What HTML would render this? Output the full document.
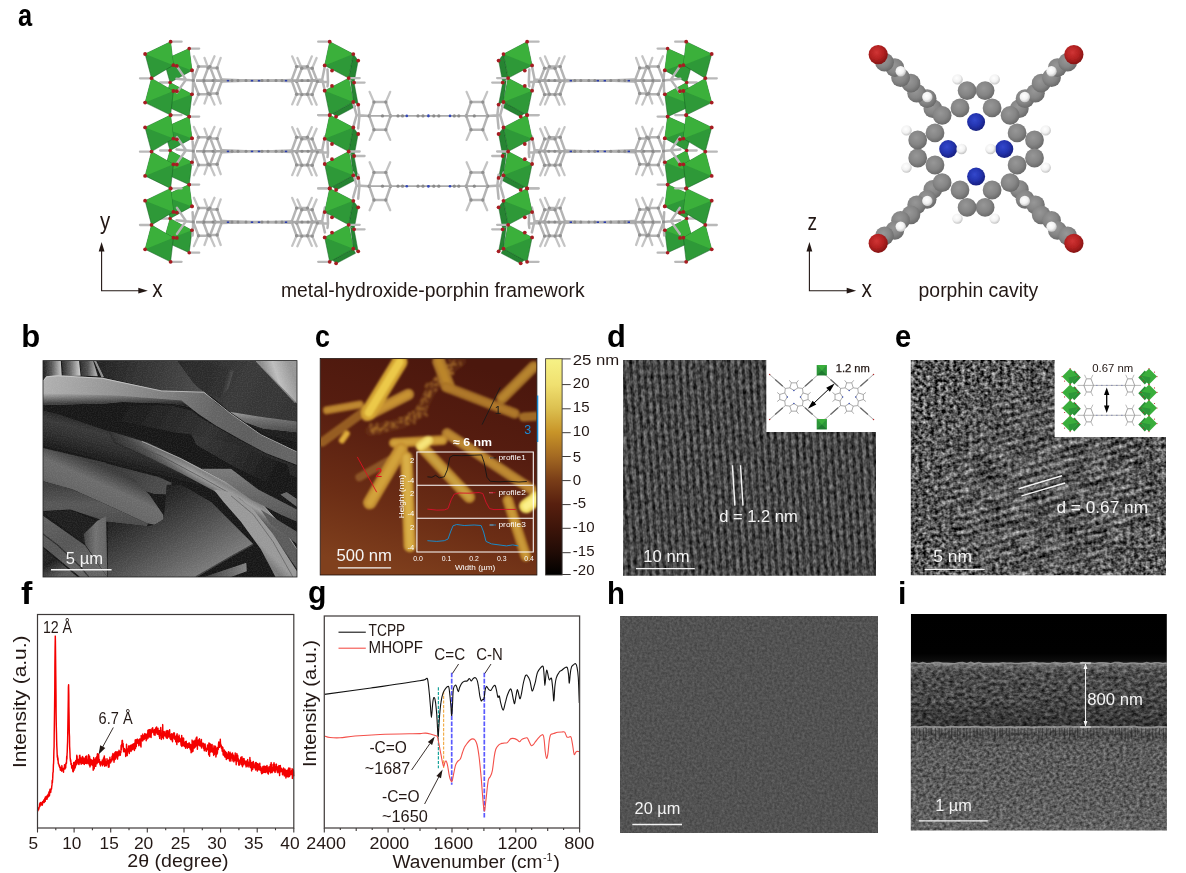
<!DOCTYPE html>
<html lang="en"><head><meta charset="utf-8"><title>Figure</title>
<style>
html,body{margin:0;padding:0;background:#fff;}
body{font-family:"Liberation Sans",sans-serif;overflow:hidden;}
#fig{position:relative;width:1186px;height:873px;background:#fff;overflow:hidden;opacity:0.9999;}
#fig svg{position:absolute;overflow:hidden;}
#fig text{font-family:"Liberation Sans",sans-serif;}
.pl{position:absolute;font-weight:bold;font-size:31px;line-height:1;color:#000;white-space:nowrap;transform-origin:0 0;}
</style></head><body><div id="fig">
<div class="pl" style="left:17.76px;top:0.46px;transform:scaleX(0.820)">a</div>
<div class="pl" style="left:21.30px;top:320.76px;transform:scaleX(1.000)">b</div>
<div class="pl" style="left:314.66px;top:320.76px;transform:scaleX(0.868)">c</div>
<div class="pl" style="left:607.01px;top:320.86px;transform:scaleX(0.994)">d</div>
<div class="pl" style="left:894.97px;top:320.86px;transform:scaleX(0.940)">e</div>
<div class="pl" style="left:21.25px;top:578.06px;transform:scaleX(1.100)">f</div>
<div class="pl" style="left:308.33px;top:577.36px;transform:scaleX(0.974)">g</div>
<div class="pl" style="left:607.22px;top:578.16px;transform:scaleX(0.946)">h</div>
<div class="pl" style="left:898.15px;top:578.06px;transform:scaleX(0.976)">i</div>
<svg style="position:absolute;left:0px;top:0px" width="1186" height="316" viewBox="0 0 1186 316" >
<defs>
<radialGradient id="gag" cx="0.42" cy="0.38" r="0.62"><stop offset="0" stop-color="#979797"/><stop offset="0.6" stop-color="#858585"/><stop offset="1" stop-color="#6a6a6a"/></radialGradient>
<radialGradient id="gab" cx="0.42" cy="0.38" r="0.62"><stop offset="0" stop-color="#3348cc"/><stop offset="0.55" stop-color="#2434b0"/><stop offset="1" stop-color="#182080"/></radialGradient>
<radialGradient id="gar" cx="0.42" cy="0.38" r="0.62"><stop offset="0" stop-color="#d03434"/><stop offset="0.55" stop-color="#b42222"/><stop offset="1" stop-color="#861414"/></radialGradient>
<radialGradient id="gah" cx="0.42" cy="0.38" r="0.62"><stop offset="0" stop-color="#ffffff"/><stop offset="0.6" stop-color="#f2f2f2"/><stop offset="1" stop-color="#c4c4c4"/></radialGradient>
<filter id="fa" x="-2%" y="-2%" width="104%" height="104%"><feGaussianBlur stdDeviation="0.45"/></filter>
</defs>
<g filter="url(#fa)">
<g><polygon points="189.2,48.6 163.7,60.0 170.1,82.5 192.0,70.4" fill="#2e9937" stroke="#145a22" stroke-width="0.50" stroke-linejoin="round"/><polygon points="189.2,48.6 163.7,60.0 192.0,70.4" fill="#3bb03b"/><path d="M189.2 48.6h10.0" stroke="#b9b9b9" stroke-width="2.3" stroke-linecap="round"/><path d="M170.1 82.5h-10.0" stroke="#b9b9b9" stroke-width="2.3" stroke-linecap="round"/><polygon points="170.1,82.6 192.0,94.3 189.2,116.7 163.7,105.1" fill="#2e9937" stroke="#145a22" stroke-width="0.50" stroke-linejoin="round"/><polygon points="170.1,82.6 192.0,94.3 163.7,105.1" fill="#3bb03b"/><polygon points="189.2,116.6 163.7,128.0 170.1,150.5 192.0,138.4" fill="#2e9937" stroke="#145a22" stroke-width="0.50" stroke-linejoin="round"/><polygon points="189.2,116.6 163.7,128.0 192.0,138.4" fill="#3bb03b"/><path d="M189.2 116.6h10.0" stroke="#b9b9b9" stroke-width="2.3" stroke-linecap="round"/><path d="M170.1 150.5h-10.0" stroke="#b9b9b9" stroke-width="2.3" stroke-linecap="round"/><polygon points="170.1,150.6 192.0,162.3 189.2,184.7 163.7,173.1" fill="#2e9937" stroke="#145a22" stroke-width="0.50" stroke-linejoin="round"/><polygon points="170.1,150.6 192.0,162.3 163.7,173.1" fill="#3bb03b"/><polygon points="189.2,184.6 163.7,196.0 170.1,218.5 192.0,206.4" fill="#2e9937" stroke="#145a22" stroke-width="0.50" stroke-linejoin="round"/><polygon points="189.2,184.6 163.7,196.0 192.0,206.4" fill="#3bb03b"/><path d="M189.2 184.6h10.0" stroke="#b9b9b9" stroke-width="2.3" stroke-linecap="round"/><path d="M170.1 218.5h-10.0" stroke="#b9b9b9" stroke-width="2.3" stroke-linecap="round"/><polygon points="170.1,218.6 192.0,230.3 189.2,252.7 163.7,241.1" fill="#2e9937" stroke="#145a22" stroke-width="0.50" stroke-linejoin="round"/><polygon points="170.1,218.6 192.0,230.3 163.7,241.1" fill="#3bb03b"/><path d="M189.2 252.7h10.0" stroke="#b9b9b9" stroke-width="2.3" stroke-linecap="round"/><circle cx="189.2" cy="48.6" r="1.8" fill="#a61d21"/><circle cx="192.0" cy="70.4" r="1.8" fill="#a61d21"/><circle cx="170.1" cy="82.5" r="1.8" fill="#a61d21"/><circle cx="192.0" cy="94.3" r="1.8" fill="#a61d21"/><circle cx="189.2" cy="116.7" r="1.8" fill="#a61d21"/><circle cx="189.2" cy="116.6" r="1.8" fill="#a61d21"/><circle cx="192.0" cy="138.4" r="1.8" fill="#a61d21"/><circle cx="170.1" cy="150.5" r="1.8" fill="#a61d21"/><circle cx="192.0" cy="162.3" r="1.8" fill="#a61d21"/><circle cx="189.2" cy="184.7" r="1.8" fill="#a61d21"/><circle cx="189.2" cy="184.6" r="1.8" fill="#a61d21"/><circle cx="192.0" cy="206.4" r="1.8" fill="#a61d21"/><circle cx="170.1" cy="218.5" r="1.8" fill="#a61d21"/><circle cx="192.0" cy="230.3" r="1.8" fill="#a61d21"/><circle cx="189.2" cy="252.7" r="1.8" fill="#a61d21"/><polygon points="353.3,54.1 358.2,60.6 354.1,82.6 348.7,78.1" fill="#258433" stroke="#145a22" stroke-width="0.40" stroke-linejoin="round"/><path d="M354.1 82.6h10.5" stroke="#b9b9b9" stroke-width="2.3" stroke-linecap="round"/><polygon points="350.5,80.4 354.1,82.6 358.2,104.6 353.3,102.0" fill="#258433" stroke="#145a22" stroke-width="0.40" stroke-linejoin="round"/><polygon points="353.3,102.0 355.6,106.6 336.4,116.8 332.5,113.4" fill="#258433" stroke="#145a22" stroke-width="0.40" stroke-linejoin="round"/><polygon points="353.3,127.5 358.2,134.0 354.1,156.0 348.7,151.5" fill="#258433" stroke="#145a22" stroke-width="0.40" stroke-linejoin="round"/><path d="M354.1 156.0h10.5" stroke="#b9b9b9" stroke-width="2.3" stroke-linecap="round"/><polygon points="350.5,153.7 354.1,155.9 358.2,177.9 353.3,175.3" fill="#258433" stroke="#145a22" stroke-width="0.40" stroke-linejoin="round"/><polygon points="353.3,175.3 355.6,179.9 336.4,190.1 332.5,186.7" fill="#258433" stroke="#145a22" stroke-width="0.40" stroke-linejoin="round"/><polygon points="353.3,200.8 358.2,207.3 354.1,229.3 348.7,224.8" fill="#258433" stroke="#145a22" stroke-width="0.40" stroke-linejoin="round"/><path d="M354.1 229.3h10.5" stroke="#b9b9b9" stroke-width="2.3" stroke-linecap="round"/><polygon points="350.5,227.1 354.1,229.3 358.2,251.3 353.3,248.7" fill="#258433" stroke="#145a22" stroke-width="0.40" stroke-linejoin="round"/><polygon points="353.3,248.7 355.6,253.3 336.4,263.5 332.5,260.1" fill="#258433" stroke="#145a22" stroke-width="0.40" stroke-linejoin="round"/><path d="M198.5 66.6L193.9 56.2M209.9 66.6L214.5 56.2M209.9 94.2L214.5 104.6M198.5 94.2L193.9 104.6M208.1 67.9L204.5 57.9M217.1 67.9L220.7 57.9M217.1 93.5L220.7 103.5M208.1 93.5L204.5 103.5M296.6 66.6L292.2 56.4M307.4 66.6L311.8 56.4M307.4 94.2L311.8 104.4M296.6 94.2L292.2 104.4M301.8 68.2L297.4 58.0M312.2 68.2L316.6 58.0M312.2 94.6L316.6 104.8M301.8 94.6L297.4 104.8" stroke="#c4c4c4" stroke-width="2.30" stroke-linecap="round" fill="none"/><path d="M193.2 80.4L198.5 66.6M198.5 66.6L209.9 66.6M209.9 66.6L215.2 80.4M215.2 80.4L209.9 94.2M209.9 94.2L198.5 94.2M198.5 94.2L193.2 80.4M203.3 80.7L208.1 67.9M208.1 67.9L217.1 67.9M217.1 67.9L221.9 80.7M221.9 80.7L217.1 93.5M217.1 93.5L208.1 93.5M208.1 93.5L203.3 80.7M291.6 80.4L296.6 66.6M296.6 66.6L307.4 66.6M307.4 66.6L312.4 80.4M312.4 80.4L307.4 94.2M307.4 94.2L296.6 94.2M296.6 94.2L291.6 80.4M296.6 81.4L301.8 68.2M301.8 68.2L312.2 68.2M312.2 68.2L317.4 81.4M317.4 81.4L312.2 94.6M312.2 94.6L301.8 94.6M301.8 94.6L296.6 81.4M193.2 80.4L176.5 78.8M193.2 80.4L192.6 70.8M193.2 80.4L192.6 93.9M186.0 79.6L177.0 66.4M186.0 79.6L177.0 92.4M312.4 80.4L322.2 79.4M322.2 79.4L324.9 65.9M322.2 79.4L324.9 90.9M317.4 81.4L328.0 81.9M328.0 81.9L327.5 69.4M328.0 81.9L327.5 86.4" stroke="#b4b4b4" stroke-width="2.50" stroke-linecap="round" fill="none"/><circle cx="193.2" cy="80.4" r="1.7" fill="#909090"/><circle cx="198.5" cy="66.6" r="1.7" fill="#909090"/><circle cx="209.9" cy="66.6" r="1.7" fill="#909090"/><circle cx="215.2" cy="80.4" r="1.7" fill="#909090"/><circle cx="209.9" cy="94.2" r="1.7" fill="#909090"/><circle cx="198.5" cy="94.2" r="1.7" fill="#909090"/><circle cx="203.3" cy="80.7" r="1.7" fill="#909090"/><circle cx="208.1" cy="67.9" r="1.7" fill="#909090"/><circle cx="217.1" cy="67.9" r="1.7" fill="#909090"/><circle cx="221.9" cy="80.7" r="1.7" fill="#909090"/><circle cx="217.1" cy="93.5" r="1.7" fill="#909090"/><circle cx="208.1" cy="93.5" r="1.7" fill="#909090"/><circle cx="291.6" cy="80.4" r="1.7" fill="#909090"/><circle cx="296.6" cy="66.6" r="1.7" fill="#909090"/><circle cx="307.4" cy="66.6" r="1.7" fill="#909090"/><circle cx="312.4" cy="80.4" r="1.7" fill="#909090"/><circle cx="307.4" cy="94.2" r="1.7" fill="#909090"/><circle cx="296.6" cy="94.2" r="1.7" fill="#909090"/><circle cx="296.6" cy="81.4" r="1.7" fill="#909090"/><circle cx="301.8" cy="68.2" r="1.7" fill="#909090"/><circle cx="312.2" cy="68.2" r="1.7" fill="#909090"/><circle cx="317.4" cy="81.4" r="1.7" fill="#909090"/><circle cx="312.2" cy="94.6" r="1.7" fill="#909090"/><circle cx="301.8" cy="94.6" r="1.7" fill="#909090"/><path d="M196.0 80.6L316.0 80.6" stroke="#a6a6a6" stroke-width="2.60" stroke-linecap="butt" fill="none"/><path d="M222.0 79.1L292.0 81.8M222.0 82.0L292.0 79.4" stroke="#b0b0b0" stroke-width="1.50" stroke-linecap="butt" fill="none"/><circle cx="204.0" cy="80.6" r="1.5" fill="#8a8a8a"/><circle cx="213.0" cy="80.6" r="1.5" fill="#8a8a8a"/><circle cx="232.0" cy="80.6" r="1.5" fill="#8a8a8a"/><circle cx="238.0" cy="80.6" r="1.5" fill="#8a8a8a"/><circle cx="246.0" cy="80.6" r="1.5" fill="#8a8a8a"/><circle cx="262.0" cy="80.6" r="1.5" fill="#8a8a8a"/><circle cx="268.0" cy="80.6" r="1.5" fill="#8a8a8a"/><circle cx="276.0" cy="80.6" r="1.5" fill="#8a8a8a"/><circle cx="282.0" cy="80.6" r="1.5" fill="#8a8a8a"/><circle cx="302.0" cy="80.6" r="1.5" fill="#8a8a8a"/><circle cx="308.0" cy="80.6" r="1.5" fill="#8a8a8a"/><rect x="226.8" y="79.9" width="2.4" height="1.6" fill="#2c3cac"/><rect x="250.8" y="79.9" width="2.4" height="1.6" fill="#2c3cac"/><rect x="257.8" y="79.9" width="2.4" height="1.6" fill="#2c3cac"/><rect x="284.8" y="79.9" width="2.4" height="1.6" fill="#2c3cac"/><path d="M198.5 137.3L193.9 126.9M209.9 137.3L214.5 126.9M209.9 164.9L214.5 175.3M198.5 164.9L193.9 175.3M208.1 138.6L204.5 128.6M217.1 138.6L220.7 128.6M217.1 164.2L220.7 174.2M208.1 164.2L204.5 174.2M296.6 137.3L292.2 127.1M307.4 137.3L311.8 127.1M307.4 164.9L311.8 175.1M296.6 164.9L292.2 175.1M301.8 138.9L297.4 128.7M312.2 138.9L316.6 128.7M312.2 165.3L316.6 175.5M301.8 165.3L297.4 175.5" stroke="#c4c4c4" stroke-width="2.30" stroke-linecap="round" fill="none"/><path d="M193.2 151.1L198.5 137.3M198.5 137.3L209.9 137.3M209.9 137.3L215.2 151.1M215.2 151.1L209.9 164.9M209.9 164.9L198.5 164.9M198.5 164.9L193.2 151.1M203.3 151.4L208.1 138.6M208.1 138.6L217.1 138.6M217.1 138.6L221.9 151.4M221.9 151.4L217.1 164.2M217.1 164.2L208.1 164.2M208.1 164.2L203.3 151.4M291.6 151.1L296.6 137.3M296.6 137.3L307.4 137.3M307.4 137.3L312.4 151.1M312.4 151.1L307.4 164.9M307.4 164.9L296.6 164.9M296.6 164.9L291.6 151.1M296.6 152.1L301.8 138.9M301.8 138.9L312.2 138.9M312.2 138.9L317.4 152.1M317.4 152.1L312.2 165.3M312.2 165.3L301.8 165.3M301.8 165.3L296.6 152.1M193.2 151.1L176.5 149.5M193.2 151.1L192.6 141.5M193.2 151.1L192.6 164.6M186.0 150.3L177.0 137.1M186.0 150.3L177.0 163.1M312.4 151.1L322.2 150.1M322.2 150.1L324.9 136.6M322.2 150.1L324.9 161.6M317.4 152.1L328.0 152.6M328.0 152.6L327.5 140.1M328.0 152.6L327.5 157.1" stroke="#b4b4b4" stroke-width="2.50" stroke-linecap="round" fill="none"/><circle cx="193.2" cy="151.1" r="1.7" fill="#909090"/><circle cx="198.5" cy="137.3" r="1.7" fill="#909090"/><circle cx="209.9" cy="137.3" r="1.7" fill="#909090"/><circle cx="215.2" cy="151.1" r="1.7" fill="#909090"/><circle cx="209.9" cy="164.9" r="1.7" fill="#909090"/><circle cx="198.5" cy="164.9" r="1.7" fill="#909090"/><circle cx="203.3" cy="151.4" r="1.7" fill="#909090"/><circle cx="208.1" cy="138.6" r="1.7" fill="#909090"/><circle cx="217.1" cy="138.6" r="1.7" fill="#909090"/><circle cx="221.9" cy="151.4" r="1.7" fill="#909090"/><circle cx="217.1" cy="164.2" r="1.7" fill="#909090"/><circle cx="208.1" cy="164.2" r="1.7" fill="#909090"/><circle cx="291.6" cy="151.1" r="1.7" fill="#909090"/><circle cx="296.6" cy="137.3" r="1.7" fill="#909090"/><circle cx="307.4" cy="137.3" r="1.7" fill="#909090"/><circle cx="312.4" cy="151.1" r="1.7" fill="#909090"/><circle cx="307.4" cy="164.9" r="1.7" fill="#909090"/><circle cx="296.6" cy="164.9" r="1.7" fill="#909090"/><circle cx="296.6" cy="152.1" r="1.7" fill="#909090"/><circle cx="301.8" cy="138.9" r="1.7" fill="#909090"/><circle cx="312.2" cy="138.9" r="1.7" fill="#909090"/><circle cx="317.4" cy="152.1" r="1.7" fill="#909090"/><circle cx="312.2" cy="165.3" r="1.7" fill="#909090"/><circle cx="301.8" cy="165.3" r="1.7" fill="#909090"/><path d="M196.0 151.3L316.0 151.3" stroke="#a6a6a6" stroke-width="2.60" stroke-linecap="butt" fill="none"/><path d="M222.0 149.8L292.0 152.5M222.0 152.7L292.0 150.1" stroke="#b0b0b0" stroke-width="1.50" stroke-linecap="butt" fill="none"/><circle cx="204.0" cy="151.3" r="1.5" fill="#8a8a8a"/><circle cx="213.0" cy="151.3" r="1.5" fill="#8a8a8a"/><circle cx="232.0" cy="151.3" r="1.5" fill="#8a8a8a"/><circle cx="238.0" cy="151.3" r="1.5" fill="#8a8a8a"/><circle cx="246.0" cy="151.3" r="1.5" fill="#8a8a8a"/><circle cx="262.0" cy="151.3" r="1.5" fill="#8a8a8a"/><circle cx="268.0" cy="151.3" r="1.5" fill="#8a8a8a"/><circle cx="276.0" cy="151.3" r="1.5" fill="#8a8a8a"/><circle cx="282.0" cy="151.3" r="1.5" fill="#8a8a8a"/><circle cx="302.0" cy="151.3" r="1.5" fill="#8a8a8a"/><circle cx="308.0" cy="151.3" r="1.5" fill="#8a8a8a"/><rect x="226.8" y="150.6" width="2.4" height="1.6" fill="#2c3cac"/><rect x="250.8" y="150.6" width="2.4" height="1.6" fill="#2c3cac"/><rect x="257.8" y="150.6" width="2.4" height="1.6" fill="#2c3cac"/><rect x="284.8" y="150.6" width="2.4" height="1.6" fill="#2c3cac"/><path d="M198.5 208.1L193.9 197.7M209.9 208.1L214.5 197.7M209.9 235.7L214.5 246.1M198.5 235.7L193.9 246.1M208.1 209.4L204.5 199.4M217.1 209.4L220.7 199.4M217.1 235.0L220.7 245.0M208.1 235.0L204.5 245.0M296.6 208.1L292.2 197.9M307.4 208.1L311.8 197.9M307.4 235.7L311.8 245.9M296.6 235.7L292.2 245.9M301.8 209.7L297.4 199.5M312.2 209.7L316.6 199.5M312.2 236.1L316.6 246.3M301.8 236.1L297.4 246.3" stroke="#c4c4c4" stroke-width="2.30" stroke-linecap="round" fill="none"/><path d="M193.2 221.9L198.5 208.1M198.5 208.1L209.9 208.1M209.9 208.1L215.2 221.9M215.2 221.9L209.9 235.7M209.9 235.7L198.5 235.7M198.5 235.7L193.2 221.9M203.3 222.2L208.1 209.4M208.1 209.4L217.1 209.4M217.1 209.4L221.9 222.2M221.9 222.2L217.1 235.0M217.1 235.0L208.1 235.0M208.1 235.0L203.3 222.2M291.6 221.9L296.6 208.1M296.6 208.1L307.4 208.1M307.4 208.1L312.4 221.9M312.4 221.9L307.4 235.7M307.4 235.7L296.6 235.7M296.6 235.7L291.6 221.9M296.6 222.9L301.8 209.7M301.8 209.7L312.2 209.7M312.2 209.7L317.4 222.9M317.4 222.9L312.2 236.1M312.2 236.1L301.8 236.1M301.8 236.1L296.6 222.9M193.2 221.9L176.5 220.3M193.2 221.9L192.6 212.3M193.2 221.9L192.6 235.4M186.0 221.1L177.0 207.9M186.0 221.1L177.0 233.9M312.4 221.9L322.2 220.9M322.2 220.9L324.9 207.4M322.2 220.9L324.9 232.4M317.4 222.9L328.0 223.4M328.0 223.4L327.5 210.9M328.0 223.4L327.5 227.9" stroke="#b4b4b4" stroke-width="2.50" stroke-linecap="round" fill="none"/><circle cx="193.2" cy="221.9" r="1.7" fill="#909090"/><circle cx="198.5" cy="208.1" r="1.7" fill="#909090"/><circle cx="209.9" cy="208.1" r="1.7" fill="#909090"/><circle cx="215.2" cy="221.9" r="1.7" fill="#909090"/><circle cx="209.9" cy="235.7" r="1.7" fill="#909090"/><circle cx="198.5" cy="235.7" r="1.7" fill="#909090"/><circle cx="203.3" cy="222.2" r="1.7" fill="#909090"/><circle cx="208.1" cy="209.4" r="1.7" fill="#909090"/><circle cx="217.1" cy="209.4" r="1.7" fill="#909090"/><circle cx="221.9" cy="222.2" r="1.7" fill="#909090"/><circle cx="217.1" cy="235.0" r="1.7" fill="#909090"/><circle cx="208.1" cy="235.0" r="1.7" fill="#909090"/><circle cx="291.6" cy="221.9" r="1.7" fill="#909090"/><circle cx="296.6" cy="208.1" r="1.7" fill="#909090"/><circle cx="307.4" cy="208.1" r="1.7" fill="#909090"/><circle cx="312.4" cy="221.9" r="1.7" fill="#909090"/><circle cx="307.4" cy="235.7" r="1.7" fill="#909090"/><circle cx="296.6" cy="235.7" r="1.7" fill="#909090"/><circle cx="296.6" cy="222.9" r="1.7" fill="#909090"/><circle cx="301.8" cy="209.7" r="1.7" fill="#909090"/><circle cx="312.2" cy="209.7" r="1.7" fill="#909090"/><circle cx="317.4" cy="222.9" r="1.7" fill="#909090"/><circle cx="312.2" cy="236.1" r="1.7" fill="#909090"/><circle cx="301.8" cy="236.1" r="1.7" fill="#909090"/><path d="M196.0 222.1L316.0 222.1" stroke="#a6a6a6" stroke-width="2.60" stroke-linecap="butt" fill="none"/><path d="M222.0 220.6L292.0 223.3M222.0 223.5L292.0 220.9" stroke="#b0b0b0" stroke-width="1.50" stroke-linecap="butt" fill="none"/><circle cx="204.0" cy="222.1" r="1.5" fill="#8a8a8a"/><circle cx="213.0" cy="222.1" r="1.5" fill="#8a8a8a"/><circle cx="232.0" cy="222.1" r="1.5" fill="#8a8a8a"/><circle cx="238.0" cy="222.1" r="1.5" fill="#8a8a8a"/><circle cx="246.0" cy="222.1" r="1.5" fill="#8a8a8a"/><circle cx="262.0" cy="222.1" r="1.5" fill="#8a8a8a"/><circle cx="268.0" cy="222.1" r="1.5" fill="#8a8a8a"/><circle cx="276.0" cy="222.1" r="1.5" fill="#8a8a8a"/><circle cx="282.0" cy="222.1" r="1.5" fill="#8a8a8a"/><circle cx="302.0" cy="222.1" r="1.5" fill="#8a8a8a"/><circle cx="308.0" cy="222.1" r="1.5" fill="#8a8a8a"/><rect x="226.8" y="221.4" width="2.4" height="1.6" fill="#2c3cac"/><rect x="250.8" y="221.4" width="2.4" height="1.6" fill="#2c3cac"/><rect x="257.8" y="221.4" width="2.4" height="1.6" fill="#2c3cac"/><rect x="284.8" y="221.4" width="2.4" height="1.6" fill="#2c3cac"/><circle cx="192.0" cy="70.4" r="1.8" fill="#a61d21"/><circle cx="192.0" cy="94.3" r="1.8" fill="#a61d21"/><circle cx="192.0" cy="138.4" r="1.8" fill="#a61d21"/><circle cx="192.0" cy="162.3" r="1.8" fill="#a61d21"/><circle cx="192.0" cy="206.4" r="1.8" fill="#a61d21"/><circle cx="192.0" cy="230.3" r="1.8" fill="#a61d21"/><path d="M374.0 102.1L369.6 91.9M385.8 102.1L390.2 91.9M385.8 129.7L390.2 139.9M374.0 129.7L369.6 139.9" stroke="#c4c4c4" stroke-width="2.30" stroke-linecap="round" fill="none"/><path d="M369.2 115.9L374.0 102.1M374.0 102.1L385.8 102.1M385.8 102.1L390.6 115.9M390.6 115.9L385.8 129.7M385.8 129.7L374.0 129.7M374.0 129.7L369.2 115.9M369.2 115.9L356.6 115.1M356.6 115.1L353.1 102.3M356.6 115.1L353.1 127.4M359.5 115.3L358.2 104.4M359.5 115.3L358.2 128.4" stroke="#b4b4b4" stroke-width="2.50" stroke-linecap="round" fill="none"/><circle cx="369.2" cy="115.9" r="1.7" fill="#909090"/><circle cx="374.0" cy="102.1" r="1.7" fill="#909090"/><circle cx="385.8" cy="102.1" r="1.7" fill="#909090"/><circle cx="390.6" cy="115.9" r="1.7" fill="#909090"/><circle cx="385.8" cy="129.7" r="1.7" fill="#909090"/><circle cx="374.0" cy="129.7" r="1.7" fill="#909090"/><path d="M369.2 115.9L430.0 115.9" stroke="#aaaaaa" stroke-width="1.80" stroke-linecap="butt" fill="none"/><circle cx="382.5" cy="115.9" r="1.6" fill="#8a8a8a"/><circle cx="398.0" cy="115.9" r="1.6" fill="#8a8a8a"/><circle cx="402.5" cy="115.9" r="1.6" fill="#8a8a8a"/><circle cx="418.0" cy="115.9" r="1.6" fill="#8a8a8a"/><circle cx="423.0" cy="115.9" r="1.6" fill="#8a8a8a"/><circle cx="406.8" cy="115.9" r="1.3" fill="#3346b8"/><circle cx="428.4" cy="115.9" r="1.3" fill="#3346b8"/><path d="M374.0 172.4L369.6 162.2M385.8 172.4L390.2 162.2M385.8 200.0L390.2 210.2M374.0 200.0L369.6 210.2" stroke="#c4c4c4" stroke-width="2.30" stroke-linecap="round" fill="none"/><path d="M369.2 186.2L374.0 172.4M374.0 172.4L385.8 172.4M385.8 172.4L390.6 186.2M390.6 186.2L385.8 200.0M385.8 200.0L374.0 200.0M374.0 200.0L369.2 186.2M369.2 186.2L356.6 185.4M356.6 185.4L353.1 172.6M356.6 185.4L353.1 197.7M359.5 185.6L358.2 174.7M359.5 185.6L358.2 198.7" stroke="#b4b4b4" stroke-width="2.50" stroke-linecap="round" fill="none"/><circle cx="369.2" cy="186.2" r="1.7" fill="#909090"/><circle cx="374.0" cy="172.4" r="1.7" fill="#909090"/><circle cx="385.8" cy="172.4" r="1.7" fill="#909090"/><circle cx="390.6" cy="186.2" r="1.7" fill="#909090"/><circle cx="385.8" cy="200.0" r="1.7" fill="#909090"/><circle cx="374.0" cy="200.0" r="1.7" fill="#909090"/><path d="M369.2 186.2L430.0 186.2" stroke="#aaaaaa" stroke-width="1.80" stroke-linecap="butt" fill="none"/><circle cx="382.5" cy="186.2" r="1.6" fill="#8a8a8a"/><circle cx="398.0" cy="186.2" r="1.6" fill="#8a8a8a"/><circle cx="402.5" cy="186.2" r="1.6" fill="#8a8a8a"/><circle cx="418.0" cy="186.2" r="1.6" fill="#8a8a8a"/><circle cx="423.0" cy="186.2" r="1.6" fill="#8a8a8a"/><circle cx="406.8" cy="186.2" r="1.3" fill="#3346b8"/><circle cx="428.4" cy="186.2" r="1.3" fill="#3346b8"/><polygon points="170.6,41.7 145.1,54.0 151.5,78.2 173.4,65.2" fill="#2e9937" stroke="#145a22" stroke-width="0.50" stroke-linejoin="round"/><polygon points="170.6,41.7 145.1,54.0 173.4,65.2" fill="#3bb03b"/><path d="M170.6 41.7h11.0" stroke="#b9b9b9" stroke-width="2.3" stroke-linecap="round"/><path d="M151.5 78.3h-11.5" stroke="#b9b9b9" stroke-width="2.3" stroke-linecap="round"/><polygon points="151.5,78.4 173.4,91.0 170.6,115.1 145.1,102.6" fill="#2e9937" stroke="#145a22" stroke-width="0.50" stroke-linejoin="round"/><polygon points="151.5,78.4 173.4,91.0 145.1,102.6" fill="#3bb03b"/><polygon points="170.6,115.1 145.1,127.4 151.5,151.6 173.4,138.6" fill="#2e9937" stroke="#145a22" stroke-width="0.50" stroke-linejoin="round"/><polygon points="170.6,115.1 145.1,127.4 173.4,138.6" fill="#3bb03b"/><path d="M170.6 115.1h11.0" stroke="#b9b9b9" stroke-width="2.3" stroke-linecap="round"/><path d="M151.5 151.7h-11.5" stroke="#b9b9b9" stroke-width="2.3" stroke-linecap="round"/><polygon points="151.5,151.7 173.4,164.3 170.6,188.4 145.1,175.9" fill="#2e9937" stroke="#145a22" stroke-width="0.50" stroke-linejoin="round"/><polygon points="151.5,151.7 173.4,164.3 145.1,175.9" fill="#3bb03b"/><polygon points="170.6,188.4 145.1,200.7 151.5,224.9 173.4,211.9" fill="#2e9937" stroke="#145a22" stroke-width="0.50" stroke-linejoin="round"/><polygon points="170.6,188.4 145.1,200.7 173.4,211.9" fill="#3bb03b"/><path d="M170.6 188.4h11.0" stroke="#b9b9b9" stroke-width="2.3" stroke-linecap="round"/><path d="M151.5 225.0h-11.5" stroke="#b9b9b9" stroke-width="2.3" stroke-linecap="round"/><polygon points="151.5,225.1 173.4,237.7 170.6,261.8 145.1,249.3" fill="#2e9937" stroke="#145a22" stroke-width="0.50" stroke-linejoin="round"/><polygon points="151.5,225.1 173.4,237.7 145.1,249.3" fill="#3bb03b"/><path d="M170.6 261.8h11.0" stroke="#b9b9b9" stroke-width="2.3" stroke-linecap="round"/><polygon points="329.7,41.7 353.3,54.1 348.7,78.1 324.7,65.4" fill="#2e9937" stroke="#145a22" stroke-width="0.50" stroke-linejoin="round"/><polygon points="329.7,41.7 353.3,54.1 324.7,65.4" fill="#3bb03b"/><path d="M329.7 41.7h-11.5" stroke="#b9b9b9" stroke-width="2.3" stroke-linecap="round"/><path d="M348.7 78.1h11.0" stroke="#b9b9b9" stroke-width="2.3" stroke-linecap="round"/><polygon points="348.7,78.2 324.7,90.7 329.7,115.1 353.3,102.0" fill="#2e9937" stroke="#145a22" stroke-width="0.50" stroke-linejoin="round"/><polygon points="348.7,78.2 324.7,90.7 353.3,102.0" fill="#3bb03b"/><path d="M329.7 115.1h-11.5" stroke="#b9b9b9" stroke-width="2.3" stroke-linecap="round"/><polygon points="329.7,115.1 353.3,127.5 348.7,151.5 324.7,138.8" fill="#2e9937" stroke="#145a22" stroke-width="0.50" stroke-linejoin="round"/><polygon points="329.7,115.1 353.3,127.5 324.7,138.8" fill="#3bb03b"/><path d="M329.7 115.1h-11.5" stroke="#b9b9b9" stroke-width="2.3" stroke-linecap="round"/><path d="M348.7 151.5h11.0" stroke="#b9b9b9" stroke-width="2.3" stroke-linecap="round"/><polygon points="348.7,151.5 324.7,164.0 329.7,188.4 353.3,175.3" fill="#2e9937" stroke="#145a22" stroke-width="0.50" stroke-linejoin="round"/><polygon points="348.7,151.5 324.7,164.0 353.3,175.3" fill="#3bb03b"/><path d="M329.7 188.4h-11.5" stroke="#b9b9b9" stroke-width="2.3" stroke-linecap="round"/><polygon points="329.7,188.4 353.3,200.8 348.7,224.8 324.7,212.1" fill="#2e9937" stroke="#145a22" stroke-width="0.50" stroke-linejoin="round"/><polygon points="329.7,188.4 353.3,200.8 324.7,212.1" fill="#3bb03b"/><path d="M329.7 188.4h-11.5" stroke="#b9b9b9" stroke-width="2.3" stroke-linecap="round"/><path d="M348.7 224.8h11.0" stroke="#b9b9b9" stroke-width="2.3" stroke-linecap="round"/><polygon points="348.7,224.9 324.7,237.4 329.7,261.8 353.3,248.7" fill="#2e9937" stroke="#145a22" stroke-width="0.50" stroke-linejoin="round"/><polygon points="348.7,224.9 324.7,237.4 353.3,248.7" fill="#3bb03b"/><path d="M329.7 261.8h-11.5" stroke="#b9b9b9" stroke-width="2.3" stroke-linecap="round"/><circle cx="170.6" cy="41.7" r="1.9" fill="#a61d21"/><circle cx="145.1" cy="54.0" r="1.9" fill="#a61d21"/><circle cx="151.5" cy="78.2" r="1.9" fill="#a61d21"/><circle cx="173.4" cy="65.2" r="1.9" fill="#a61d21"/><circle cx="176.8" cy="65.9" r="1.9" fill="#a61d21"/><circle cx="173.4" cy="91.0" r="1.9" fill="#a61d21"/><circle cx="170.6" cy="115.1" r="1.9" fill="#a61d21"/><circle cx="145.1" cy="102.6" r="1.9" fill="#a61d21"/><circle cx="176.8" cy="91.2" r="1.9" fill="#a61d21"/><circle cx="170.6" cy="115.1" r="1.9" fill="#a61d21"/><circle cx="145.1" cy="127.4" r="1.9" fill="#a61d21"/><circle cx="151.5" cy="151.6" r="1.9" fill="#a61d21"/><circle cx="173.4" cy="138.6" r="1.9" fill="#a61d21"/><circle cx="176.8" cy="139.3" r="1.9" fill="#a61d21"/><circle cx="173.4" cy="164.3" r="1.9" fill="#a61d21"/><circle cx="170.6" cy="188.4" r="1.9" fill="#a61d21"/><circle cx="145.1" cy="175.9" r="1.9" fill="#a61d21"/><circle cx="176.8" cy="164.5" r="1.9" fill="#a61d21"/><circle cx="170.6" cy="188.4" r="1.9" fill="#a61d21"/><circle cx="145.1" cy="200.7" r="1.9" fill="#a61d21"/><circle cx="151.5" cy="224.9" r="1.9" fill="#a61d21"/><circle cx="173.4" cy="211.9" r="1.9" fill="#a61d21"/><circle cx="176.8" cy="212.6" r="1.9" fill="#a61d21"/><circle cx="173.4" cy="237.7" r="1.9" fill="#a61d21"/><circle cx="170.6" cy="261.8" r="1.9" fill="#a61d21"/><circle cx="145.1" cy="249.3" r="1.9" fill="#a61d21"/><circle cx="176.8" cy="237.9" r="1.9" fill="#a61d21"/><circle cx="329.7" cy="41.7" r="1.9" fill="#a61d21"/><circle cx="353.3" cy="54.1" r="1.9" fill="#a61d21"/><circle cx="348.7" cy="78.1" r="1.9" fill="#a61d21"/><circle cx="324.7" cy="65.4" r="1.9" fill="#a61d21"/><circle cx="358.2" cy="60.6" r="1.9" fill="#a61d21"/><circle cx="332.0" cy="70.6" r="1.9" fill="#a61d21"/><circle cx="354.1" cy="82.6" r="1.9" fill="#a61d21"/><circle cx="324.7" cy="90.7" r="1.9" fill="#a61d21"/><circle cx="329.7" cy="115.1" r="1.9" fill="#a61d21"/><circle cx="353.3" cy="102.0" r="1.9" fill="#a61d21"/><circle cx="358.2" cy="104.6" r="1.9" fill="#a61d21"/><circle cx="336.1" cy="116.6" r="1.9" fill="#a61d21"/><circle cx="332.0" cy="85.9" r="1.9" fill="#a61d21"/><circle cx="329.7" cy="115.1" r="1.9" fill="#a61d21"/><circle cx="353.3" cy="127.5" r="1.9" fill="#a61d21"/><circle cx="348.7" cy="151.5" r="1.9" fill="#a61d21"/><circle cx="324.7" cy="138.8" r="1.9" fill="#a61d21"/><circle cx="358.2" cy="134.0" r="1.9" fill="#a61d21"/><circle cx="332.0" cy="144.0" r="1.9" fill="#a61d21"/><circle cx="354.1" cy="156.0" r="1.9" fill="#a61d21"/><circle cx="324.7" cy="164.0" r="1.9" fill="#a61d21"/><circle cx="329.7" cy="188.4" r="1.9" fill="#a61d21"/><circle cx="353.3" cy="175.3" r="1.9" fill="#a61d21"/><circle cx="358.2" cy="177.9" r="1.9" fill="#a61d21"/><circle cx="336.1" cy="189.9" r="1.9" fill="#a61d21"/><circle cx="332.0" cy="159.2" r="1.9" fill="#a61d21"/><circle cx="329.7" cy="188.4" r="1.9" fill="#a61d21"/><circle cx="353.3" cy="200.8" r="1.9" fill="#a61d21"/><circle cx="348.7" cy="224.8" r="1.9" fill="#a61d21"/><circle cx="324.7" cy="212.1" r="1.9" fill="#a61d21"/><circle cx="358.2" cy="207.3" r="1.9" fill="#a61d21"/><circle cx="332.0" cy="217.3" r="1.9" fill="#a61d21"/><circle cx="354.1" cy="229.3" r="1.9" fill="#a61d21"/><circle cx="324.7" cy="237.4" r="1.9" fill="#a61d21"/><circle cx="329.7" cy="261.8" r="1.9" fill="#a61d21"/><circle cx="353.3" cy="248.7" r="1.9" fill="#a61d21"/><circle cx="358.2" cy="251.3" r="1.9" fill="#a61d21"/><circle cx="336.1" cy="263.3" r="1.9" fill="#a61d21"/><circle cx="332.0" cy="232.6" r="1.9" fill="#a61d21"/></g>
<g transform="translate(856.8,0) scale(-1,1)"><polygon points="189.2,48.6 163.7,60.0 170.1,82.5 192.0,70.4" fill="#2e9937" stroke="#145a22" stroke-width="0.50" stroke-linejoin="round"/><polygon points="189.2,48.6 163.7,60.0 192.0,70.4" fill="#3bb03b"/><path d="M189.2 48.6h10.0" stroke="#b9b9b9" stroke-width="2.3" stroke-linecap="round"/><path d="M170.1 82.5h-10.0" stroke="#b9b9b9" stroke-width="2.3" stroke-linecap="round"/><polygon points="170.1,82.6 192.0,94.3 189.2,116.7 163.7,105.1" fill="#2e9937" stroke="#145a22" stroke-width="0.50" stroke-linejoin="round"/><polygon points="170.1,82.6 192.0,94.3 163.7,105.1" fill="#3bb03b"/><polygon points="189.2,116.6 163.7,128.0 170.1,150.5 192.0,138.4" fill="#2e9937" stroke="#145a22" stroke-width="0.50" stroke-linejoin="round"/><polygon points="189.2,116.6 163.7,128.0 192.0,138.4" fill="#3bb03b"/><path d="M189.2 116.6h10.0" stroke="#b9b9b9" stroke-width="2.3" stroke-linecap="round"/><path d="M170.1 150.5h-10.0" stroke="#b9b9b9" stroke-width="2.3" stroke-linecap="round"/><polygon points="170.1,150.6 192.0,162.3 189.2,184.7 163.7,173.1" fill="#2e9937" stroke="#145a22" stroke-width="0.50" stroke-linejoin="round"/><polygon points="170.1,150.6 192.0,162.3 163.7,173.1" fill="#3bb03b"/><polygon points="189.2,184.6 163.7,196.0 170.1,218.5 192.0,206.4" fill="#2e9937" stroke="#145a22" stroke-width="0.50" stroke-linejoin="round"/><polygon points="189.2,184.6 163.7,196.0 192.0,206.4" fill="#3bb03b"/><path d="M189.2 184.6h10.0" stroke="#b9b9b9" stroke-width="2.3" stroke-linecap="round"/><path d="M170.1 218.5h-10.0" stroke="#b9b9b9" stroke-width="2.3" stroke-linecap="round"/><polygon points="170.1,218.6 192.0,230.3 189.2,252.7 163.7,241.1" fill="#2e9937" stroke="#145a22" stroke-width="0.50" stroke-linejoin="round"/><polygon points="170.1,218.6 192.0,230.3 163.7,241.1" fill="#3bb03b"/><path d="M189.2 252.7h10.0" stroke="#b9b9b9" stroke-width="2.3" stroke-linecap="round"/><circle cx="189.2" cy="48.6" r="1.8" fill="#a61d21"/><circle cx="192.0" cy="70.4" r="1.8" fill="#a61d21"/><circle cx="170.1" cy="82.5" r="1.8" fill="#a61d21"/><circle cx="192.0" cy="94.3" r="1.8" fill="#a61d21"/><circle cx="189.2" cy="116.7" r="1.8" fill="#a61d21"/><circle cx="189.2" cy="116.6" r="1.8" fill="#a61d21"/><circle cx="192.0" cy="138.4" r="1.8" fill="#a61d21"/><circle cx="170.1" cy="150.5" r="1.8" fill="#a61d21"/><circle cx="192.0" cy="162.3" r="1.8" fill="#a61d21"/><circle cx="189.2" cy="184.7" r="1.8" fill="#a61d21"/><circle cx="189.2" cy="184.6" r="1.8" fill="#a61d21"/><circle cx="192.0" cy="206.4" r="1.8" fill="#a61d21"/><circle cx="170.1" cy="218.5" r="1.8" fill="#a61d21"/><circle cx="192.0" cy="230.3" r="1.8" fill="#a61d21"/><circle cx="189.2" cy="252.7" r="1.8" fill="#a61d21"/><polygon points="353.3,54.1 358.2,60.6 354.1,82.6 348.7,78.1" fill="#258433" stroke="#145a22" stroke-width="0.40" stroke-linejoin="round"/><path d="M354.1 82.6h10.5" stroke="#b9b9b9" stroke-width="2.3" stroke-linecap="round"/><polygon points="350.5,80.4 354.1,82.6 358.2,104.6 353.3,102.0" fill="#258433" stroke="#145a22" stroke-width="0.40" stroke-linejoin="round"/><polygon points="353.3,102.0 355.6,106.6 336.4,116.8 332.5,113.4" fill="#258433" stroke="#145a22" stroke-width="0.40" stroke-linejoin="round"/><polygon points="353.3,127.5 358.2,134.0 354.1,156.0 348.7,151.5" fill="#258433" stroke="#145a22" stroke-width="0.40" stroke-linejoin="round"/><path d="M354.1 156.0h10.5" stroke="#b9b9b9" stroke-width="2.3" stroke-linecap="round"/><polygon points="350.5,153.7 354.1,155.9 358.2,177.9 353.3,175.3" fill="#258433" stroke="#145a22" stroke-width="0.40" stroke-linejoin="round"/><polygon points="353.3,175.3 355.6,179.9 336.4,190.1 332.5,186.7" fill="#258433" stroke="#145a22" stroke-width="0.40" stroke-linejoin="round"/><polygon points="353.3,200.8 358.2,207.3 354.1,229.3 348.7,224.8" fill="#258433" stroke="#145a22" stroke-width="0.40" stroke-linejoin="round"/><path d="M354.1 229.3h10.5" stroke="#b9b9b9" stroke-width="2.3" stroke-linecap="round"/><polygon points="350.5,227.1 354.1,229.3 358.2,251.3 353.3,248.7" fill="#258433" stroke="#145a22" stroke-width="0.40" stroke-linejoin="round"/><polygon points="353.3,248.7 355.6,253.3 336.4,263.5 332.5,260.1" fill="#258433" stroke="#145a22" stroke-width="0.40" stroke-linejoin="round"/><path d="M198.5 66.6L193.9 56.2M209.9 66.6L214.5 56.2M209.9 94.2L214.5 104.6M198.5 94.2L193.9 104.6M208.1 67.9L204.5 57.9M217.1 67.9L220.7 57.9M217.1 93.5L220.7 103.5M208.1 93.5L204.5 103.5M296.6 66.6L292.2 56.4M307.4 66.6L311.8 56.4M307.4 94.2L311.8 104.4M296.6 94.2L292.2 104.4M301.8 68.2L297.4 58.0M312.2 68.2L316.6 58.0M312.2 94.6L316.6 104.8M301.8 94.6L297.4 104.8" stroke="#c4c4c4" stroke-width="2.30" stroke-linecap="round" fill="none"/><path d="M193.2 80.4L198.5 66.6M198.5 66.6L209.9 66.6M209.9 66.6L215.2 80.4M215.2 80.4L209.9 94.2M209.9 94.2L198.5 94.2M198.5 94.2L193.2 80.4M203.3 80.7L208.1 67.9M208.1 67.9L217.1 67.9M217.1 67.9L221.9 80.7M221.9 80.7L217.1 93.5M217.1 93.5L208.1 93.5M208.1 93.5L203.3 80.7M291.6 80.4L296.6 66.6M296.6 66.6L307.4 66.6M307.4 66.6L312.4 80.4M312.4 80.4L307.4 94.2M307.4 94.2L296.6 94.2M296.6 94.2L291.6 80.4M296.6 81.4L301.8 68.2M301.8 68.2L312.2 68.2M312.2 68.2L317.4 81.4M317.4 81.4L312.2 94.6M312.2 94.6L301.8 94.6M301.8 94.6L296.6 81.4M193.2 80.4L176.5 78.8M193.2 80.4L192.6 70.8M193.2 80.4L192.6 93.9M186.0 79.6L177.0 66.4M186.0 79.6L177.0 92.4M312.4 80.4L322.2 79.4M322.2 79.4L324.9 65.9M322.2 79.4L324.9 90.9M317.4 81.4L328.0 81.9M328.0 81.9L327.5 69.4M328.0 81.9L327.5 86.4" stroke="#b4b4b4" stroke-width="2.50" stroke-linecap="round" fill="none"/><circle cx="193.2" cy="80.4" r="1.7" fill="#909090"/><circle cx="198.5" cy="66.6" r="1.7" fill="#909090"/><circle cx="209.9" cy="66.6" r="1.7" fill="#909090"/><circle cx="215.2" cy="80.4" r="1.7" fill="#909090"/><circle cx="209.9" cy="94.2" r="1.7" fill="#909090"/><circle cx="198.5" cy="94.2" r="1.7" fill="#909090"/><circle cx="203.3" cy="80.7" r="1.7" fill="#909090"/><circle cx="208.1" cy="67.9" r="1.7" fill="#909090"/><circle cx="217.1" cy="67.9" r="1.7" fill="#909090"/><circle cx="221.9" cy="80.7" r="1.7" fill="#909090"/><circle cx="217.1" cy="93.5" r="1.7" fill="#909090"/><circle cx="208.1" cy="93.5" r="1.7" fill="#909090"/><circle cx="291.6" cy="80.4" r="1.7" fill="#909090"/><circle cx="296.6" cy="66.6" r="1.7" fill="#909090"/><circle cx="307.4" cy="66.6" r="1.7" fill="#909090"/><circle cx="312.4" cy="80.4" r="1.7" fill="#909090"/><circle cx="307.4" cy="94.2" r="1.7" fill="#909090"/><circle cx="296.6" cy="94.2" r="1.7" fill="#909090"/><circle cx="296.6" cy="81.4" r="1.7" fill="#909090"/><circle cx="301.8" cy="68.2" r="1.7" fill="#909090"/><circle cx="312.2" cy="68.2" r="1.7" fill="#909090"/><circle cx="317.4" cy="81.4" r="1.7" fill="#909090"/><circle cx="312.2" cy="94.6" r="1.7" fill="#909090"/><circle cx="301.8" cy="94.6" r="1.7" fill="#909090"/><path d="M196.0 80.6L316.0 80.6" stroke="#a6a6a6" stroke-width="2.60" stroke-linecap="butt" fill="none"/><path d="M222.0 79.1L292.0 81.8M222.0 82.0L292.0 79.4" stroke="#b0b0b0" stroke-width="1.50" stroke-linecap="butt" fill="none"/><circle cx="204.0" cy="80.6" r="1.5" fill="#8a8a8a"/><circle cx="213.0" cy="80.6" r="1.5" fill="#8a8a8a"/><circle cx="232.0" cy="80.6" r="1.5" fill="#8a8a8a"/><circle cx="238.0" cy="80.6" r="1.5" fill="#8a8a8a"/><circle cx="246.0" cy="80.6" r="1.5" fill="#8a8a8a"/><circle cx="262.0" cy="80.6" r="1.5" fill="#8a8a8a"/><circle cx="268.0" cy="80.6" r="1.5" fill="#8a8a8a"/><circle cx="276.0" cy="80.6" r="1.5" fill="#8a8a8a"/><circle cx="282.0" cy="80.6" r="1.5" fill="#8a8a8a"/><circle cx="302.0" cy="80.6" r="1.5" fill="#8a8a8a"/><circle cx="308.0" cy="80.6" r="1.5" fill="#8a8a8a"/><rect x="226.8" y="79.9" width="2.4" height="1.6" fill="#2c3cac"/><rect x="250.8" y="79.9" width="2.4" height="1.6" fill="#2c3cac"/><rect x="257.8" y="79.9" width="2.4" height="1.6" fill="#2c3cac"/><rect x="284.8" y="79.9" width="2.4" height="1.6" fill="#2c3cac"/><path d="M198.5 137.3L193.9 126.9M209.9 137.3L214.5 126.9M209.9 164.9L214.5 175.3M198.5 164.9L193.9 175.3M208.1 138.6L204.5 128.6M217.1 138.6L220.7 128.6M217.1 164.2L220.7 174.2M208.1 164.2L204.5 174.2M296.6 137.3L292.2 127.1M307.4 137.3L311.8 127.1M307.4 164.9L311.8 175.1M296.6 164.9L292.2 175.1M301.8 138.9L297.4 128.7M312.2 138.9L316.6 128.7M312.2 165.3L316.6 175.5M301.8 165.3L297.4 175.5" stroke="#c4c4c4" stroke-width="2.30" stroke-linecap="round" fill="none"/><path d="M193.2 151.1L198.5 137.3M198.5 137.3L209.9 137.3M209.9 137.3L215.2 151.1M215.2 151.1L209.9 164.9M209.9 164.9L198.5 164.9M198.5 164.9L193.2 151.1M203.3 151.4L208.1 138.6M208.1 138.6L217.1 138.6M217.1 138.6L221.9 151.4M221.9 151.4L217.1 164.2M217.1 164.2L208.1 164.2M208.1 164.2L203.3 151.4M291.6 151.1L296.6 137.3M296.6 137.3L307.4 137.3M307.4 137.3L312.4 151.1M312.4 151.1L307.4 164.9M307.4 164.9L296.6 164.9M296.6 164.9L291.6 151.1M296.6 152.1L301.8 138.9M301.8 138.9L312.2 138.9M312.2 138.9L317.4 152.1M317.4 152.1L312.2 165.3M312.2 165.3L301.8 165.3M301.8 165.3L296.6 152.1M193.2 151.1L176.5 149.5M193.2 151.1L192.6 141.5M193.2 151.1L192.6 164.6M186.0 150.3L177.0 137.1M186.0 150.3L177.0 163.1M312.4 151.1L322.2 150.1M322.2 150.1L324.9 136.6M322.2 150.1L324.9 161.6M317.4 152.1L328.0 152.6M328.0 152.6L327.5 140.1M328.0 152.6L327.5 157.1" stroke="#b4b4b4" stroke-width="2.50" stroke-linecap="round" fill="none"/><circle cx="193.2" cy="151.1" r="1.7" fill="#909090"/><circle cx="198.5" cy="137.3" r="1.7" fill="#909090"/><circle cx="209.9" cy="137.3" r="1.7" fill="#909090"/><circle cx="215.2" cy="151.1" r="1.7" fill="#909090"/><circle cx="209.9" cy="164.9" r="1.7" fill="#909090"/><circle cx="198.5" cy="164.9" r="1.7" fill="#909090"/><circle cx="203.3" cy="151.4" r="1.7" fill="#909090"/><circle cx="208.1" cy="138.6" r="1.7" fill="#909090"/><circle cx="217.1" cy="138.6" r="1.7" fill="#909090"/><circle cx="221.9" cy="151.4" r="1.7" fill="#909090"/><circle cx="217.1" cy="164.2" r="1.7" fill="#909090"/><circle cx="208.1" cy="164.2" r="1.7" fill="#909090"/><circle cx="291.6" cy="151.1" r="1.7" fill="#909090"/><circle cx="296.6" cy="137.3" r="1.7" fill="#909090"/><circle cx="307.4" cy="137.3" r="1.7" fill="#909090"/><circle cx="312.4" cy="151.1" r="1.7" fill="#909090"/><circle cx="307.4" cy="164.9" r="1.7" fill="#909090"/><circle cx="296.6" cy="164.9" r="1.7" fill="#909090"/><circle cx="296.6" cy="152.1" r="1.7" fill="#909090"/><circle cx="301.8" cy="138.9" r="1.7" fill="#909090"/><circle cx="312.2" cy="138.9" r="1.7" fill="#909090"/><circle cx="317.4" cy="152.1" r="1.7" fill="#909090"/><circle cx="312.2" cy="165.3" r="1.7" fill="#909090"/><circle cx="301.8" cy="165.3" r="1.7" fill="#909090"/><path d="M196.0 151.3L316.0 151.3" stroke="#a6a6a6" stroke-width="2.60" stroke-linecap="butt" fill="none"/><path d="M222.0 149.8L292.0 152.5M222.0 152.7L292.0 150.1" stroke="#b0b0b0" stroke-width="1.50" stroke-linecap="butt" fill="none"/><circle cx="204.0" cy="151.3" r="1.5" fill="#8a8a8a"/><circle cx="213.0" cy="151.3" r="1.5" fill="#8a8a8a"/><circle cx="232.0" cy="151.3" r="1.5" fill="#8a8a8a"/><circle cx="238.0" cy="151.3" r="1.5" fill="#8a8a8a"/><circle cx="246.0" cy="151.3" r="1.5" fill="#8a8a8a"/><circle cx="262.0" cy="151.3" r="1.5" fill="#8a8a8a"/><circle cx="268.0" cy="151.3" r="1.5" fill="#8a8a8a"/><circle cx="276.0" cy="151.3" r="1.5" fill="#8a8a8a"/><circle cx="282.0" cy="151.3" r="1.5" fill="#8a8a8a"/><circle cx="302.0" cy="151.3" r="1.5" fill="#8a8a8a"/><circle cx="308.0" cy="151.3" r="1.5" fill="#8a8a8a"/><rect x="226.8" y="150.6" width="2.4" height="1.6" fill="#2c3cac"/><rect x="250.8" y="150.6" width="2.4" height="1.6" fill="#2c3cac"/><rect x="257.8" y="150.6" width="2.4" height="1.6" fill="#2c3cac"/><rect x="284.8" y="150.6" width="2.4" height="1.6" fill="#2c3cac"/><path d="M198.5 208.1L193.9 197.7M209.9 208.1L214.5 197.7M209.9 235.7L214.5 246.1M198.5 235.7L193.9 246.1M208.1 209.4L204.5 199.4M217.1 209.4L220.7 199.4M217.1 235.0L220.7 245.0M208.1 235.0L204.5 245.0M296.6 208.1L292.2 197.9M307.4 208.1L311.8 197.9M307.4 235.7L311.8 245.9M296.6 235.7L292.2 245.9M301.8 209.7L297.4 199.5M312.2 209.7L316.6 199.5M312.2 236.1L316.6 246.3M301.8 236.1L297.4 246.3" stroke="#c4c4c4" stroke-width="2.30" stroke-linecap="round" fill="none"/><path d="M193.2 221.9L198.5 208.1M198.5 208.1L209.9 208.1M209.9 208.1L215.2 221.9M215.2 221.9L209.9 235.7M209.9 235.7L198.5 235.7M198.5 235.7L193.2 221.9M203.3 222.2L208.1 209.4M208.1 209.4L217.1 209.4M217.1 209.4L221.9 222.2M221.9 222.2L217.1 235.0M217.1 235.0L208.1 235.0M208.1 235.0L203.3 222.2M291.6 221.9L296.6 208.1M296.6 208.1L307.4 208.1M307.4 208.1L312.4 221.9M312.4 221.9L307.4 235.7M307.4 235.7L296.6 235.7M296.6 235.7L291.6 221.9M296.6 222.9L301.8 209.7M301.8 209.7L312.2 209.7M312.2 209.7L317.4 222.9M317.4 222.9L312.2 236.1M312.2 236.1L301.8 236.1M301.8 236.1L296.6 222.9M193.2 221.9L176.5 220.3M193.2 221.9L192.6 212.3M193.2 221.9L192.6 235.4M186.0 221.1L177.0 207.9M186.0 221.1L177.0 233.9M312.4 221.9L322.2 220.9M322.2 220.9L324.9 207.4M322.2 220.9L324.9 232.4M317.4 222.9L328.0 223.4M328.0 223.4L327.5 210.9M328.0 223.4L327.5 227.9" stroke="#b4b4b4" stroke-width="2.50" stroke-linecap="round" fill="none"/><circle cx="193.2" cy="221.9" r="1.7" fill="#909090"/><circle cx="198.5" cy="208.1" r="1.7" fill="#909090"/><circle cx="209.9" cy="208.1" r="1.7" fill="#909090"/><circle cx="215.2" cy="221.9" r="1.7" fill="#909090"/><circle cx="209.9" cy="235.7" r="1.7" fill="#909090"/><circle cx="198.5" cy="235.7" r="1.7" fill="#909090"/><circle cx="203.3" cy="222.2" r="1.7" fill="#909090"/><circle cx="208.1" cy="209.4" r="1.7" fill="#909090"/><circle cx="217.1" cy="209.4" r="1.7" fill="#909090"/><circle cx="221.9" cy="222.2" r="1.7" fill="#909090"/><circle cx="217.1" cy="235.0" r="1.7" fill="#909090"/><circle cx="208.1" cy="235.0" r="1.7" fill="#909090"/><circle cx="291.6" cy="221.9" r="1.7" fill="#909090"/><circle cx="296.6" cy="208.1" r="1.7" fill="#909090"/><circle cx="307.4" cy="208.1" r="1.7" fill="#909090"/><circle cx="312.4" cy="221.9" r="1.7" fill="#909090"/><circle cx="307.4" cy="235.7" r="1.7" fill="#909090"/><circle cx="296.6" cy="235.7" r="1.7" fill="#909090"/><circle cx="296.6" cy="222.9" r="1.7" fill="#909090"/><circle cx="301.8" cy="209.7" r="1.7" fill="#909090"/><circle cx="312.2" cy="209.7" r="1.7" fill="#909090"/><circle cx="317.4" cy="222.9" r="1.7" fill="#909090"/><circle cx="312.2" cy="236.1" r="1.7" fill="#909090"/><circle cx="301.8" cy="236.1" r="1.7" fill="#909090"/><path d="M196.0 222.1L316.0 222.1" stroke="#a6a6a6" stroke-width="2.60" stroke-linecap="butt" fill="none"/><path d="M222.0 220.6L292.0 223.3M222.0 223.5L292.0 220.9" stroke="#b0b0b0" stroke-width="1.50" stroke-linecap="butt" fill="none"/><circle cx="204.0" cy="222.1" r="1.5" fill="#8a8a8a"/><circle cx="213.0" cy="222.1" r="1.5" fill="#8a8a8a"/><circle cx="232.0" cy="222.1" r="1.5" fill="#8a8a8a"/><circle cx="238.0" cy="222.1" r="1.5" fill="#8a8a8a"/><circle cx="246.0" cy="222.1" r="1.5" fill="#8a8a8a"/><circle cx="262.0" cy="222.1" r="1.5" fill="#8a8a8a"/><circle cx="268.0" cy="222.1" r="1.5" fill="#8a8a8a"/><circle cx="276.0" cy="222.1" r="1.5" fill="#8a8a8a"/><circle cx="282.0" cy="222.1" r="1.5" fill="#8a8a8a"/><circle cx="302.0" cy="222.1" r="1.5" fill="#8a8a8a"/><circle cx="308.0" cy="222.1" r="1.5" fill="#8a8a8a"/><rect x="226.8" y="221.4" width="2.4" height="1.6" fill="#2c3cac"/><rect x="250.8" y="221.4" width="2.4" height="1.6" fill="#2c3cac"/><rect x="257.8" y="221.4" width="2.4" height="1.6" fill="#2c3cac"/><rect x="284.8" y="221.4" width="2.4" height="1.6" fill="#2c3cac"/><circle cx="192.0" cy="70.4" r="1.8" fill="#a61d21"/><circle cx="192.0" cy="94.3" r="1.8" fill="#a61d21"/><circle cx="192.0" cy="138.4" r="1.8" fill="#a61d21"/><circle cx="192.0" cy="162.3" r="1.8" fill="#a61d21"/><circle cx="192.0" cy="206.4" r="1.8" fill="#a61d21"/><circle cx="192.0" cy="230.3" r="1.8" fill="#a61d21"/><path d="M374.0 102.1L369.6 91.9M385.8 102.1L390.2 91.9M385.8 129.7L390.2 139.9M374.0 129.7L369.6 139.9" stroke="#c4c4c4" stroke-width="2.30" stroke-linecap="round" fill="none"/><path d="M369.2 115.9L374.0 102.1M374.0 102.1L385.8 102.1M385.8 102.1L390.6 115.9M390.6 115.9L385.8 129.7M385.8 129.7L374.0 129.7M374.0 129.7L369.2 115.9M369.2 115.9L356.6 115.1M356.6 115.1L353.1 102.3M356.6 115.1L353.1 127.4M359.5 115.3L358.2 104.4M359.5 115.3L358.2 128.4" stroke="#b4b4b4" stroke-width="2.50" stroke-linecap="round" fill="none"/><circle cx="369.2" cy="115.9" r="1.7" fill="#909090"/><circle cx="374.0" cy="102.1" r="1.7" fill="#909090"/><circle cx="385.8" cy="102.1" r="1.7" fill="#909090"/><circle cx="390.6" cy="115.9" r="1.7" fill="#909090"/><circle cx="385.8" cy="129.7" r="1.7" fill="#909090"/><circle cx="374.0" cy="129.7" r="1.7" fill="#909090"/><path d="M369.2 115.9L430.0 115.9" stroke="#aaaaaa" stroke-width="1.80" stroke-linecap="butt" fill="none"/><circle cx="382.5" cy="115.9" r="1.6" fill="#8a8a8a"/><circle cx="398.0" cy="115.9" r="1.6" fill="#8a8a8a"/><circle cx="402.5" cy="115.9" r="1.6" fill="#8a8a8a"/><circle cx="418.0" cy="115.9" r="1.6" fill="#8a8a8a"/><circle cx="423.0" cy="115.9" r="1.6" fill="#8a8a8a"/><circle cx="406.8" cy="115.9" r="1.3" fill="#3346b8"/><circle cx="428.4" cy="115.9" r="1.3" fill="#3346b8"/><path d="M374.0 172.4L369.6 162.2M385.8 172.4L390.2 162.2M385.8 200.0L390.2 210.2M374.0 200.0L369.6 210.2" stroke="#c4c4c4" stroke-width="2.30" stroke-linecap="round" fill="none"/><path d="M369.2 186.2L374.0 172.4M374.0 172.4L385.8 172.4M385.8 172.4L390.6 186.2M390.6 186.2L385.8 200.0M385.8 200.0L374.0 200.0M374.0 200.0L369.2 186.2M369.2 186.2L356.6 185.4M356.6 185.4L353.1 172.6M356.6 185.4L353.1 197.7M359.5 185.6L358.2 174.7M359.5 185.6L358.2 198.7" stroke="#b4b4b4" stroke-width="2.50" stroke-linecap="round" fill="none"/><circle cx="369.2" cy="186.2" r="1.7" fill="#909090"/><circle cx="374.0" cy="172.4" r="1.7" fill="#909090"/><circle cx="385.8" cy="172.4" r="1.7" fill="#909090"/><circle cx="390.6" cy="186.2" r="1.7" fill="#909090"/><circle cx="385.8" cy="200.0" r="1.7" fill="#909090"/><circle cx="374.0" cy="200.0" r="1.7" fill="#909090"/><path d="M369.2 186.2L430.0 186.2" stroke="#aaaaaa" stroke-width="1.80" stroke-linecap="butt" fill="none"/><circle cx="382.5" cy="186.2" r="1.6" fill="#8a8a8a"/><circle cx="398.0" cy="186.2" r="1.6" fill="#8a8a8a"/><circle cx="402.5" cy="186.2" r="1.6" fill="#8a8a8a"/><circle cx="418.0" cy="186.2" r="1.6" fill="#8a8a8a"/><circle cx="423.0" cy="186.2" r="1.6" fill="#8a8a8a"/><circle cx="406.8" cy="186.2" r="1.3" fill="#3346b8"/><circle cx="428.4" cy="186.2" r="1.3" fill="#3346b8"/><polygon points="170.6,41.7 145.1,54.0 151.5,78.2 173.4,65.2" fill="#2e9937" stroke="#145a22" stroke-width="0.50" stroke-linejoin="round"/><polygon points="170.6,41.7 145.1,54.0 173.4,65.2" fill="#3bb03b"/><path d="M170.6 41.7h11.0" stroke="#b9b9b9" stroke-width="2.3" stroke-linecap="round"/><path d="M151.5 78.3h-11.5" stroke="#b9b9b9" stroke-width="2.3" stroke-linecap="round"/><polygon points="151.5,78.4 173.4,91.0 170.6,115.1 145.1,102.6" fill="#2e9937" stroke="#145a22" stroke-width="0.50" stroke-linejoin="round"/><polygon points="151.5,78.4 173.4,91.0 145.1,102.6" fill="#3bb03b"/><polygon points="170.6,115.1 145.1,127.4 151.5,151.6 173.4,138.6" fill="#2e9937" stroke="#145a22" stroke-width="0.50" stroke-linejoin="round"/><polygon points="170.6,115.1 145.1,127.4 173.4,138.6" fill="#3bb03b"/><path d="M170.6 115.1h11.0" stroke="#b9b9b9" stroke-width="2.3" stroke-linecap="round"/><path d="M151.5 151.7h-11.5" stroke="#b9b9b9" stroke-width="2.3" stroke-linecap="round"/><polygon points="151.5,151.7 173.4,164.3 170.6,188.4 145.1,175.9" fill="#2e9937" stroke="#145a22" stroke-width="0.50" stroke-linejoin="round"/><polygon points="151.5,151.7 173.4,164.3 145.1,175.9" fill="#3bb03b"/><polygon points="170.6,188.4 145.1,200.7 151.5,224.9 173.4,211.9" fill="#2e9937" stroke="#145a22" stroke-width="0.50" stroke-linejoin="round"/><polygon points="170.6,188.4 145.1,200.7 173.4,211.9" fill="#3bb03b"/><path d="M170.6 188.4h11.0" stroke="#b9b9b9" stroke-width="2.3" stroke-linecap="round"/><path d="M151.5 225.0h-11.5" stroke="#b9b9b9" stroke-width="2.3" stroke-linecap="round"/><polygon points="151.5,225.1 173.4,237.7 170.6,261.8 145.1,249.3" fill="#2e9937" stroke="#145a22" stroke-width="0.50" stroke-linejoin="round"/><polygon points="151.5,225.1 173.4,237.7 145.1,249.3" fill="#3bb03b"/><path d="M170.6 261.8h11.0" stroke="#b9b9b9" stroke-width="2.3" stroke-linecap="round"/><polygon points="329.7,41.7 353.3,54.1 348.7,78.1 324.7,65.4" fill="#2e9937" stroke="#145a22" stroke-width="0.50" stroke-linejoin="round"/><polygon points="329.7,41.7 353.3,54.1 324.7,65.4" fill="#3bb03b"/><path d="M329.7 41.7h-11.5" stroke="#b9b9b9" stroke-width="2.3" stroke-linecap="round"/><path d="M348.7 78.1h11.0" stroke="#b9b9b9" stroke-width="2.3" stroke-linecap="round"/><polygon points="348.7,78.2 324.7,90.7 329.7,115.1 353.3,102.0" fill="#2e9937" stroke="#145a22" stroke-width="0.50" stroke-linejoin="round"/><polygon points="348.7,78.2 324.7,90.7 353.3,102.0" fill="#3bb03b"/><path d="M329.7 115.1h-11.5" stroke="#b9b9b9" stroke-width="2.3" stroke-linecap="round"/><polygon points="329.7,115.1 353.3,127.5 348.7,151.5 324.7,138.8" fill="#2e9937" stroke="#145a22" stroke-width="0.50" stroke-linejoin="round"/><polygon points="329.7,115.1 353.3,127.5 324.7,138.8" fill="#3bb03b"/><path d="M329.7 115.1h-11.5" stroke="#b9b9b9" stroke-width="2.3" stroke-linecap="round"/><path d="M348.7 151.5h11.0" stroke="#b9b9b9" stroke-width="2.3" stroke-linecap="round"/><polygon points="348.7,151.5 324.7,164.0 329.7,188.4 353.3,175.3" fill="#2e9937" stroke="#145a22" stroke-width="0.50" stroke-linejoin="round"/><polygon points="348.7,151.5 324.7,164.0 353.3,175.3" fill="#3bb03b"/><path d="M329.7 188.4h-11.5" stroke="#b9b9b9" stroke-width="2.3" stroke-linecap="round"/><polygon points="329.7,188.4 353.3,200.8 348.7,224.8 324.7,212.1" fill="#2e9937" stroke="#145a22" stroke-width="0.50" stroke-linejoin="round"/><polygon points="329.7,188.4 353.3,200.8 324.7,212.1" fill="#3bb03b"/><path d="M329.7 188.4h-11.5" stroke="#b9b9b9" stroke-width="2.3" stroke-linecap="round"/><path d="M348.7 224.8h11.0" stroke="#b9b9b9" stroke-width="2.3" stroke-linecap="round"/><polygon points="348.7,224.9 324.7,237.4 329.7,261.8 353.3,248.7" fill="#2e9937" stroke="#145a22" stroke-width="0.50" stroke-linejoin="round"/><polygon points="348.7,224.9 324.7,237.4 353.3,248.7" fill="#3bb03b"/><path d="M329.7 261.8h-11.5" stroke="#b9b9b9" stroke-width="2.3" stroke-linecap="round"/><circle cx="170.6" cy="41.7" r="1.9" fill="#a61d21"/><circle cx="145.1" cy="54.0" r="1.9" fill="#a61d21"/><circle cx="151.5" cy="78.2" r="1.9" fill="#a61d21"/><circle cx="173.4" cy="65.2" r="1.9" fill="#a61d21"/><circle cx="176.8" cy="65.9" r="1.9" fill="#a61d21"/><circle cx="173.4" cy="91.0" r="1.9" fill="#a61d21"/><circle cx="170.6" cy="115.1" r="1.9" fill="#a61d21"/><circle cx="145.1" cy="102.6" r="1.9" fill="#a61d21"/><circle cx="176.8" cy="91.2" r="1.9" fill="#a61d21"/><circle cx="170.6" cy="115.1" r="1.9" fill="#a61d21"/><circle cx="145.1" cy="127.4" r="1.9" fill="#a61d21"/><circle cx="151.5" cy="151.6" r="1.9" fill="#a61d21"/><circle cx="173.4" cy="138.6" r="1.9" fill="#a61d21"/><circle cx="176.8" cy="139.3" r="1.9" fill="#a61d21"/><circle cx="173.4" cy="164.3" r="1.9" fill="#a61d21"/><circle cx="170.6" cy="188.4" r="1.9" fill="#a61d21"/><circle cx="145.1" cy="175.9" r="1.9" fill="#a61d21"/><circle cx="176.8" cy="164.5" r="1.9" fill="#a61d21"/><circle cx="170.6" cy="188.4" r="1.9" fill="#a61d21"/><circle cx="145.1" cy="200.7" r="1.9" fill="#a61d21"/><circle cx="151.5" cy="224.9" r="1.9" fill="#a61d21"/><circle cx="173.4" cy="211.9" r="1.9" fill="#a61d21"/><circle cx="176.8" cy="212.6" r="1.9" fill="#a61d21"/><circle cx="173.4" cy="237.7" r="1.9" fill="#a61d21"/><circle cx="170.6" cy="261.8" r="1.9" fill="#a61d21"/><circle cx="145.1" cy="249.3" r="1.9" fill="#a61d21"/><circle cx="176.8" cy="237.9" r="1.9" fill="#a61d21"/><circle cx="329.7" cy="41.7" r="1.9" fill="#a61d21"/><circle cx="353.3" cy="54.1" r="1.9" fill="#a61d21"/><circle cx="348.7" cy="78.1" r="1.9" fill="#a61d21"/><circle cx="324.7" cy="65.4" r="1.9" fill="#a61d21"/><circle cx="358.2" cy="60.6" r="1.9" fill="#a61d21"/><circle cx="332.0" cy="70.6" r="1.9" fill="#a61d21"/><circle cx="354.1" cy="82.6" r="1.9" fill="#a61d21"/><circle cx="324.7" cy="90.7" r="1.9" fill="#a61d21"/><circle cx="329.7" cy="115.1" r="1.9" fill="#a61d21"/><circle cx="353.3" cy="102.0" r="1.9" fill="#a61d21"/><circle cx="358.2" cy="104.6" r="1.9" fill="#a61d21"/><circle cx="336.1" cy="116.6" r="1.9" fill="#a61d21"/><circle cx="332.0" cy="85.9" r="1.9" fill="#a61d21"/><circle cx="329.7" cy="115.1" r="1.9" fill="#a61d21"/><circle cx="353.3" cy="127.5" r="1.9" fill="#a61d21"/><circle cx="348.7" cy="151.5" r="1.9" fill="#a61d21"/><circle cx="324.7" cy="138.8" r="1.9" fill="#a61d21"/><circle cx="358.2" cy="134.0" r="1.9" fill="#a61d21"/><circle cx="332.0" cy="144.0" r="1.9" fill="#a61d21"/><circle cx="354.1" cy="156.0" r="1.9" fill="#a61d21"/><circle cx="324.7" cy="164.0" r="1.9" fill="#a61d21"/><circle cx="329.7" cy="188.4" r="1.9" fill="#a61d21"/><circle cx="353.3" cy="175.3" r="1.9" fill="#a61d21"/><circle cx="358.2" cy="177.9" r="1.9" fill="#a61d21"/><circle cx="336.1" cy="189.9" r="1.9" fill="#a61d21"/><circle cx="332.0" cy="159.2" r="1.9" fill="#a61d21"/><circle cx="329.7" cy="188.4" r="1.9" fill="#a61d21"/><circle cx="353.3" cy="200.8" r="1.9" fill="#a61d21"/><circle cx="348.7" cy="224.8" r="1.9" fill="#a61d21"/><circle cx="324.7" cy="212.1" r="1.9" fill="#a61d21"/><circle cx="358.2" cy="207.3" r="1.9" fill="#a61d21"/><circle cx="332.0" cy="217.3" r="1.9" fill="#a61d21"/><circle cx="354.1" cy="229.3" r="1.9" fill="#a61d21"/><circle cx="324.7" cy="237.4" r="1.9" fill="#a61d21"/><circle cx="329.7" cy="261.8" r="1.9" fill="#a61d21"/><circle cx="353.3" cy="248.7" r="1.9" fill="#a61d21"/><circle cx="358.2" cy="251.3" r="1.9" fill="#a61d21"/><circle cx="336.1" cy="263.3" r="1.9" fill="#a61d21"/><circle cx="332.0" cy="232.6" r="1.9" fill="#a61d21"/></g>
</g>
<g filter="url(#fa)"><circle cx="932.9" cy="108.7" r="9.4" fill="url(#gag)"/><circle cx="927.1" cy="98.7" r="9.4" fill="url(#gag)"/><circle cx="916.7" cy="93.2" r="9.4" fill="url(#gag)"/><circle cx="910.9" cy="83.2" r="9.4" fill="url(#gag)"/><circle cx="900.6" cy="77.7" r="9.4" fill="url(#gag)"/><circle cx="894.8" cy="67.7" r="9.4" fill="url(#gag)"/><circle cx="884.5" cy="62.2" r="9.4" fill="url(#gag)"/><circle cx="878.2" cy="54.6" r="9.6" fill="url(#gar)"/><circle cx="927.3" cy="97.0" r="5.2" fill="url(#gah)"/><circle cx="900.7" cy="71.3" r="5.2" fill="url(#gah)"/><circle cx="1019.3" cy="108.7" r="9.4" fill="url(#gag)"/><circle cx="1025.1" cy="98.7" r="9.4" fill="url(#gag)"/><circle cx="1035.4" cy="93.2" r="9.4" fill="url(#gag)"/><circle cx="1041.2" cy="83.2" r="9.4" fill="url(#gag)"/><circle cx="1051.5" cy="77.7" r="9.4" fill="url(#gag)"/><circle cx="1057.4" cy="67.7" r="9.4" fill="url(#gag)"/><circle cx="1067.7" cy="62.2" r="9.4" fill="url(#gag)"/><circle cx="1073.9" cy="54.6" r="9.6" fill="url(#gar)"/><circle cx="1024.8" cy="97.0" r="5.2" fill="url(#gah)"/><circle cx="1051.5" cy="71.3" r="5.2" fill="url(#gah)"/><circle cx="932.9" cy="189.3" r="9.4" fill="url(#gag)"/><circle cx="927.1" cy="199.3" r="9.4" fill="url(#gag)"/><circle cx="916.7" cy="204.8" r="9.4" fill="url(#gag)"/><circle cx="910.9" cy="214.8" r="9.4" fill="url(#gag)"/><circle cx="900.6" cy="220.3" r="9.4" fill="url(#gag)"/><circle cx="894.8" cy="230.3" r="9.4" fill="url(#gag)"/><circle cx="884.5" cy="235.8" r="9.4" fill="url(#gag)"/><circle cx="878.2" cy="243.3" r="9.6" fill="url(#gar)"/><circle cx="927.3" cy="200.9" r="5.2" fill="url(#gah)"/><circle cx="900.7" cy="226.6" r="5.2" fill="url(#gah)"/><circle cx="1019.3" cy="189.3" r="9.4" fill="url(#gag)"/><circle cx="1025.1" cy="199.3" r="9.4" fill="url(#gag)"/><circle cx="1035.4" cy="204.8" r="9.4" fill="url(#gag)"/><circle cx="1041.2" cy="214.8" r="9.4" fill="url(#gag)"/><circle cx="1051.5" cy="220.3" r="9.4" fill="url(#gag)"/><circle cx="1057.4" cy="230.3" r="9.4" fill="url(#gag)"/><circle cx="1067.7" cy="235.8" r="9.4" fill="url(#gag)"/><circle cx="1073.9" cy="243.3" r="9.6" fill="url(#gar)"/><circle cx="1024.8" cy="200.9" r="5.2" fill="url(#gah)"/><circle cx="1051.5" cy="226.6" r="5.2" fill="url(#gah)"/><circle cx="967.1" cy="90.6" r="9.4" fill="url(#gag)"/><circle cx="985.1" cy="90.6" r="9.4" fill="url(#gag)"/><circle cx="957.5" cy="79.4" r="5.2" fill="url(#gah)"/><circle cx="994.7" cy="79.4" r="5.2" fill="url(#gah)"/><circle cx="1034.5" cy="140.0" r="9.4" fill="url(#gag)"/><circle cx="1034.5" cy="158.0" r="9.4" fill="url(#gag)"/><circle cx="1045.7" cy="130.4" r="5.2" fill="url(#gah)"/><circle cx="1045.7" cy="167.6" r="5.2" fill="url(#gah)"/><circle cx="985.1" cy="207.4" r="9.4" fill="url(#gag)"/><circle cx="967.1" cy="207.4" r="9.4" fill="url(#gag)"/><circle cx="994.7" cy="218.6" r="5.2" fill="url(#gah)"/><circle cx="957.5" cy="218.6" r="5.2" fill="url(#gah)"/><circle cx="917.7" cy="158.0" r="9.4" fill="url(#gag)"/><circle cx="917.7" cy="140.0" r="9.4" fill="url(#gag)"/><circle cx="906.5" cy="167.6" r="5.2" fill="url(#gah)"/><circle cx="906.5" cy="130.4" r="5.2" fill="url(#gah)"/><circle cx="960.0" cy="107.9" r="9.4" fill="url(#gag)"/><circle cx="992.1" cy="107.9" r="9.4" fill="url(#gag)"/><circle cx="1017.1" cy="132.9" r="9.4" fill="url(#gag)"/><circle cx="1017.1" cy="165.0" r="9.4" fill="url(#gag)"/><circle cx="992.1" cy="190.0" r="9.4" fill="url(#gag)"/><circle cx="960.0" cy="190.0" r="9.4" fill="url(#gag)"/><circle cx="935.0" cy="165.0" r="9.4" fill="url(#gag)"/><circle cx="935.0" cy="132.9" r="9.4" fill="url(#gag)"/><circle cx="942.1" cy="115.3" r="9.4" fill="url(#gag)"/><circle cx="1010.1" cy="115.3" r="9.4" fill="url(#gag)"/><circle cx="942.1" cy="182.7" r="9.4" fill="url(#gag)"/><circle cx="1010.1" cy="182.7" r="9.4" fill="url(#gag)"/><circle cx="976.1" cy="122.0" r="9.0" fill="url(#gab)"/><circle cx="976.1" cy="176.6" r="9.0" fill="url(#gab)"/><circle cx="948.2" cy="149.0" r="9.0" fill="url(#gab)"/><circle cx="1004.3" cy="149.0" r="9.0" fill="url(#gab)"/><circle cx="961.6" cy="149.0" r="5.2" fill="url(#gah)"/><circle cx="990.5" cy="149.0" r="5.2" fill="url(#gah)"/></g>
<path d="M101.6 247.9V290.7H141.8" stroke="#231815" stroke-width="1.1" fill="none"/><path d="M101.6 241.9l-2.9 9.5h5.8z" fill="#231815"/><path d="M147.8 290.7l-9.5 -2.9v5.8z" fill="#231815"/>
<text x="100.00" y="229.30" font-size="24.50" fill="#231815" textLength="10.20" lengthAdjust="spacingAndGlyphs" >y</text>
<text x="152.30" y="296.50" font-size="24.50" fill="#231815" textLength="10.40" lengthAdjust="spacingAndGlyphs" >x</text>
<path d="M809.4 247.9V290.7H850.2" stroke="#231815" stroke-width="1.1" fill="none"/><path d="M809.4 241.9l-2.9 9.5h5.8z" fill="#231815"/><path d="M856.2 290.7l-9.5 -2.9v5.8z" fill="#231815"/>
<text x="807.60" y="229.50" font-size="24.50" fill="#231815" textLength="9.60" lengthAdjust="spacingAndGlyphs" >z</text>
<text x="861.50" y="296.50" font-size="24.50" fill="#231815" textLength="10.40" lengthAdjust="spacingAndGlyphs" >x</text>
<text x="281.00" y="296.60" font-size="20.50" fill="#231815" textLength="303.60" lengthAdjust="spacingAndGlyphs" >metal-hydroxide-porphin framework</text>
<text x="918.60" y="296.60" font-size="20.50" fill="#231815" textLength="119.50" lengthAdjust="spacingAndGlyphs" >porphin cavity</text>
</svg>
<svg style="position:absolute;left:36px;top:354px" width="268" height="230" viewBox="36 354 268 230" >
<defs><linearGradient id="gb1" gradientUnits="userSpaceOnUse" x1="43.0" y1="361.0" x2="60.8" y2="361.0"><stop offset="0" stop-color="#1e1e1e"/><stop offset="0.5" stop-color="#5a5a5a"/><stop offset="1" stop-color="#bebebe"/></linearGradient><linearGradient id="gb2" gradientUnits="userSpaceOnUse" x1="61.8" y1="361.0" x2="79.6" y2="361.0"><stop offset="0" stop-color="#282828"/><stop offset="0.45" stop-color="#646464"/><stop offset="1" stop-color="#c8c8c8"/></linearGradient><linearGradient id="gb3" gradientUnits="userSpaceOnUse" x1="80.1" y1="361.0" x2="95.4" y2="361.0"><stop offset="0" stop-color="#2d2d2d"/><stop offset="0.5" stop-color="#505050"/><stop offset="1" stop-color="#a5a5a5"/></linearGradient><linearGradient id="gb4" gradientUnits="userSpaceOnUse" x1="99.9" y1="361.0" x2="196.4" y2="388.2"><stop offset="0" stop-color="#222222"/><stop offset="0.6" stop-color="#383838"/><stop offset="1" stop-color="#484848"/></linearGradient><linearGradient id="gb5" gradientUnits="userSpaceOnUse" x1="181.5" y1="361.0" x2="290.3" y2="420.4"><stop offset="0" stop-color="#242424"/><stop offset="0.5" stop-color="#383838"/><stop offset="1" stop-color="#323232"/></linearGradient><linearGradient id="gb6" gradientUnits="userSpaceOnUse" x1="181.5" y1="365.9" x2="233.5" y2="380.8"><stop offset="0" stop-color="#282828"/><stop offset="0.85" stop-color="#2e2e2e"/><stop offset="1" stop-color="#5c5c5c"/></linearGradient><linearGradient id="gb7" gradientUnits="userSpaceOnUse" x1="260.7" y1="375.8" x2="290.3" y2="365.9"><stop offset="0" stop-color="#787878"/><stop offset="0.5" stop-color="#bebebe"/><stop offset="1" stop-color="#969696"/></linearGradient><linearGradient id="gb8" gradientUnits="userSpaceOnUse" x1="43.0" y1="385.7" x2="297.0" y2="442.6"><stop offset="0" stop-color="#b0b0b0"/><stop offset="0.25" stop-color="#969696"/><stop offset="0.5" stop-color="#7a7a7a"/><stop offset="0.66" stop-color="#646464"/><stop offset="0.8" stop-color="#5c5c5c"/><stop offset="1" stop-color="#646464"/></linearGradient><linearGradient id="gb9" gradientUnits="userSpaceOnUse" x1="43.0" y1="393.2" x2="43.0" y2="405.5"><stop offset="0" stop-color="#000" stop-opacity="0"/><stop offset="1" stop-color="#000" stop-opacity="0.75"/></linearGradient><linearGradient id="gb10" gradientUnits="userSpaceOnUse" x1="43.0" y1="412.9" x2="43.0" y2="432.7"><stop offset="0" stop-color="#969696"/><stop offset="0.35" stop-color="#6e6e6e"/><stop offset="1" stop-color="#464646"/></linearGradient><linearGradient id="gb11" gradientUnits="userSpaceOnUse" x1="117.2" y1="405.5" x2="216.1" y2="464.9"><stop offset="0" stop-color="#161616"/><stop offset="0.4" stop-color="#242424"/><stop offset="0.8" stop-color="#303030"/><stop offset="1" stop-color="#262626"/></linearGradient><linearGradient id="gb12" gradientUnits="userSpaceOnUse" x1="191.4" y1="435.2" x2="280.4" y2="484.7"><stop offset="0" stop-color="#343434"/><stop offset="0.5" stop-color="#282828"/><stop offset="1" stop-color="#141414"/></linearGradient><linearGradient id="gb13" gradientUnits="userSpaceOnUse" x1="67.7" y1="410.5" x2="57.8" y2="450.0"><stop offset="0" stop-color="#1c1c1c"/><stop offset="0.35" stop-color="#383838"/><stop offset="0.7" stop-color="#2a2a2a"/><stop offset="1" stop-color="#181818"/></linearGradient><linearGradient id="gb14" gradientUnits="userSpaceOnUse" x1="191.4" y1="459.9" x2="181.5" y2="477.3"><stop offset="0" stop-color="#aaaaaa"/><stop offset="0.25" stop-color="#808080"/><stop offset="0.5" stop-color="#9e9e9e"/><stop offset="0.75" stop-color="#707070"/><stop offset="1" stop-color="#5a5a5a"/></linearGradient><linearGradient id="gb15" gradientUnits="userSpaceOnUse" x1="109.8" y1="435.2" x2="191.4" y2="469.8"><stop offset="0" stop-color="#2a2a2a" stop-opacity="0.85"/><stop offset="0.5" stop-color="#2a2a2a" stop-opacity="0.45"/><stop offset="1" stop-color="#2a2a2a" stop-opacity="0"/></linearGradient><linearGradient id="gb16" gradientUnits="userSpaceOnUse" x1="231.0" y1="514.4" x2="216.1" y2="529.2"><stop offset="0" stop-color="#989898"/><stop offset="0.4" stop-color="#787878"/><stop offset="0.75" stop-color="#8a8a8a"/><stop offset="1" stop-color="#5a5a5a"/></linearGradient><linearGradient id="gb17" gradientUnits="userSpaceOnUse" x1="43.0" y1="469.8" x2="43.0" y2="519.3"><stop offset="0" stop-color="#787878"/><stop offset="1" stop-color="#545454"/></linearGradient><linearGradient id="gb18" gradientUnits="userSpaceOnUse" x1="104.8" y1="462.4" x2="161.7" y2="494.6"><stop offset="0" stop-color="#343434"/><stop offset="1" stop-color="#4c4c4c"/></linearGradient><linearGradient id="gb19" gradientUnits="userSpaceOnUse" x1="77.6" y1="455.0" x2="57.8" y2="499.5"><stop offset="0" stop-color="#3a3a3a"/><stop offset="0.35" stop-color="#6c6c6c"/><stop offset="0.7" stop-color="#646464"/><stop offset="1" stop-color="#404040"/></linearGradient><linearGradient id="gb20" gradientUnits="userSpaceOnUse" x1="43.0" y1="484.7" x2="43.0" y2="524.2"><stop offset="0" stop-color="#3c3c3c"/><stop offset="0.5" stop-color="#565656"/><stop offset="1" stop-color="#4a4a4a"/></linearGradient><linearGradient id="gb21" gradientUnits="userSpaceOnUse" x1="83.8" y1="361.0" x2="107.3" y2="361.0"><stop offset="0" stop-color="#464646"/><stop offset="0.5" stop-color="#707070"/><stop offset="1" stop-color="#626262"/></linearGradient><linearGradient id="gb22" gradientUnits="userSpaceOnUse" x1="43.0" y1="519.3" x2="72.7" y2="576.9"><stop offset="0" stop-color="#606060"/><stop offset="0.5" stop-color="#545454"/><stop offset="1" stop-color="#646464"/></linearGradient><linearGradient id="gb23" gradientUnits="userSpaceOnUse" x1="43.0" y1="549.0" x2="57.8" y2="576.9"><stop offset="0" stop-color="#282828"/><stop offset="0.5" stop-color="#1e1e1e"/><stop offset="1" stop-color="#5a5a5a"/></linearGradient><linearGradient id="gb24" gradientUnits="userSpaceOnUse" x1="146.9" y1="489.6" x2="196.4" y2="576.9"><stop offset="0" stop-color="#161616"/><stop offset="0.3" stop-color="#323232"/><stop offset="0.65" stop-color="#565656"/><stop offset="1" stop-color="#7a7a7a"/></linearGradient><linearGradient id="gb25" gradientUnits="userSpaceOnUse" x1="203.8" y1="361.0" x2="246.8" y2="361.0"><stop offset="0" stop-color="#3c3c3c"/><stop offset="1" stop-color="#828282"/></linearGradient>
<filter id="fbb" x="-2%" y="-2%" width="104%" height="104%"><feGaussianBlur stdDeviation="0.7"/></filter>
<filter id="fbn" x="0" y="0" width="100%" height="100%" color-interpolation-filters="sRGB"><feTurbulence type="fractalNoise" baseFrequency="0.8" numOctaves="1" seed="2"/><feColorMatrix type="matrix" values="0 0 0 0 1 0 0 0 0 1 0 0 0 0 1 0.55 0 0 0 -0.2"/></filter>
<clipPath id="cb"><rect x="43.0" y="360.6" width="254.0" height="216.4"/></clipPath>
</defs>
<g clip-path="url(#cb)"><g filter="url(#fbb)"><rect x="43.0" y="360.6" width="254.0" height="216.4" fill="#121212"/><polygon points="43.0,361.0 60.8,361.0 61.8,376.3 43.0,380.8" fill="url(#gb1)"/><polygon points="61.8,361.0 79.1,361.0 80.6,375.8 62.8,376.3" fill="url(#gb2)"/><polygon points="80.1,361.0 93.2,361.0 97.9,376.3 81.3,375.8" fill="url(#gb3)"/><polygon points="94.0,361.0 96.4,361.0 104.3,377.3 101.4,377.3" fill="#8c8c8c"/><polygon points="96.4,361.0 177.8,361.0 193.9,383.3 203.8,391.7 161.7,390.7 104.3,377.3" fill="url(#gb4)"/><polygon points="177.8,361.0 257.0,361.0 297.0,403.0 297.0,421.6 260.7,416.7 229.7,411.7 213.7,398.1 203.8,391.7 193.9,383.3" fill="url(#gb5)"/><polygon points="177.8,361.0 205.0,361.0 233.5,370.9 228.5,388.2 219.8,398.1 203.8,391.7 193.9,383.3" fill="url(#gb6)"/><polygon points="256.2,361.0 297.0,361.0 297.0,403.5" fill="url(#gb7)"/><polyline points="256.2,361.0 295.3,402.6" fill="none" stroke="#969696" stroke-width="1.20" stroke-opacity="0.80" stroke-linejoin="round"/><polygon points="43.0,380.8 46.5,376.3 57.8,375.3 102.4,377.8 161.7,390.7 203.8,391.7 216.1,403.0 231.0,414.2 260.7,435.2 297.0,452.5 297.0,464.9 265.6,453.0 240.9,439.7 216.1,425.8 198.8,414.2 188.9,406.8 171.6,403.5 122.1,402.1 104.8,403.5 43.0,405.0" fill="url(#gb8)"/><polygon points="43.0,393.2 117.2,395.6 181.5,400.6 201.3,416.7 188.9,406.8 171.6,403.5 122.1,402.1 104.8,403.5 43.0,405.0" fill="url(#gb9)"/><polyline points="43.0,381.3 46.5,376.8 57.8,375.8 102.4,378.3 161.7,390.9 203.8,392.2 231.0,413.9 260.7,434.7 297.0,452.0" fill="none" stroke="#d2d2d2" stroke-width="1.00" stroke-opacity="0.75" stroke-linejoin="round"/><polygon points="229.7,411.7 260.7,416.7 297.0,421.6 297.0,432.7 263.1,429.0 245.8,422.8" fill="url(#gb10)"/><polygon points="245.8,422.8 263.1,429.0 297.0,432.7 297.0,442.6 265.6,435.2" fill="#1c1c1c"/><polygon points="109.8,405.0 171.6,405.5 191.4,410.5 201.3,417.9 231.0,435.2 265.6,453.8 297.0,466.1 297.0,477.3 265.6,467.4 238.4,456.2 196.4,435.2 176.6,432.7 117.2,420.4 92.5,410.5" fill="url(#gb11)"/><polygon points="191.4,434.2 231.0,442.6 287.9,464.9 290.3,477.3 280.4,489.6 231.0,464.9 196.4,445.1" fill="url(#gb12)"/><polygon points="43.0,410.5 57.8,413.9 109.8,431.5 146.9,442.6 181.5,458.7 216.1,477.3 240.9,489.6 255.7,499.5 275.5,519.3 297.0,549.0 297.0,576.9 286.6,576.9 265.6,544.0 253.2,524.2 238.4,509.4 216.1,499.5 181.5,484.7 159.3,477.3 104.8,462.4 43.0,448.1" fill="url(#gb13)"/><polygon points="109.8,431.5 146.9,442.6 181.5,458.7 216.1,476.8 240.9,489.1 258.2,499.5 280.4,524.2 297.0,549.0 297.0,568.8 275.5,539.1 258.2,519.3 240.9,505.7 216.1,492.1 181.5,473.5 146.9,456.2 117.2,442.6" fill="url(#gb14)"/><polygon points="107.3,430.3 146.9,441.4 191.4,462.4 191.4,479.7 146.9,458.0 114.7,443.9" fill="url(#gb15)"/><polyline points="141.9,441.4 181.5,458.9 216.1,477.0 240.9,489.4 258.2,499.8 280.4,524.5 297.0,549.2" fill="none" stroke="#c8c8c8" stroke-width="0.90" stroke-opacity="0.70" stroke-linejoin="round"/><polyline points="124.6,441.4 161.7,456.2 201.3,477.3 240.9,499.5 265.6,524.2 290.3,558.9" fill="none" stroke="#464646" stroke-width="0.80" stroke-opacity="0.80" stroke-linejoin="round"/><polygon points="213.7,489.6 231.0,492.1 253.2,509.4 273.0,534.1 297.0,571.2 297.0,576.9 275.5,576.9 260.7,549.0 240.9,521.8 223.6,502.0" fill="url(#gb16)"/><polyline points="231.0,495.8 253.2,514.4 273.0,541.6 292.8,576.9" fill="none" stroke="#5a5a5a" stroke-width="0.90" stroke-opacity="0.80" stroke-linejoin="round"/><polygon points="201.3,468.8 231.0,468.8 258.2,489.6 297.0,509.4 297.0,521.8 280.4,514.4 250.8,499.5 226.0,482.2" fill="url(#gb17)"/><polygon points="260.7,509.4 297.0,531.7 297.0,544.0 270.6,524.2" fill="#585858"/><polygon points="280.4,494.6 286.6,492.1 297.0,499.0 297.0,506.9" fill="#686868"/><polygon points="104.8,462.9 159.3,477.3 171.6,482.7 170.6,494.6 154.3,494.1 117.2,482.2 93.7,469.8" fill="url(#gb18)"/><polygon points="43.0,468.8 43.0,448.1 72.7,455.0 104.8,462.4 132.0,477.3 149.4,494.6 163.2,514.8 163.7,519.3 154.8,524.7 146.9,523.3 117.2,509.4 72.7,489.6 43.0,481.2" fill="url(#gb19)"/><polygon points="43.0,481.2 72.7,489.6 117.2,509.4 148.1,523.8 146.9,526.2 107.3,521.8 70.2,509.4 43.0,510.9" fill="url(#gb20)"/><polygon points="43.0,511.4 70.2,509.9 96.2,520.8 83.8,534.1 85.0,544.0 43.0,512.4" fill="#1e1e1e"/><polygon points="97.4,520.8 106.1,516.3 107.3,576.9 85.0,544.0 83.8,534.1" fill="url(#gb21)"/><polygon points="43.0,515.8 85.0,545.3 107.3,576.9 80.1,576.9 43.0,546.5" fill="url(#gb22)"/><polyline points="43.0,534.1 57.8,545.3 80.1,566.3 88.8,576.9" fill="none" stroke="#282828" stroke-width="1.20" stroke-opacity="0.90" stroke-linejoin="round"/><polygon points="43.0,548.0 77.6,576.9 43.0,576.9" fill="url(#gb23)"/><polygon points="107.8,521.8 146.9,526.2 154.8,524.7 163.7,519.3 166.7,484.7 181.5,484.7 211.2,502.0 253.2,544.0 231.0,556.4 196.4,576.9 107.8,576.9" fill="url(#gb24)"/><polygon points="107.8,521.8 163.7,519.3 166.7,484.7 159.3,477.3 149.4,494.6 163.2,514.8 154.8,524.7 107.8,523.0" fill="#141414" fill-opacity="0.00"/><polygon points="203.8,576.9 246.3,562.8 246.8,571.2 231.0,576.9" fill="url(#gb25)"/><polyline points="253.2,544.3 231.0,556.6 195.9,576.9" fill="none" stroke="#3c3c3c" stroke-width="1.40" stroke-opacity="0.90" stroke-linejoin="round"/></g>
<rect x="43.0" y="360.6" width="254.0" height="216.4" filter="url(#fbn)" opacity="0.35"/>
</g>
<rect x="43.0" y="360.6" width="254.0" height="216.4" fill="none" stroke="#222" stroke-width="0.8"/>
<path d="M51 569.8H111.6" stroke="#f4f4f4" stroke-width="1.5"/>
<text x="65.80" y="563.60" font-size="16.20" fill="#f4f4f4" textLength="37.20" lengthAdjust="spacingAndGlyphs" >5 µm</text>
</svg>
<svg style="position:absolute;left:300px;top:350px" width="330" height="232" viewBox="300 350 330 232" >
<defs>
<linearGradient id="gc0" x1="0.6" y1="0" x2="0.3" y2="1"><stop offset="0" stop-color="#4b170d"/><stop offset="0.35" stop-color="#561d10"/><stop offset="0.7" stop-color="#6b2d15"/><stop offset="1" stop-color="#80401d"/></linearGradient>
<linearGradient id="gcb" x1="0" y1="0" x2="0" y2="1"><stop offset="0" stop-color="#f6f286"/><stop offset="0.12" stop-color="#f0e070"/><stop offset="0.23" stop-color="#dcc050"/><stop offset="0.34" stop-color="#c89428"/><stop offset="0.45" stop-color="#a46a22"/><stop offset="0.56" stop-color="#7a3e18"/><stop offset="0.67" stop-color="#58200f"/><stop offset="0.78" stop-color="#3e150a"/><stop offset="0.89" stop-color="#220c06"/><stop offset="1" stop-color="#000"/></linearGradient>
<filter id="fcb" x="-5%" y="-5%" width="110%" height="110%"><feGaussianBlur stdDeviation="1.0"/></filter>
<filter id="fcm" x="0" y="0" width="100%" height="100%" color-interpolation-filters="sRGB"><feTurbulence type="fractalNoise" baseFrequency="0.45" numOctaves="2" seed="4"/><feColorMatrix type="matrix" values="0 0 0 0 0.62 0 0 0 0 0.36 0 0 0 0 0.14 3.2 0 0 0 -1.35"/></filter>
<clipPath id="cc"><rect x="320.2" y="358.5" width="216.7" height="216.5"/></clipPath>
<clipPath id="ccm"><path d="M373.4 430.1L402.0 423.1L419.4 412.7L429.4 392.8L444.3 372.9L459.2 361.7" stroke-width="12" fill="none"/></clipPath>
</defs>
<g clip-path="url(#cc)">
<rect x="320.2" y="358.5" width="216.7" height="216.5" fill="url(#gc0)"/>
<g filter="url(#fcb)">
<path d="M371.0 430.6L402.0 423.1L419.4 413.2L429.4 392.8L444.3 372.9L460.4 361.0" stroke="#7a4420" stroke-width="11" stroke-opacity="0.35" fill="none" stroke-linejoin="round" stroke-linecap="round"/>
<g fill="#a8702c" fill-opacity="0.55"><circle cx="385.2" cy="424.9" r="1.0"/><circle cx="370.5" cy="427.2" r="1.3"/><circle cx="379.8" cy="430.0" r="1.5"/><circle cx="387.4" cy="422.6" r="1.6"/><circle cx="375.1" cy="428.0" r="1.8"/><circle cx="372.9" cy="430.7" r="1.7"/><circle cx="373.1" cy="429.1" r="1.3"/><circle cx="396.6" cy="422.1" r="0.9"/><circle cx="373.5" cy="432.9" r="1.0"/><circle cx="401.2" cy="421.6" r="1.8"/><circle cx="374.1" cy="428.5" r="1.2"/><circle cx="390.4" cy="426.6" r="1.1"/><circle cx="393.0" cy="426.9" r="1.7"/><circle cx="383.5" cy="428.1" r="1.3"/><circle cx="388.9" cy="423.5" r="0.9"/><circle cx="393.6" cy="425.5" r="1.9"/><circle cx="401.0" cy="422.0" r="1.3"/><circle cx="391.9" cy="423.3" r="1.6"/><circle cx="374.6" cy="430.0" r="1.4"/><circle cx="396.7" cy="427.1" r="1.4"/><circle cx="372.1" cy="431.6" r="1.4"/><circle cx="377.3" cy="426.4" r="1.3"/><circle cx="383.1" cy="427.9" r="1.4"/><circle cx="376.2" cy="428.0" r="1.6"/><circle cx="372.0" cy="429.9" r="1.5"/><circle cx="373.2" cy="432.6" r="1.4"/><circle cx="377.3" cy="428.4" r="1.9"/><circle cx="386.6" cy="430.0" r="1.9"/><circle cx="376.7" cy="431.6" r="1.1"/><circle cx="393.9" cy="423.8" r="1.8"/><circle cx="371.0" cy="430.0" r="1.2"/><circle cx="379.6" cy="433.3" r="0.9"/><circle cx="370.9" cy="424.7" r="1.9"/><circle cx="385.4" cy="421.6" r="0.9"/><circle cx="381.3" cy="429.3" r="1.5"/><circle cx="376.9" cy="424.0" r="1.4"/><circle cx="385.4" cy="425.6" r="1.8"/><circle cx="398.4" cy="422.4" r="1.1"/><circle cx="380.4" cy="429.9" r="1.8"/><circle cx="386.6" cy="425.2" r="1.6"/><circle cx="414.5" cy="416.6" r="1.2"/><circle cx="415.0" cy="418.2" r="1.6"/><circle cx="405.4" cy="423.7" r="1.1"/><circle cx="408.7" cy="417.2" r="1.9"/><circle cx="409.6" cy="413.8" r="1.9"/><circle cx="413.1" cy="411.8" r="1.3"/><circle cx="414.2" cy="420.7" r="1.5"/><circle cx="406.7" cy="417.2" r="1.3"/><circle cx="414.6" cy="415.4" r="1.6"/><circle cx="417.7" cy="414.0" r="1.7"/><circle cx="419.1" cy="416.7" r="1.7"/><circle cx="407.7" cy="417.8" r="1.0"/><circle cx="407.0" cy="417.5" r="1.6"/><circle cx="414.4" cy="422.9" r="1.5"/><circle cx="402.1" cy="418.3" r="1.3"/><circle cx="405.9" cy="419.9" r="1.3"/><circle cx="407.4" cy="419.4" r="1.0"/><circle cx="406.8" cy="418.8" r="1.6"/><circle cx="413.5" cy="412.6" r="1.3"/><circle cx="399.9" cy="418.2" r="1.4"/><circle cx="410.6" cy="420.2" r="1.2"/><circle cx="408.0" cy="423.9" r="1.2"/><circle cx="419.7" cy="416.0" r="1.2"/><circle cx="405.6" cy="421.2" r="1.3"/><circle cx="407.3" cy="423.4" r="1.6"/><circle cx="419.6" cy="409.2" r="1.4"/><circle cx="426.5" cy="401.3" r="1.4"/><circle cx="426.4" cy="395.0" r="1.7"/><circle cx="417.6" cy="406.6" r="1.3"/><circle cx="425.1" cy="399.0" r="1.6"/><circle cx="425.6" cy="391.7" r="1.3"/><circle cx="425.5" cy="397.7" r="1.2"/><circle cx="423.0" cy="402.3" r="1.0"/><circle cx="423.3" cy="409.4" r="1.4"/><circle cx="426.2" cy="410.1" r="1.2"/><circle cx="430.0" cy="394.7" r="1.5"/><circle cx="427.0" cy="407.0" r="1.2"/><circle cx="416.9" cy="408.8" r="1.5"/><circle cx="424.5" cy="394.4" r="1.3"/><circle cx="422.9" cy="399.3" r="1.2"/><circle cx="421.7" cy="404.0" r="1.3"/><circle cx="429.1" cy="397.5" r="1.1"/><circle cx="421.3" cy="408.9" r="1.4"/><circle cx="426.5" cy="415.3" r="1.7"/><circle cx="429.1" cy="395.9" r="1.6"/><circle cx="420.4" cy="405.9" r="1.0"/><circle cx="428.9" cy="396.0" r="1.8"/><circle cx="418.2" cy="412.0" r="1.2"/><circle cx="420.3" cy="413.3" r="1.6"/><circle cx="423.7" cy="407.8" r="1.1"/><circle cx="419.4" cy="408.5" r="1.5"/><circle cx="425.0" cy="413.3" r="1.6"/><circle cx="421.9" cy="400.9" r="1.6"/><circle cx="442.2" cy="377.5" r="1.4"/><circle cx="435.8" cy="377.9" r="1.3"/><circle cx="436.2" cy="385.0" r="1.4"/><circle cx="439.1" cy="377.9" r="1.4"/><circle cx="447.0" cy="379.5" r="1.6"/><circle cx="442.7" cy="373.1" r="1.3"/><circle cx="436.3" cy="379.1" r="1.7"/><circle cx="442.4" cy="376.5" r="1.0"/><circle cx="431.2" cy="391.6" r="1.0"/><circle cx="429.5" cy="392.6" r="1.6"/><circle cx="439.6" cy="381.4" r="1.9"/><circle cx="443.6" cy="373.6" r="0.9"/><circle cx="427.4" cy="384.3" r="1.8"/><circle cx="437.5" cy="384.1" r="1.3"/><circle cx="441.0" cy="384.7" r="1.2"/><circle cx="435.5" cy="389.9" r="1.9"/><circle cx="445.6" cy="374.3" r="1.7"/><circle cx="442.1" cy="373.3" r="1.8"/><circle cx="439.7" cy="381.9" r="1.6"/><circle cx="429.9" cy="392.8" r="1.6"/><circle cx="444.2" cy="378.2" r="1.7"/><circle cx="431.2" cy="383.6" r="1.9"/><circle cx="439.6" cy="385.4" r="1.1"/><circle cx="436.7" cy="378.9" r="1.1"/><circle cx="434.7" cy="384.8" r="1.5"/><circle cx="426.0" cy="386.4" r="1.6"/><circle cx="431.8" cy="386.8" r="1.3"/><circle cx="430.6" cy="390.6" r="1.1"/><circle cx="434.5" cy="379.6" r="1.5"/><circle cx="436.6" cy="380.3" r="1.3"/><circle cx="445.6" cy="373.9" r="1.2"/><circle cx="451.4" cy="365.6" r="1.3"/><circle cx="447.8" cy="370.8" r="1.2"/><circle cx="448.0" cy="365.5" r="1.2"/><circle cx="452.8" cy="373.1" r="1.6"/><circle cx="448.4" cy="365.0" r="1.0"/><circle cx="454.9" cy="364.6" r="1.0"/><circle cx="450.1" cy="372.4" r="1.6"/><circle cx="442.5" cy="364.7" r="1.3"/><circle cx="449.5" cy="370.4" r="1.1"/><circle cx="453.6" cy="364.0" r="1.5"/><circle cx="449.7" cy="360.4" r="1.4"/><circle cx="460.0" cy="362.5" r="1.3"/><circle cx="450.2" cy="365.2" r="1.7"/><circle cx="450.1" cy="372.8" r="1.4"/><circle cx="453.6" cy="361.0" r="1.5"/><circle cx="455.8" cy="364.4" r="1.3"/><circle cx="452.6" cy="373.8" r="1.7"/><circle cx="451.1" cy="369.0" r="1.9"/><circle cx="460.7" cy="364.6" r="1.3"/><circle cx="451.9" cy="372.6" r="1.2"/><circle cx="451.5" cy="368.6" r="1.0"/><circle cx="449.4" cy="369.5" r="1.1"/><circle cx="447.0" cy="372.5" r="1.4"/><circle cx="452.6" cy="363.9" r="1.8"/><circle cx="447.1" cy="371.8" r="1.8"/></g>
<path d="M322.3 442.1L368.7 408.1" stroke="#9c6426" stroke-width="9.1" stroke-opacity="0.90" stroke-linecap="round" fill="none"/><path d="M326.9 410.3L359.8 404.6" stroke="#b47c2a" stroke-width="8.1" stroke-opacity="0.95" stroke-linecap="round" fill="none"/><path d="M326.9 410.3L359.8 404.6" stroke="#c08a30" stroke-width="4.1" stroke-opacity="0.95" stroke-linecap="round" fill="none"/><path d="M359.4 477.3L392.4 458.6" stroke="#97602a" stroke-width="8.1" stroke-opacity="0.80" stroke-linecap="round" fill="none"/><path d="M366.6 415.6L408.4 394.4" stroke="#b98430" stroke-width="11.3" stroke-opacity="0.95" stroke-linecap="round" fill="none"/><path d="M366.6 415.6L408.4 394.4" stroke="#c89434" stroke-width="5.7" stroke-opacity="0.95" stroke-linecap="round" fill="none"/><path d="M438.8 361.7L448.3 386.1" stroke="#b07a2a" stroke-width="12.9" stroke-opacity="0.95" stroke-linecap="round" fill="none"/><path d="M438.8 361.7L448.3 386.1" stroke="#bc862c" stroke-width="6.6" stroke-opacity="0.95" stroke-linecap="round" fill="none"/><path d="M445.9 387.0L514.7 413.5" stroke="#a87228" stroke-width="10.2" stroke-opacity="0.90" stroke-linecap="round" fill="none"/><path d="M445.9 387.0L514.7 413.5" stroke="#b07a2a" stroke-width="5.2" stroke-opacity="0.90" stroke-linecap="round" fill="none"/><path d="M533.8 366.6L501.9 398.3" stroke="#ae7a2a" stroke-width="11.3" stroke-opacity="0.90" stroke-linecap="round" fill="none"/><path d="M533.8 366.6L501.9 398.3" stroke="#b98630" stroke-width="5.7" stroke-opacity="0.90" stroke-linecap="round" fill="none"/><path d="M523.6 417.0L536.0 416.3" stroke="#a87428" stroke-width="9.1" stroke-opacity="0.90" stroke-linecap="round" fill="none"/><path d="M447.0 433.4L536.0 492.4" stroke="#b48030" stroke-width="10.7" stroke-opacity="0.90" stroke-linecap="round" fill="none"/><path d="M447.0 433.4L536.0 492.4" stroke="#c08c34" stroke-width="5.5" stroke-opacity="0.90" stroke-linecap="round" fill="none"/><path d="M423.1 448.1L469.2 497.1" stroke="#bd892e" stroke-width="11.8" stroke-opacity="0.95" stroke-linecap="round" fill="none"/><path d="M423.1 448.1L469.2 497.1" stroke="#caa040" stroke-width="6.0" stroke-opacity="0.95" stroke-linecap="round" fill="none"/><path d="M507.9 500.3L525.8 556.2" stroke="#c08a2e" stroke-width="10.7" stroke-opacity="0.90" stroke-linecap="round" fill="none"/><path d="M507.9 500.3L525.8 556.2" stroke="#cc9c3a" stroke-width="5.5" stroke-opacity="0.90" stroke-linecap="round" fill="none"/><path d="M393.8 442.9L442.6 440.2" stroke="#c48e30" stroke-width="9.7" stroke-opacity="0.95" stroke-linecap="round" fill="none"/><path d="M393.8 442.9L442.6 440.2" stroke="#d2a23c" stroke-width="4.9" stroke-opacity="0.95" stroke-linecap="round" fill="none"/><path d="M401.2 449.0L369.8 502.6" stroke="#c69232" stroke-width="13.4" stroke-opacity="0.97" stroke-linecap="round" fill="none"/><path d="M401.2 449.0L369.8 502.6" stroke="#d3a33c" stroke-width="6.8" stroke-opacity="0.97" stroke-linecap="round" fill="none"/><path d="M406.4 457.5L409.8 546.1" stroke="#cb9a36" stroke-width="12.3" stroke-opacity="0.97" stroke-linecap="round" fill="none"/><path d="M406.4 457.5L409.8 546.1" stroke="#dab048" stroke-width="6.3" stroke-opacity="0.97" stroke-linecap="round" fill="none"/><path d="M399.6 362.1L368.7 412.6" stroke="#d2a232" stroke-width="15.6" stroke-opacity="1.00" stroke-linecap="round" fill="none"/><path d="M399.6 362.1L368.7 412.6" stroke="#ecc94a" stroke-width="7.9" stroke-opacity="1.00" stroke-linecap="round" fill="none"/><path d="M342.0 440.4L346.7 433.7" stroke="#d09a30" stroke-width="6.4" stroke-opacity="1.00" stroke-linecap="round" fill="none"/><path d="M342.0 440.4L346.7 433.7" stroke="#e0b040" stroke-width="3.3" stroke-opacity="1.00" stroke-linecap="round" fill="none"/><path d="M420.6 446.2L428.2 440.5" stroke="#ecd060" stroke-width="9.7" stroke-opacity="1.00" stroke-linecap="round" fill="none"/><path d="M420.6 446.2L428.2 440.5" stroke="#f6e47a" stroke-width="4.9" stroke-opacity="1.00" stroke-linecap="round" fill="none"/><path d="M526.1 506.2L536.5 498.7" stroke="#f0dc62" stroke-width="14.0" stroke-opacity="1.00" stroke-linecap="round" fill="none"/><path d="M526.1 506.2L536.5 498.7" stroke="#fbf08a" stroke-width="7.1" stroke-opacity="1.00" stroke-linecap="round" fill="none"/>
</g>
</g>
<rect x="320.2" y="358.5" width="216.7" height="216.5" fill="none" stroke="#1a0a05" stroke-width="0.8"/>
<path d="M500.2 387.3L482.1 424.6" stroke="#1a1a1a" stroke-width="0.9"/>
<text x="494.75" y="413.68" font-size="11.50" fill="#1a1a1a" >1</text>
<path d="M357.3 456.9L376.7 492.2" stroke="#e01020" stroke-width="0.9"/>
<text x="375.18" y="477.31" font-size="12.50" fill="#e01020" >2</text>
<text x="524.33" y="433.81" font-size="12.50" fill="#1a8ad4" >3</text>
<path d="M537.6 395.5V442" stroke="#1a8ad4" stroke-width="1.4"/>
<text x="452.99" y="446.49" font-size="11.50" fill="#ffffff" textLength="39.03" lengthAdjust="spacingAndGlyphs" font-weight="bold" >≈ 6 nm</text>
<path d="M416.9 452.0H533.3V551.9H416.9ZM416.9 485.3H533.3M416.9 518.3H533.3" fill="none" stroke="#fff" stroke-width="1.05"/>
<polyline points="427.4,476.8 431.9,477.3 435.6,475.3 439.3,477.8 444.3,476.8 447.3,469.9 449.8,457.4 453.0,455.4 461.7,455.7 474.1,455.2 481.6,454.9 484.1,462.4 487.0,477.3 490.3,481.3 499.0,481.8 508.9,481.3 518.9,482.0 526.8,481.5" fill="none" stroke="#151515" stroke-width="0.9" stroke-linejoin="round"/>
<polyline points="427.4,509.1 436.8,510.1 444.3,509.9 448.0,508.6 451.2,499.7 454.2,494.2 459.2,493.0 469.1,493.2 479.1,492.5 482.8,493.5 486.0,502.2 489.5,508.6 494.0,509.6 506.4,509.4 515.9,509.4" fill="none" stroke="#d8102a" stroke-width="0.9" stroke-linejoin="round"/>
<polyline points="427.4,540.7 436.8,541.4 444.3,540.7 448.0,539.0 450.5,532.0 453.0,525.8 456.7,524.5 464.2,525.5 474.1,525.0 481.1,525.5 483.6,532.0 486.0,541.4 491.5,543.9 499.0,544.9 506.4,545.9 512.6,544.9 518.4,545.9" fill="none" stroke="#1a8ac8" stroke-width="1.0" stroke-linejoin="round"/>
<path d="M489.5 457.9h4M489.0 492.7h4M489.5 525.0h4" stroke-width="0.8" fill="none" stroke="#ccc"/>
<path d="M490.0 457.9h6" stroke="#151515" stroke-width="0.8"/><path d="M489.5 492.7h6" stroke="#d8102a" stroke-width="0.8"/><path d="M490.0 525.0h6" stroke="#1a8ac8" stroke-width="0.8"/>
<text x="498.47" y="459.91" font-size="7.20" fill="#ffffff" textLength="27.34" lengthAdjust="spacingAndGlyphs" >profile1</text>
<text x="498.47" y="495.21" font-size="7.20" fill="#ffffff" textLength="27.34" lengthAdjust="spacingAndGlyphs" >profile2</text>
<text x="498.47" y="527.03" font-size="7.20" fill="#ffffff" textLength="27.34" lengthAdjust="spacingAndGlyphs" >profile3</text>
<text x="409.98" y="462.90" font-size="7.60" fill="#ffffff" >2</text>
<text x="409.98" y="496.45" font-size="7.60" fill="#ffffff" >2</text>
<text x="409.98" y="529.51" font-size="7.60" fill="#ffffff" >2</text>
<text x="407.50" y="482.78" font-size="7.60" fill="#ffffff" >-4</text>
<text x="407.50" y="516.34" font-size="7.60" fill="#ffffff" >-4</text>
<text x="407.50" y="549.90" font-size="7.60" fill="#ffffff" >-4</text>
<text x="413.21" y="560.59" font-size="7.40" fill="#ffffff" textLength="9.60" lengthAdjust="spacingAndGlyphs" >0.0</text>
<text x="441.80" y="560.59" font-size="7.40" fill="#ffffff" textLength="9.60" lengthAdjust="spacingAndGlyphs" >0.1</text>
<text x="469.14" y="560.59" font-size="7.40" fill="#ffffff" textLength="9.60" lengthAdjust="spacingAndGlyphs" >0.2</text>
<text x="496.98" y="560.59" font-size="7.40" fill="#ffffff" textLength="9.60" lengthAdjust="spacingAndGlyphs" >0.3</text>
<text x="524.33" y="560.59" font-size="7.40" fill="#ffffff" textLength="9.60" lengthAdjust="spacingAndGlyphs" >0.4</text>
<text x="454.97" y="570.03" font-size="7.20" fill="#ffffff" textLength="40.27" lengthAdjust="spacingAndGlyphs" >Width (µm)</text>
<g transform="translate(403.5,518.3) rotate(-90)"><text x="0.00" y="0.00" font-size="7.00" fill="#ffffff" textLength="43.50" lengthAdjust="spacingAndGlyphs" >Height (nm)</text></g>
<path d="M337.9 567.8H391.1" stroke="#f4f4f4" stroke-width="1.2"/>
<text x="336.41" y="561.33" font-size="16.60" fill="#f6f6f6" textLength="55.43" lengthAdjust="spacingAndGlyphs" >500 nm</text>
<rect x="545.6" y="358.7" width="16.5" height="216.3" fill="url(#gcb)" stroke="#3e3a39" stroke-width="0.9"/>
<path d="M562.1 358.9h8.6M562.1 384.6h8.6M562.1 408.8h8.6M562.1 432.7h8.6M562.1 456.5h8.6M562.1 480.6h8.6M562.1 504.6h8.6M562.1 528.3h8.6M562.1 552.7h8.6M562.1 574.5h8.6" stroke="#3e3a39" stroke-width="1.0" fill="none"/>
<text x="572.80" y="364.90" font-size="15.00" fill="#231815" textLength="46.50" lengthAdjust="spacingAndGlyphs" >25 nm</text>
<text x="572.80" y="388.10" font-size="15.00" fill="#231815" >20</text>
<text x="572.80" y="412.00" font-size="15.00" fill="#231815" >15</text>
<text x="572.80" y="436.10" font-size="15.00" fill="#231815" >10</text>
<text x="572.80" y="461.80" font-size="15.00" fill="#231815" >5</text>
<text x="572.80" y="485.40" font-size="15.00" fill="#231815" >0</text>
<text x="572.80" y="508.20" font-size="15.00" fill="#231815" >-5</text>
<text x="572.80" y="532.40" font-size="15.00" fill="#231815" >-10</text>
<text x="572.80" y="556.20" font-size="15.00" fill="#231815" >-15</text>
<text x="572.80" y="575.20" font-size="15.00" fill="#231815" >-20</text>
</svg>
<svg style="position:absolute;left:612px;top:352px" width="276" height="232" viewBox="612 352 276 232" >
<defs>
<filter id="nd1" x="0" y="0" width="100%" height="100%" color-interpolation-filters="sRGB"><feTurbulence type="fractalNoise" baseFrequency="0.30 0.20" numOctaves="2" seed="21"/><feColorMatrix type="matrix" values="0.66 0 0 0 -0.075 0.66 0 0 0 -0.075 0.66 0 0 0 -0.075 0 0 0 0 1"/></filter>
<filter id="nd2" x="0" y="0" width="100%" height="100%" color-interpolation-filters="sRGB"><feTurbulence type="fractalNoise" baseFrequency="0.05 0.012" numOctaves="2" seed="8"/><feColorMatrix type="matrix" values="0 0 0 0 1 0 0 0 0 1 0 0 0 0 1 1.6 0 0 0 -0.62"/></filter>
<linearGradient id="pd" gradientUnits="userSpaceOnUse" x1="0" y1="0" x2="7" y2="0" spreadMethod="repeat" gradientTransform="rotate(-3.6)"><stop offset="0" stop-color="#fff" stop-opacity="0.16"/><stop offset="0.22" stop-color="#fff" stop-opacity="0.12"/><stop offset="0.5" stop-color="#000" stop-opacity="0.30"/><stop offset="0.78" stop-color="#000" stop-opacity="0.26"/><stop offset="1" stop-color="#fff" stop-opacity="0.16"/></linearGradient>
<clipPath id="cd"><rect x="623.1" y="360.1" width="252.9" height="215.6"/></clipPath>
</defs>
<g clip-path="url(#cd)">
<rect x="623.1" y="360.1" width="252.9" height="215.6" filter="url(#nd1)"/>
<rect x="623.1" y="360.1" width="252.9" height="215.6" fill="url(#pd)"/>
</g>
<rect x="766.3" y="359.0" width="110.7" height="73.0" fill="#fff"/>
<path d="M785.30 388.40L789.85 387.89M789.85 387.89L793.90 390.42M793.90 390.42L797.95 387.89M797.95 387.89L802.50 388.40M789.85 387.89L791.37 382.83M791.37 382.83L796.43 382.83M796.43 382.83L797.95 387.89M791.37 382.83L789.35 380.30M796.43 382.83L798.45 380.30M802.50 388.40L803.01 392.95M803.01 392.95L800.48 397.00M800.48 397.00L803.01 401.05M803.01 401.05L802.50 405.60M803.01 392.95L808.07 394.47M808.07 394.47L808.07 399.53M808.07 399.53L803.01 401.05M808.07 394.47L810.60 392.45M808.07 399.53L810.60 401.55M802.50 405.60L797.95 406.11M797.95 406.11L793.90 403.58M793.90 403.58L789.85 406.11M789.85 406.11L785.30 405.60M797.95 406.11L796.43 411.17M796.43 411.17L791.37 411.17M791.37 411.17L789.85 406.11M796.43 411.17L798.45 413.70M791.37 411.17L789.35 413.70M785.30 405.60L784.79 401.05M784.79 401.05L787.32 397.00M787.32 397.00L784.79 392.95M784.79 392.95L785.30 388.40M784.79 401.05L779.73 399.53M779.73 399.53L779.73 394.47M779.73 394.47L784.79 392.95M779.73 399.53L777.20 401.55M779.73 394.47L777.20 392.45M785.30 388.40L769.62 374.54M802.50 388.40L818.18 374.54M802.50 405.60L818.18 419.46M785.30 405.60L769.62 419.46" stroke="#858585" stroke-width="0.7" fill="none"/><path d="M782.77 386.27L775.18 379.60M805.03 386.27L812.62 379.60M805.03 407.73L812.62 414.40M782.77 407.73L775.18 414.40" stroke="#6a6a6a" stroke-width="1.3" fill="none"/><circle cx="793.90" cy="390.42" r="0.75" fill="#3a4fb0"/><circle cx="800.48" cy="397.00" r="0.75" fill="#3a4fb0"/><circle cx="793.90" cy="403.58" r="0.75" fill="#3a4fb0"/><circle cx="787.32" cy="397.00" r="0.75" fill="#3a4fb0"/><circle cx="769.62" cy="374.54" r="0.75" fill="#b03030"/><circle cx="818.18" cy="374.54" r="0.75" fill="#b03030"/><circle cx="818.18" cy="419.46" r="0.75" fill="#b03030"/><circle cx="769.62" cy="419.46" r="0.75" fill="#b03030"/>
<path d="M840.60 388.40L845.15 387.89M845.15 387.89L849.20 390.42M849.20 390.42L853.25 387.89M853.25 387.89L857.80 388.40M845.15 387.89L846.67 382.83M846.67 382.83L851.73 382.83M851.73 382.83L853.25 387.89M846.67 382.83L844.65 380.30M851.73 382.83L853.75 380.30M857.80 388.40L858.31 392.95M858.31 392.95L855.78 397.00M855.78 397.00L858.31 401.05M858.31 401.05L857.80 405.60M858.31 392.95L863.37 394.47M863.37 394.47L863.37 399.53M863.37 399.53L858.31 401.05M863.37 394.47L865.90 392.45M863.37 399.53L865.90 401.55M857.80 405.60L853.25 406.11M853.25 406.11L849.20 403.58M849.20 403.58L845.15 406.11M845.15 406.11L840.60 405.60M853.25 406.11L851.73 411.17M851.73 411.17L846.67 411.17M846.67 411.17L845.15 406.11M851.73 411.17L853.75 413.70M846.67 411.17L844.65 413.70M840.60 405.60L840.09 401.05M840.09 401.05L842.62 397.00M842.62 397.00L840.09 392.95M840.09 392.95L840.60 388.40M840.09 401.05L835.03 399.53M835.03 399.53L835.03 394.47M835.03 394.47L840.09 392.95M835.03 399.53L832.50 401.55M835.03 394.47L832.50 392.45M840.60 388.40L824.92 374.54M857.80 388.40L873.48 374.54M857.80 405.60L873.48 419.46M840.60 405.60L824.92 419.46" stroke="#858585" stroke-width="0.7" fill="none"/><path d="M838.07 386.27L830.48 379.60M860.33 386.27L867.92 379.60M860.33 407.73L867.92 414.40M838.07 407.73L830.48 414.40" stroke="#6a6a6a" stroke-width="1.3" fill="none"/><circle cx="849.20" cy="390.42" r="0.75" fill="#3a4fb0"/><circle cx="855.78" cy="397.00" r="0.75" fill="#3a4fb0"/><circle cx="849.20" cy="403.58" r="0.75" fill="#3a4fb0"/><circle cx="842.62" cy="397.00" r="0.75" fill="#3a4fb0"/><circle cx="824.92" cy="374.54" r="0.75" fill="#b03030"/><circle cx="873.48" cy="374.54" r="0.75" fill="#b03030"/><circle cx="873.48" cy="419.46" r="0.75" fill="#b03030"/><circle cx="824.92" cy="419.46" r="0.75" fill="#b03030"/>
<rect x="816.7" y="365.1" width="10.2" height="10.2" fill="#2c9639"/>
<path d="M816.7 365.1h10.2l-5.1 5.4z" fill="#3aae3c"/>
<path d="M816.7 375.3l5.1 -4.8l5.1 4.8z" fill="#1f7a30"/>
<rect x="816.7" y="419.1" width="10.2" height="10.2" fill="#2c9639"/>
<path d="M816.7 419.1h10.2l-5.1 5.4z" fill="#3aae3c"/>
<path d="M816.7 429.3l5.1 -4.8l5.1 4.8z" fill="#1f7a30"/>
<path d="M811.5 405.4L831 387" stroke="#000" stroke-width="1.0"/>
<path d="M834.60 383.60L829.90 391.74L826.20 387.81Z" fill="#000"/>
<path d="M807.90 408.80L812.60 400.66L816.30 404.59Z" fill="#000"/>
<text x="835.70" y="371.70" font-size="10.40" fill="#231815" textLength="34.20" lengthAdjust="spacingAndGlyphs" stroke="#231815" stroke-width="0.25">1.2 nm</text>
<path d="M732.4 465.2L734.9 505.6M740.5 465.2L743 505.6" stroke="#f4f4f4" stroke-width="1.4" fill="none"/>
<text x="719.20" y="521.80" font-size="16.20" fill="#f4f4f4" textLength="78.50" lengthAdjust="spacingAndGlyphs" >d = 1.2 nm</text>
<path d="M636 568.6H694.8" stroke="#f4f4f4" stroke-width="1.3"/>
<text x="643.30" y="561.50" font-size="16.20" fill="#f4f4f4" textLength="46.20" lengthAdjust="spacingAndGlyphs" >10 nm</text>
</svg>
<svg style="position:absolute;left:900px;top:352px" width="280" height="232" viewBox="900 352 280 232" >
<defs>
<filter id="ne1" x="0" y="0" width="100%" height="100%" color-interpolation-filters="sRGB"><feTurbulence type="fractalNoise" baseFrequency="0.26 0.29" numOctaves="2" seed="33"/><feColorMatrix type="matrix" values="1.4 0 0 0 -0.36 1.4 0 0 0 -0.36 1.4 0 0 0 -0.36 0 0 0 0 1"/></filter>
<filter id="ne2" x="0" y="0" width="100%" height="100%" color-interpolation-filters="sRGB"><feTurbulence type="fractalNoise" baseFrequency="0.045 0.125" numOctaves="2" seed="71"/><feColorMatrix type="matrix" values="1.9 0 0 0 -0.62 1.9 0 0 0 -0.62 1.9 0 0 0 -0.62 0 0 0 0 1"/></filter>
<pattern id="pe" width="20" height="8" patternUnits="userSpaceOnUse" patternTransform="rotate(-15.5)"><rect y="0" width="20" height="3.4" fill="#fff" fill-opacity="0.17"/><rect y="4" width="20" height="3.4" fill="#000" fill-opacity="0.24"/></pattern>
<radialGradient id="ge" cx="0.55" cy="0.6" r="0.6"><stop offset="0" stop-color="#fff"/><stop offset="0.6" stop-color="#fff" stop-opacity="0.7"/><stop offset="1" stop-color="#fff" stop-opacity="0"/></radialGradient><mask id="me"><rect x="910.8" y="360.1" width="255.2" height="215.1" fill="url(#ge)"/></mask>
<clipPath id="ce"><rect x="910.8" y="360.1" width="255.2" height="215.1"/></clipPath>
</defs>
<g clip-path="url(#ce)">
<rect x="910.8" y="360.1" width="255.2" height="215.1" filter="url(#ne1)"/>
<g mask="url(#me)"><rect x="870.8" y="310.1" width="335.2" height="315.1" transform="rotate(-15.5 1038.4 467.7)" filter="url(#ne2)" opacity="0.36"/></g>
<rect x="910.8" y="360.1" width="255.2" height="215.1" fill="url(#pe)" mask="url(#me)"/>
</g>
<rect x="1054.6" y="359.0" width="112.4" height="78.0" fill="#fff"/>
<path d="M1077.5 385.4H1141" stroke="#9a9a9a" stroke-width="0.7"/>
<path d="M1096 385.4H1123" stroke="#7078b0" stroke-width="0.7" stroke-dasharray="1.6 3.4"/>
<polygon points="1083.9,385.4 1086.4,378.8 1091.0,378.8 1093.5,385.4 1091.0,392.0 1086.4,392.0" fill="none" stroke="#8e8e8e" stroke-width="0.8"/>
<path d="M1086.4 378.8L1084.5 374.8M1086.4 392.0L1084.5 396.0M1091.0 378.8L1092.9 374.8M1091.0 392.0L1092.9 396.0" stroke="#a8a8a8" stroke-width="0.8"/>
<polygon points="1125.1,385.4 1127.6,378.8 1132.2,378.8 1134.7,385.4 1132.2,392.0 1127.6,392.0" fill="none" stroke="#8e8e8e" stroke-width="0.8"/>
<path d="M1127.6 378.8L1125.7 374.8M1127.6 392.0L1125.7 396.0M1132.2 378.8L1134.1 374.8M1132.2 392.0L1134.1 396.0" stroke="#a8a8a8" stroke-width="0.8"/>
<path d="M1077.5 415.3H1141" stroke="#9a9a9a" stroke-width="0.7"/>
<path d="M1096 415.3H1123" stroke="#7078b0" stroke-width="0.7" stroke-dasharray="1.6 3.4"/>
<polygon points="1083.9,415.3 1086.4,408.7 1091.0,408.7 1093.5,415.3 1091.0,421.9 1086.4,421.9" fill="none" stroke="#8e8e8e" stroke-width="0.8"/>
<path d="M1086.4 408.7L1084.5 404.7M1086.4 421.9L1084.5 425.9M1091.0 408.7L1092.9 404.7M1091.0 421.9L1092.9 425.9" stroke="#a8a8a8" stroke-width="0.8"/>
<polygon points="1125.1,415.3 1127.6,408.7 1132.2,408.7 1134.7,415.3 1132.2,421.9 1127.6,421.9" fill="none" stroke="#8e8e8e" stroke-width="0.8"/>
<path d="M1127.6 408.7L1125.7 404.7M1127.6 421.9L1125.7 425.9M1132.2 408.7L1134.1 404.7M1132.2 421.9L1134.1 425.9" stroke="#a8a8a8" stroke-width="0.8"/>

<path d="M1074.30 370.40l6.5 7l-6.5 7l-6.5 -7z" fill="#2a8f37"/>
<path d="M1070.10 368.60L1078.10 376.60L1070.10 384.60L1062.10 376.60Z" fill="#3aae3c"/><path d="M1078.10 375.60L1070.10 384.60L1068.50 377.40Z" fill="#2c9639"/>
<circle cx="1070.1" cy="368.6" r="0.6" fill="#c03030"/>
<circle cx="1078.1" cy="376.6" r="0.6" fill="#c03030"/>
<circle cx="1062.1" cy="376.6" r="0.6" fill="#c03030"/>
<circle cx="1070.1" cy="384.6" r="0.6" fill="#c03030"/>
<circle cx="1075.6" cy="372.1" r="0.6" fill="#c03030"/>
<circle cx="1064.6" cy="381.1" r="0.6" fill="#c03030"/>

<path d="M1074.30 386.20l6.5 7l-6.5 7l-6.5 -7z" fill="#2a8f37"/>
<path d="M1070.10 384.40L1078.10 392.40L1070.10 400.40L1062.10 392.40Z" fill="#3aae3c"/><path d="M1078.10 391.40L1070.10 400.40L1068.50 393.20Z" fill="#2c9639"/>
<circle cx="1070.1" cy="384.4" r="0.6" fill="#c03030"/>
<circle cx="1078.1" cy="392.4" r="0.6" fill="#c03030"/>
<circle cx="1062.1" cy="392.4" r="0.6" fill="#c03030"/>
<circle cx="1070.1" cy="400.4" r="0.6" fill="#c03030"/>
<circle cx="1075.6" cy="387.9" r="0.6" fill="#c03030"/>
<circle cx="1064.6" cy="396.9" r="0.6" fill="#c03030"/>

<path d="M1074.30 401.80l6.5 7l-6.5 7l-6.5 -7z" fill="#2a8f37"/>
<path d="M1070.10 400.00L1078.10 408.00L1070.10 416.00L1062.10 408.00Z" fill="#3aae3c"/><path d="M1078.10 407.00L1070.10 416.00L1068.50 408.80Z" fill="#2c9639"/>
<circle cx="1070.1" cy="400.0" r="0.6" fill="#c03030"/>
<circle cx="1078.1" cy="408.0" r="0.6" fill="#c03030"/>
<circle cx="1062.1" cy="408.0" r="0.6" fill="#c03030"/>
<circle cx="1070.1" cy="416.0" r="0.6" fill="#c03030"/>
<circle cx="1075.6" cy="403.5" r="0.6" fill="#c03030"/>
<circle cx="1064.6" cy="412.5" r="0.6" fill="#c03030"/>

<path d="M1074.30 417.40l6.5 7l-6.5 7l-6.5 -7z" fill="#2a8f37"/>
<path d="M1070.10 415.60L1078.10 423.60L1070.10 431.60L1062.10 423.60Z" fill="#3aae3c"/><path d="M1078.10 422.60L1070.10 431.60L1068.50 424.40Z" fill="#2c9639"/>
<circle cx="1070.1" cy="415.6" r="0.6" fill="#c03030"/>
<circle cx="1078.1" cy="423.6" r="0.6" fill="#c03030"/>
<circle cx="1062.1" cy="423.6" r="0.6" fill="#c03030"/>
<circle cx="1070.1" cy="431.6" r="0.6" fill="#c03030"/>
<circle cx="1075.6" cy="419.1" r="0.6" fill="#c03030"/>
<circle cx="1064.6" cy="428.1" r="0.6" fill="#c03030"/>

<path d="M1144.80 370.40l6.5 7l-6.5 7l-6.5 -7z" fill="#2a8f37"/>
<path d="M1149.00 368.60L1157.00 376.60L1149.00 384.60L1141.00 376.60Z" fill="#3aae3c"/><path d="M1141.00 375.60L1149.00 384.60L1150.60 377.40Z" fill="#2c9639"/>
<circle cx="1149.0" cy="368.6" r="0.6" fill="#c03030"/>
<circle cx="1157.0" cy="376.6" r="0.6" fill="#c03030"/>
<circle cx="1141.0" cy="376.6" r="0.6" fill="#c03030"/>
<circle cx="1149.0" cy="384.6" r="0.6" fill="#c03030"/>
<circle cx="1154.5" cy="372.1" r="0.6" fill="#c03030"/>
<circle cx="1143.5" cy="381.1" r="0.6" fill="#c03030"/>

<path d="M1144.80 386.20l6.5 7l-6.5 7l-6.5 -7z" fill="#2a8f37"/>
<path d="M1149.00 384.40L1157.00 392.40L1149.00 400.40L1141.00 392.40Z" fill="#3aae3c"/><path d="M1141.00 391.40L1149.00 400.40L1150.60 393.20Z" fill="#2c9639"/>
<circle cx="1149.0" cy="384.4" r="0.6" fill="#c03030"/>
<circle cx="1157.0" cy="392.4" r="0.6" fill="#c03030"/>
<circle cx="1141.0" cy="392.4" r="0.6" fill="#c03030"/>
<circle cx="1149.0" cy="400.4" r="0.6" fill="#c03030"/>
<circle cx="1154.5" cy="387.9" r="0.6" fill="#c03030"/>
<circle cx="1143.5" cy="396.9" r="0.6" fill="#c03030"/>

<path d="M1144.80 401.80l6.5 7l-6.5 7l-6.5 -7z" fill="#2a8f37"/>
<path d="M1149.00 400.00L1157.00 408.00L1149.00 416.00L1141.00 408.00Z" fill="#3aae3c"/><path d="M1141.00 407.00L1149.00 416.00L1150.60 408.80Z" fill="#2c9639"/>
<circle cx="1149.0" cy="400.0" r="0.6" fill="#c03030"/>
<circle cx="1157.0" cy="408.0" r="0.6" fill="#c03030"/>
<circle cx="1141.0" cy="408.0" r="0.6" fill="#c03030"/>
<circle cx="1149.0" cy="416.0" r="0.6" fill="#c03030"/>
<circle cx="1154.5" cy="403.5" r="0.6" fill="#c03030"/>
<circle cx="1143.5" cy="412.5" r="0.6" fill="#c03030"/>

<path d="M1144.80 417.40l6.5 7l-6.5 7l-6.5 -7z" fill="#2a8f37"/>
<path d="M1149.00 415.60L1157.00 423.60L1149.00 431.60L1141.00 423.60Z" fill="#3aae3c"/><path d="M1141.00 422.60L1149.00 431.60L1150.60 424.40Z" fill="#2c9639"/>
<circle cx="1149.0" cy="415.6" r="0.6" fill="#c03030"/>
<circle cx="1157.0" cy="423.6" r="0.6" fill="#c03030"/>
<circle cx="1141.0" cy="423.6" r="0.6" fill="#c03030"/>
<circle cx="1149.0" cy="431.6" r="0.6" fill="#c03030"/>
<circle cx="1154.5" cy="419.1" r="0.6" fill="#c03030"/>
<circle cx="1143.5" cy="428.1" r="0.6" fill="#c03030"/>
<path d="M1106.7 392V409" stroke="#000" stroke-width="1.3"/>
<path d="M1106.70 387.60L1109.40 395.10L1104.00 395.10Z" fill="#000"/>
<path d="M1106.70 413.00L1104.00 405.50L1109.40 405.50Z" fill="#000"/>
<text x="1092.20" y="372.00" font-size="10.40" fill="#231815" textLength="41.00" lengthAdjust="spacingAndGlyphs" >0.67 nm</text>
<path d="M1018.6 488.7L1062 475.7M1021.5 495.9L1065.2 483" stroke="#f4f4f4" stroke-width="1.5" fill="none"/>
<text x="1056.50" y="512.50" font-size="16.20" fill="#f4f4f4" textLength="91.50" lengthAdjust="spacingAndGlyphs" >d = 0.67 nm</text>
<path d="M924.6 569.3H984.6" stroke="#f4f4f4" stroke-width="1.3"/>
<text x="933.30" y="561.80" font-size="16.20" fill="#f4f4f4" textLength="38.80" lengthAdjust="spacingAndGlyphs" >5 nm</text>
</svg>
<svg style="position:absolute;left:0px;top:578px" width="312" height="295" viewBox="0 578 312 295" font-family="Liberation Sans, sans-serif">
<polyline points="37.5,810.4 37.7,811.0 37.8,809.6 38.0,809.1 38.2,807.9 38.4,808.4 38.5,809.8 38.7,808.5 38.9,808.9 39.0,807.4 39.2,807.2 39.4,806.6 39.6,803.8 39.7,806.7 39.9,806.1 40.1,805.9 40.2,802.8 40.4,802.6 40.6,803.5 40.7,803.9 40.9,804.7 41.1,804.1 41.3,804.7 41.4,803.0 41.6,804.0 41.8,804.0 41.9,802.4 42.1,805.3 42.3,803.6 42.5,804.3 42.6,801.7 42.8,801.4 43.0,801.7 43.1,801.9 43.3,802.6 43.5,802.0 43.7,800.9 43.8,800.0 44.0,800.4 44.2,802.5 44.3,799.6 44.5,800.8 44.7,800.9 44.8,798.2 45.0,800.0 45.2,801.4 45.4,796.9 45.5,798.9 45.7,799.0 45.9,797.8 46.0,799.3 46.2,798.4 46.4,796.3 46.6,799.1 46.7,798.7 46.9,798.8 47.1,799.2 47.2,797.6 47.4,797.0 47.6,795.0 47.8,797.2 47.9,795.4 48.1,795.3 48.3,794.0 48.4,794.1 48.6,794.4 48.8,796.5 48.9,791.9 49.1,792.4 49.3,794.3 49.5,795.5 49.6,794.1 49.8,790.5 50.0,789.3 50.1,792.7 50.3,790.9 50.5,790.0 50.7,792.3 50.8,791.7 51.0,789.7 51.2,789.0 51.3,788.4 51.5,789.0 51.7,786.7 51.9,785.5 52.0,784.4 52.2,780.4 52.4,782.7 52.5,780.7 52.7,778.4 52.9,773.1 53.0,772.5 53.2,771.7 53.4,764.9 53.6,763.1 53.7,759.7 53.9,750.6 54.1,746.6 54.2,735.3 54.4,721.6 54.6,706.0 54.8,686.9 54.9,664.9 55.1,647.6 55.3,636.1 55.4,640.7 55.6,657.9 55.8,676.6 56.0,694.5 56.1,712.9 56.3,726.0 56.5,733.0 56.6,738.9 56.8,745.9 57.0,749.9 57.1,752.7 57.3,757.1 57.5,755.7 57.7,759.9 57.8,757.5 58.0,758.7 58.2,761.8 58.3,763.4 58.5,763.9 58.7,764.0 58.9,764.4 59.0,765.0 59.2,766.1 59.4,765.5 59.5,766.5 59.7,767.3 59.9,766.8 60.1,768.1 60.2,768.1 60.4,770.2 60.6,768.2 60.7,767.4 60.9,767.7 61.1,768.3 61.3,769.7 61.4,768.2 61.6,769.2 61.8,771.2 61.9,765.6 62.1,767.5 62.3,769.4 62.4,769.6 62.6,769.5 62.8,768.6 63.0,770.1 63.1,769.6 63.3,768.5 63.5,772.2 63.6,769.4 63.8,768.1 64.0,768.6 64.2,768.3 64.3,768.4 64.5,764.7 64.7,767.4 64.8,769.1 65.0,766.0 65.2,767.1 65.4,768.1 65.5,767.5 65.7,767.8 65.9,763.1 66.0,764.1 66.2,763.3 66.4,763.5 66.5,762.8 66.7,756.3 66.9,759.2 67.1,753.3 67.2,752.7 67.4,745.5 67.6,741.8 67.7,735.4 67.9,723.4 68.1,711.2 68.3,698.5 68.4,687.2 68.6,684.8 68.8,694.2 68.9,706.4 69.1,717.9 69.3,733.1 69.5,736.8 69.6,746.1 69.8,749.5 70.0,753.7 70.1,757.3 70.3,758.9 70.5,761.1 70.6,759.7 70.8,760.8 71.0,764.5 71.2,763.1 71.3,763.7 71.5,763.6 71.7,767.6 71.8,767.3 72.0,768.5 72.2,765.7 72.4,767.1 72.5,765.8 72.7,769.4 72.9,771.6 73.0,765.6 73.2,771.8 73.4,770.5 73.6,767.2 73.7,762.4 73.9,770.4 74.1,766.3 74.2,764.7 74.4,766.8 74.6,766.4 74.7,768.7 74.9,762.0 75.1,767.0 75.3,767.5 75.4,766.9 75.6,762.4 75.8,760.6 75.9,764.6 76.1,761.9 76.3,761.5 76.5,764.7 76.6,760.4 76.8,755.3 77.0,760.0 77.1,756.3 77.3,762.9 77.5,761.6 77.7,759.3 77.8,760.7 78.0,762.8 78.2,760.9 78.3,763.9 78.5,760.4 78.7,763.1 78.8,764.2 79.0,764.4 79.2,758.7 79.4,762.5 79.5,755.6 79.7,757.5 79.9,755.2 80.0,762.8 80.2,757.0 80.4,759.9 80.6,759.4 80.7,759.8 80.9,758.3 81.1,760.3 81.2,764.2 81.4,759.7 81.6,761.1 81.8,762.4 81.9,759.6 82.1,757.0 82.3,759.0 82.4,763.2 82.6,756.5 82.8,759.3 83.0,763.4 83.1,763.1 83.3,761.2 83.5,763.4 83.6,761.9 83.8,758.7 84.0,757.9 84.1,760.3 84.3,764.4 84.5,760.8 84.7,760.1 84.8,760.6 85.0,758.8 85.2,762.4 85.3,759.6 85.5,763.3 85.7,756.4 85.9,763.0 86.0,760.4 86.2,757.0 86.4,763.6 86.5,760.9 86.7,755.9 86.9,759.1 87.1,761.9 87.2,759.9 87.4,762.9 87.6,762.7 87.7,762.3 87.9,761.3 88.1,763.7 88.2,761.9 88.4,761.2 88.6,754.7 88.8,762.1 88.9,763.2 89.1,759.4 89.3,759.1 89.4,765.3 89.6,756.2 89.8,761.9 90.0,766.9 90.1,758.7 90.3,762.9 90.5,766.0 90.6,761.1 90.8,763.0 91.0,764.0 91.2,759.6 91.3,761.8 91.5,762.9 91.7,764.4 91.8,762.4 92.0,762.1 92.2,760.2 92.3,762.0 92.5,765.3 92.7,763.5 92.9,761.2 93.0,761.4 93.2,770.3 93.4,766.7 93.5,765.6 93.7,757.6 93.9,765.8 94.1,765.6 94.2,768.8 94.4,765.8 94.6,764.7 94.7,765.9 94.9,759.2 95.1,766.2 95.3,764.0 95.4,760.9 95.6,765.5 95.8,766.3 95.9,757.8 96.1,759.2 96.3,761.1 96.4,760.4 96.6,758.4 96.8,756.5 97.0,763.8 97.1,760.6 97.3,754.6 97.5,753.7 97.6,761.4 97.8,760.0 98.0,762.5 98.2,760.4 98.3,756.6 98.5,759.8 98.7,754.2 98.8,758.1 99.0,760.3 99.2,762.1 99.4,759.4 99.5,761.3 99.7,763.2 99.9,763.4 100.0,764.5 100.2,763.8 100.4,762.9 100.5,765.9 100.7,763.9 100.9,761.7 101.1,762.1 101.2,763.6 101.4,763.3 101.6,763.9 101.7,763.4 101.9,763.8 102.1,763.0 102.3,760.1 102.4,764.2 102.6,765.7 102.8,764.1 102.9,762.5 103.1,764.0 103.3,760.4 103.5,758.0 103.6,762.8 103.8,760.3 104.0,764.4 104.1,759.8 104.3,755.9 104.5,759.8 104.7,766.2 104.8,761.3 105.0,758.7 105.2,760.2 105.3,763.3 105.5,763.2 105.7,762.3 105.8,765.6 106.0,763.5 106.2,761.7 106.4,763.1 106.5,765.7 106.7,763.9 106.9,764.0 107.0,758.7 107.2,760.9 107.4,763.1 107.6,760.4 107.7,763.8 107.9,762.5 108.1,763.3 108.2,760.4 108.4,767.2 108.6,763.9 108.8,760.2 108.9,760.9 109.1,767.1 109.3,759.7 109.4,762.6 109.6,762.8 109.8,760.3 109.9,757.3 110.1,760.7 110.3,761.0 110.5,762.9 110.6,761.9 110.8,760.0 111.0,761.9 111.1,761.0 111.3,760.1 111.5,759.6 111.7,758.7 111.8,760.9 112.0,756.4 112.2,757.4 112.3,758.9 112.5,755.1 112.7,757.5 112.9,753.5 113.0,756.7 113.2,759.7 113.4,759.6 113.5,757.9 113.7,757.3 113.9,754.3 114.0,762.3 114.2,758.9 114.4,760.2 114.6,755.1 114.7,756.8 114.9,752.6 115.1,758.9 115.2,759.2 115.4,752.0 115.6,756.5 115.8,758.1 115.9,752.0 116.1,751.7 116.3,753.5 116.4,754.5 116.6,752.4 116.8,755.9 117.0,756.3 117.1,757.2 117.3,757.2 117.5,759.1 117.6,758.2 117.8,751.8 118.0,753.7 118.1,752.2 118.3,752.1 118.5,754.5 118.7,754.6 118.8,755.7 119.0,750.3 119.2,751.1 119.3,754.0 119.5,753.5 119.7,753.1 119.9,753.6 120.0,751.7 120.2,755.3 120.4,754.3 120.5,753.0 120.7,751.5 120.9,752.6 121.1,745.6 121.2,748.5 121.4,749.7 121.6,744.4 121.7,747.3 121.9,745.7 122.1,740.5 122.2,741.9 122.4,740.4 122.6,743.2 122.8,744.9 122.9,744.5 123.1,743.8 123.3,746.8 123.4,748.3 123.6,751.6 123.8,751.8 124.0,750.1 124.1,748.4 124.3,750.8 124.5,749.7 124.6,748.7 124.8,751.1 125.0,750.0 125.2,751.4 125.3,752.3 125.5,749.9 125.7,756.6 125.8,749.8 126.0,753.3 126.2,750.7 126.4,753.1 126.5,744.2 126.7,748.2 126.9,750.6 127.0,751.3 127.2,755.6 127.4,750.4 127.5,752.7 127.7,751.3 127.9,751.6 128.1,750.4 128.2,748.6 128.4,750.2 128.6,746.1 128.7,751.6 128.9,746.0 129.1,749.1 129.3,753.6 129.4,747.6 129.6,748.1 129.8,750.9 129.9,747.9 130.1,745.7 130.3,748.3 130.5,749.0 130.6,749.2 130.8,745.3 131.0,751.5 131.1,751.2 131.3,747.0 131.5,747.5 131.6,745.6 131.8,750.1 132.0,744.7 132.2,748.0 132.3,745.0 132.5,744.4 132.7,747.8 132.8,749.2 133.0,745.7 133.2,743.9 133.4,747.6 133.5,745.3 133.7,746.1 133.9,749.0 134.0,747.9 134.2,743.6 134.4,750.5 134.6,744.7 134.7,746.6 134.9,742.9 135.1,744.2 135.2,739.9 135.4,748.6 135.6,747.4 135.7,740.9 135.9,740.0 136.1,739.6 136.3,746.5 136.4,742.3 136.6,743.2 136.8,742.4 136.9,742.8 137.1,740.2 137.3,742.9 137.5,739.1 137.6,742.4 137.8,743.3 138.0,743.5 138.1,741.7 138.3,739.9 138.5,742.4 138.7,740.7 138.8,745.7 139.0,743.6 139.2,741.3 139.3,740.3 139.5,739.6 139.7,738.9 139.8,740.2 140.0,741.7 140.2,742.1 140.4,742.1 140.5,745.8 140.7,738.7 140.9,740.3 141.0,747.1 141.2,735.4 141.4,738.6 141.6,740.2 141.7,740.0 141.9,740.5 142.1,738.7 142.2,740.1 142.4,739.2 142.6,740.9 142.8,734.1 142.9,736.4 143.1,738.5 143.3,735.8 143.4,735.6 143.6,739.7 143.8,736.3 143.9,739.4 144.1,739.6 144.3,738.3 144.5,738.7 144.6,737.0 144.8,733.6 145.0,736.9 145.1,738.0 145.3,735.4 145.5,736.3 145.7,738.3 145.8,734.1 146.0,737.8 146.2,740.7 146.3,734.5 146.5,736.1 146.7,735.3 146.9,739.3 147.0,736.1 147.2,737.5 147.4,733.4 147.5,734.9 147.7,734.8 147.9,730.2 148.1,738.1 148.2,736.6 148.4,729.9 148.6,736.0 148.7,733.7 148.9,735.0 149.1,734.6 149.2,729.8 149.4,732.9 149.6,737.0 149.8,731.7 149.9,730.5 150.1,729.5 150.3,729.7 150.4,733.5 150.6,736.7 150.8,733.4 151.0,732.8 151.1,737.6 151.3,730.6 151.5,730.1 151.6,733.0 151.8,732.9 152.0,728.8 152.2,728.3 152.3,731.8 152.5,731.6 152.7,727.8 152.8,730.6 153.0,729.7 153.2,732.3 153.3,730.9 153.5,731.0 153.7,730.4 153.9,733.9 154.0,734.8 154.2,730.4 154.4,733.5 154.5,729.5 154.7,731.6 154.9,733.4 155.1,735.3 155.2,730.6 155.4,731.4 155.6,732.1 155.7,727.9 155.9,731.7 156.1,730.1 156.3,732.7 156.4,729.0 156.6,726.9 156.8,732.0 156.9,732.6 157.1,730.6 157.3,734.2 157.4,731.3 157.6,730.6 157.8,733.3 158.0,728.2 158.1,730.5 158.3,732.2 158.5,734.4 158.6,731.9 158.8,733.1 159.0,730.7 159.2,733.1 159.3,736.6 159.5,730.7 159.7,738.4 159.8,730.9 160.0,732.6 160.2,733.0 160.4,735.2 160.5,729.6 160.7,727.5 160.9,734.3 161.0,734.8 161.2,734.4 161.4,739.4 161.5,733.4 161.7,733.6 161.9,735.3 162.1,733.9 162.2,737.2 162.4,730.0 162.6,732.2 162.7,724.6 162.9,735.3 163.1,732.4 163.3,735.6 163.4,738.8 163.6,733.4 163.8,732.8 163.9,732.3 164.1,731.5 164.3,732.0 164.5,735.3 164.6,733.8 164.8,733.9 165.0,733.4 165.1,736.1 165.3,735.1 165.5,733.6 165.7,735.7 165.8,733.7 166.0,731.2 166.2,737.8 166.3,735.3 166.5,731.8 166.7,737.0 166.8,735.2 167.0,730.5 167.2,738.4 167.4,735.3 167.5,736.7 167.7,735.0 167.9,734.2 168.0,730.8 168.2,737.1 168.4,734.8 168.6,734.1 168.7,735.7 168.9,735.1 169.1,736.6 169.2,734.0 169.4,734.9 169.6,729.7 169.8,734.1 169.9,736.8 170.1,738.5 170.3,734.3 170.4,735.0 170.6,739.3 170.8,734.6 170.9,737.3 171.1,739.7 171.3,735.6 171.5,738.6 171.6,733.8 171.8,736.2 172.0,735.5 172.1,736.1 172.3,738.6 172.5,741.8 172.7,734.2 172.8,734.5 173.0,737.2 173.2,733.5 173.3,737.5 173.5,737.8 173.7,735.7 173.9,737.9 174.0,732.8 174.2,738.7 174.4,733.0 174.5,735.2 174.7,735.7 174.9,736.2 175.0,739.5 175.2,737.6 175.4,736.5 175.6,739.0 175.7,741.7 175.9,737.9 176.1,738.9 176.2,741.2 176.4,738.9 176.6,735.1 176.8,744.6 176.9,744.0 177.1,733.7 177.3,738.6 177.4,739.9 177.6,741.4 177.8,740.7 178.0,738.5 178.1,736.6 178.3,739.6 178.5,742.1 178.6,736.9 178.8,737.1 179.0,739.8 179.1,735.1 179.3,739.4 179.5,739.1 179.7,741.4 179.8,738.6 180.0,738.3 180.2,739.6 180.3,740.6 180.5,739.1 180.7,740.9 180.9,742.9 181.0,744.1 181.2,745.5 181.4,739.4 181.5,740.4 181.7,735.4 181.9,746.4 182.1,740.0 182.2,741.8 182.4,743.3 182.6,738.7 182.7,743.4 182.9,742.3 183.1,737.9 183.2,743.3 183.4,745.6 183.6,738.1 183.8,744.9 183.9,743.5 184.1,744.3 184.3,744.3 184.4,746.5 184.6,742.8 184.8,745.6 185.0,742.5 185.1,745.5 185.3,741.7 185.5,743.5 185.6,748.2 185.8,745.1 186.0,743.7 186.2,741.3 186.3,742.3 186.5,744.9 186.7,746.8 186.8,745.6 187.0,746.0 187.2,744.6 187.4,748.2 187.5,744.0 187.7,743.7 187.9,747.3 188.0,745.4 188.2,744.6 188.4,744.0 188.5,744.9 188.7,747.2 188.9,746.6 189.1,742.8 189.2,746.9 189.4,746.4 189.6,743.6 189.7,748.1 189.9,745.5 190.1,745.5 190.3,748.4 190.4,749.8 190.6,744.9 190.8,747.8 190.9,744.6 191.1,752.7 191.3,745.8 191.5,749.9 191.6,745.1 191.8,748.7 192.0,752.1 192.1,740.1 192.3,745.2 192.5,747.4 192.6,745.8 192.8,744.3 193.0,751.2 193.2,745.9 193.3,741.5 193.5,747.6 193.7,741.1 193.8,748.1 194.0,743.7 194.2,745.4 194.4,748.0 194.5,745.1 194.7,741.2 194.9,740.3 195.0,747.4 195.2,746.2 195.4,742.2 195.6,746.2 195.7,745.2 195.9,745.5 196.1,738.1 196.2,742.9 196.4,745.7 196.6,745.2 196.7,745.5 196.9,737.0 197.1,743.4 197.3,744.1 197.4,749.2 197.6,740.3 197.8,741.7 197.9,742.5 198.1,744.5 198.3,741.1 198.5,745.0 198.6,740.0 198.8,742.8 199.0,741.0 199.1,742.9 199.3,740.9 199.5,738.8 199.7,745.7 199.8,743.9 200.0,741.9 200.2,744.0 200.3,746.1 200.5,741.4 200.7,743.7 200.8,745.5 201.0,745.6 201.2,743.6 201.4,739.4 201.5,747.9 201.7,745.8 201.9,745.2 202.0,744.6 202.2,746.1 202.4,744.5 202.6,743.2 202.7,744.1 202.9,744.6 203.1,744.7 203.2,743.5 203.4,748.2 203.6,743.5 203.8,748.6 203.9,744.5 204.1,748.1 204.3,750.8 204.4,748.1 204.6,745.9 204.8,748.0 204.9,748.4 205.1,743.9 205.3,746.9 205.5,749.0 205.6,747.5 205.8,749.1 206.0,750.8 206.1,751.0 206.3,751.3 206.5,750.6 206.7,748.4 206.8,749.1 207.0,748.5 207.2,748.4 207.3,748.8 207.5,745.0 207.7,748.5 207.9,749.3 208.0,746.9 208.2,749.3 208.4,750.7 208.5,749.1 208.7,754.7 208.9,743.0 209.1,749.0 209.2,745.0 209.4,752.1 209.6,756.3 209.7,743.4 209.9,750.0 210.1,751.0 210.2,749.0 210.4,751.2 210.6,744.2 210.8,752.0 210.9,750.8 211.1,750.0 211.3,748.5 211.4,751.6 211.6,748.8 211.8,750.6 212.0,748.8 212.1,744.5 212.3,750.1 212.5,750.7 212.6,752.1 212.8,748.1 213.0,750.2 213.2,751.9 213.3,750.7 213.5,753.5 213.7,755.4 213.8,748.2 214.0,745.7 214.2,752.6 214.3,754.4 214.5,752.9 214.7,752.6 214.9,749.1 215.0,748.9 215.2,752.9 215.4,748.4 215.5,746.2 215.7,748.3 215.9,757.0 216.1,755.6 216.2,749.2 216.4,749.1 216.6,751.5 216.7,749.1 216.9,754.3 217.1,750.5 217.3,747.6 217.4,753.3 217.6,748.2 217.8,749.9 217.9,749.0 218.1,747.9 218.3,749.2 218.4,746.3 218.6,743.1 218.8,741.9 219.0,743.9 219.1,744.9 219.3,746.4 219.5,746.2 219.6,747.2 219.8,745.7 220.0,743.1 220.2,743.0 220.3,739.2 220.5,743.7 220.7,745.4 220.8,746.0 221.0,744.8 221.2,745.1 221.4,748.3 221.5,746.4 221.7,748.6 221.9,748.6 222.0,748.1 222.2,751.3 222.4,747.0 222.5,748.0 222.7,747.3 222.9,747.7 223.1,754.0 223.2,754.9 223.4,751.0 223.6,752.8 223.7,754.7 223.9,754.2 224.1,755.6 224.3,749.9 224.4,751.5 224.6,754.3 224.8,756.9 224.9,753.6 225.1,751.3 225.3,752.7 225.5,752.0 225.6,751.6 225.8,757.6 226.0,752.4 226.1,754.1 226.3,759.5 226.5,757.2 226.6,755.2 226.8,752.9 227.0,755.5 227.2,758.6 227.3,756.2 227.5,757.9 227.7,755.1 227.8,756.3 228.0,754.6 228.2,756.2 228.4,758.5 228.5,751.8 228.7,755.3 228.9,756.1 229.0,754.2 229.2,754.9 229.4,757.8 229.6,760.9 229.7,757.6 229.9,756.9 230.1,752.3 230.2,761.1 230.4,756.6 230.6,756.4 230.8,753.8 230.9,756.5 231.1,754.0 231.3,757.0 231.4,758.1 231.6,757.1 231.8,757.8 231.9,755.1 232.1,760.9 232.3,755.8 232.5,752.9 232.6,757.1 232.8,755.8 233.0,755.2 233.1,757.0 233.3,758.7 233.5,755.1 233.7,757.8 233.8,761.8 234.0,760.0 234.2,758.0 234.3,758.8 234.5,758.3 234.7,758.6 234.9,760.6 235.0,758.7 235.2,753.0 235.4,759.0 235.5,756.9 235.7,760.8 235.9,757.7 236.0,759.7 236.2,764.8 236.4,756.8 236.6,756.7 236.7,756.0 236.9,753.6 237.1,755.0 237.2,760.6 237.4,758.2 237.6,755.2 237.8,756.2 237.9,761.5 238.1,758.1 238.3,759.2 238.4,761.0 238.6,763.6 238.8,765.1 239.0,762.9 239.1,760.8 239.3,760.9 239.5,765.0 239.6,764.2 239.8,759.9 240.0,761.9 240.1,761.5 240.3,761.0 240.5,759.7 240.7,757.7 240.8,759.7 241.0,757.2 241.2,764.2 241.3,762.6 241.5,758.3 241.7,764.8 241.9,763.6 242.0,756.7 242.2,766.1 242.4,763.6 242.5,766.8 242.7,758.6 242.9,763.1 243.1,762.9 243.2,762.4 243.4,762.4 243.6,764.7 243.7,758.4 243.9,759.1 244.1,758.7 244.2,760.9 244.4,760.8 244.6,763.3 244.8,763.1 244.9,762.6 245.1,760.9 245.3,761.6 245.4,765.1 245.6,764.7 245.8,763.1 246.0,762.1 246.1,766.9 246.3,761.5 246.5,764.7 246.6,766.0 246.8,762.6 247.0,765.3 247.2,760.6 247.3,765.9 247.5,764.0 247.7,759.6 247.8,765.3 248.0,761.4 248.2,766.9 248.3,762.1 248.5,763.4 248.7,764.6 248.9,763.1 249.0,764.7 249.2,762.7 249.4,765.8 249.5,764.2 249.7,764.8 249.9,757.5 250.1,767.3 250.2,764.5 250.4,760.1 250.6,764.8 250.7,765.8 250.9,767.4 251.1,762.1 251.3,768.7 251.4,764.5 251.6,770.9 251.8,764.7 251.9,766.8 252.1,764.2 252.3,762.4 252.5,768.0 252.6,767.6 252.8,769.2 253.0,767.6 253.1,764.1 253.3,761.4 253.5,764.0 253.6,764.0 253.8,763.7 254.0,767.3 254.2,766.7 254.3,765.3 254.5,766.5 254.7,765.7 254.8,766.7 255.0,768.1 255.2,768.7 255.4,764.6 255.5,762.6 255.7,770.0 255.9,766.8 256.0,769.3 256.2,762.5 256.4,765.9 256.6,766.8 256.7,763.2 256.9,765.6 257.1,768.8 257.2,769.7 257.4,771.1 257.6,765.0 257.7,763.7 257.9,768.6 258.1,769.7 258.3,767.9 258.4,764.2 258.6,769.5 258.8,769.6 258.9,769.0 259.1,766.5 259.3,768.5 259.5,769.8 259.6,766.5 259.8,763.3 260.0,768.8 260.1,769.3 260.3,768.2 260.5,770.4 260.7,766.8 260.8,768.1 261.0,767.6 261.2,769.9 261.3,772.5 261.5,767.9 261.7,773.8 261.8,772.5 262.0,770.7 262.2,770.3 262.4,773.3 262.5,768.5 262.7,768.7 262.9,766.4 263.0,770.3 263.2,772.6 263.4,770.6 263.6,770.4 263.7,768.9 263.9,769.9 264.1,765.9 264.2,772.2 264.4,768.6 264.6,766.9 264.8,767.9 264.9,767.8 265.1,772.0 265.3,772.6 265.4,766.6 265.6,772.4 265.8,772.3 265.9,768.7 266.1,766.5 266.3,768.4 266.5,768.8 266.6,771.3 266.8,769.6 267.0,765.5 267.1,771.2 267.3,766.9 267.5,773.0 267.7,767.8 267.8,769.1 268.0,768.8 268.2,769.6 268.3,774.1 268.5,772.9 268.7,772.2 268.9,771.4 269.0,766.7 269.2,769.1 269.4,769.0 269.5,767.8 269.7,771.4 269.9,768.2 270.0,768.2 270.2,767.3 270.4,764.6 270.6,771.2 270.7,772.9 270.9,769.9 271.1,767.0 271.2,762.6 271.4,769.7 271.6,772.2 271.8,769.8 271.9,771.3 272.1,772.5 272.3,771.6 272.4,767.6 272.6,771.2 272.8,770.4 273.0,764.5 273.1,767.3 273.3,764.6 273.5,767.8 273.6,769.5 273.8,765.2 274.0,762.7 274.2,771.0 274.3,768.6 274.5,771.2 274.7,764.1 274.8,770.0 275.0,772.4 275.2,772.2 275.3,766.6 275.5,767.7 275.7,766.7 275.9,769.7 276.0,769.9 276.2,767.6 276.4,764.1 276.5,769.4 276.7,766.5 276.9,769.3 277.1,768.5 277.2,772.0 277.4,770.9 277.6,767.0 277.7,769.1 277.9,772.7 278.1,767.1 278.3,769.6 278.4,771.6 278.6,771.8 278.8,770.1 278.9,765.6 279.1,765.8 279.3,769.7 279.4,770.1 279.6,775.6 279.8,767.2 280.0,772.3 280.1,771.5 280.3,765.4 280.5,767.7 280.6,770.2 280.8,768.7 281.0,769.6 281.2,771.3 281.3,768.2 281.5,771.4 281.7,768.8 281.8,769.1 282.0,771.9 282.2,769.2 282.4,771.5 282.5,774.8 282.7,771.0 282.9,770.6 283.0,772.9 283.2,770.2 283.4,773.9 283.5,768.0 283.7,772.8 283.9,770.0 284.1,769.3 284.2,775.8 284.4,769.3 284.6,775.9 284.7,773.2 284.9,775.2 285.1,769.2 285.3,774.7 285.4,775.4 285.6,771.5 285.8,771.5 285.9,778.0 286.1,772.3 286.3,770.9 286.5,770.4 286.6,773.2 286.8,772.9 287.0,772.6 287.1,776.5 287.3,771.4 287.5,773.5 287.6,776.0 287.8,769.9 288.0,775.0 288.2,777.0 288.3,769.1 288.5,769.8 288.7,770.0 288.8,768.0 289.0,773.8 289.2,768.1 289.4,774.0 289.5,776.5 289.7,768.8 289.9,772.1 290.0,768.2 290.2,775.0 290.4,771.2 290.6,772.4 290.7,773.3 290.9,774.6 291.1,772.4 291.2,773.3 291.4,772.0 291.6,773.7 291.7,770.5 291.9,773.6 292.1,768.7 292.3,772.4 292.4,778.4 292.6,773.9 292.8,770.6 292.9,774.4 293.1,771.4 293.3,769.7 293.5,772.1 293.6,775.8 293.8,775.0" fill="none" stroke="#f40000" stroke-width="1.45" stroke-linejoin="round"/>
<rect x="37.5" y="614.5" width="256.3" height="213.5" fill="none" stroke="#3e3a39" stroke-width="1.2"/>
<path d="M37.5 828.0v4.6M55.8 828.0v2.2M74.1 828.0v4.6M92.4 828.0v2.2M110.7 828.0v4.6M129.0 828.0v2.2M147.3 828.0v4.6M165.7 828.0v2.2M184.0 828.0v4.6M202.3 828.0v2.2M220.6 828.0v4.6M238.9 828.0v2.2M257.2 828.0v4.6M275.5 828.0v2.2M293.8 828.0v4.6" stroke="#3e3a39" stroke-width="1.1" fill="none"/>
<text x="28.60" y="848.70" font-size="17.30" fill="#231815" textLength="9.60" lengthAdjust="spacingAndGlyphs" >5</text>
<text x="62.20" y="848.70" font-size="17.30" fill="#231815" textLength="19.20" lengthAdjust="spacingAndGlyphs" >10</text>
<text x="99.60" y="848.70" font-size="17.30" fill="#231815" textLength="19.20" lengthAdjust="spacingAndGlyphs" >15</text>
<text x="133.90" y="848.70" font-size="17.30" fill="#231815" textLength="19.40" lengthAdjust="spacingAndGlyphs" >20</text>
<text x="170.80" y="848.70" font-size="17.30" fill="#231815" textLength="19.40" lengthAdjust="spacingAndGlyphs" >25</text>
<text x="207.30" y="848.70" font-size="17.30" fill="#231815" textLength="19.40" lengthAdjust="spacingAndGlyphs" >30</text>
<text x="244.00" y="848.70" font-size="17.30" fill="#231815" textLength="19.40" lengthAdjust="spacingAndGlyphs" >35</text>
<text x="280.20" y="848.70" font-size="17.30" fill="#231815" textLength="19.40" lengthAdjust="spacingAndGlyphs" >40</text>
<text x="127.30" y="867.20" font-size="19.20" fill="#231815" textLength="101.30" lengthAdjust="spacingAndGlyphs" >2θ (degree)</text>
<g transform="translate(25.6,768) rotate(-90)"><text x="0.00" y="0.00" font-size="19.20" fill="#231815" textLength="132.50" lengthAdjust="spacingAndGlyphs" >Intensity (a.u.)</text></g>
<text x="42.90" y="632.70" font-size="16.00" fill="#231815" textLength="29.20" lengthAdjust="spacingAndGlyphs" >12 Å</text>
<text x="98.60" y="724.00" font-size="16.00" fill="#231815" textLength="34.00" lengthAdjust="spacingAndGlyphs" >6.7 Å</text>
<path d="M113.3 727.5L100.2 751.5" stroke="#231815" stroke-width="0.9" fill="none"/>
<path d="M98.6 754.5L100.2 745.2L105.3 748Z" fill="#231815"/>
</svg>
<svg style="position:absolute;left:300px;top:578px" width="300" height="295" viewBox="300 578 300 295" font-family="Liberation Sans, sans-serif">
<path d="M438.4 687.3V768.2" stroke="#1aa39a" stroke-width="1.2" stroke-dasharray="3.2 1.4" fill="none"/>
<path d="M443.6 691.2V769.2" stroke="#f2ae4c" stroke-width="1.2" stroke-dasharray="3.2 1.4" fill="none"/>
<path d="M451.7 672.7V784.8" stroke="#5a5aff" stroke-width="1.7" stroke-dasharray="4.6 1.5" fill="none"/>
<path d="M484.3 672.7V817.5" stroke="#5a5aff" stroke-width="1.7" stroke-dasharray="4.6 1.5" fill="none"/>
<path d="M324.4 694.4C332.2 693.3 355.1 690.3 371.0 688.0C386.9 685.7 410.5 682.4 419.7 680.8C428.9 679.2 424.9 678.7 426.3 678.5C427.6 678.4 427.2 677.9 427.7 679.9C428.1 681.9 428.6 686.1 429.0 690.3C429.5 694.6 430.0 701.1 430.4 705.6C430.8 710.2 431.1 717.5 431.4 717.5C431.8 717.5 432.2 708.8 432.5 705.6C432.8 702.5 433.0 700.0 433.4 698.7C433.7 697.4 434.2 697.3 434.6 698.0C435.0 698.7 435.2 700.2 435.6 702.9C435.9 705.5 436.4 709.8 436.7 714.0C437.0 718.2 437.3 724.0 437.5 727.9C437.8 731.8 437.9 737.5 438.1 737.5C438.3 737.5 438.5 731.6 438.8 727.9C439.0 724.2 439.3 719.6 439.6 715.4C440.0 711.2 440.3 706.6 440.9 702.9C441.4 699.2 442.1 695.6 443.0 693.1C443.8 690.7 444.8 689.4 445.7 688.3C446.7 687.1 447.9 685.9 448.5 686.4C449.1 687.0 449.1 688.5 449.5 691.7C449.9 694.9 450.5 701.7 450.9 705.6C451.3 709.6 451.4 715.9 451.7 715.4C452.0 714.9 452.3 707.3 452.6 702.9C452.8 698.5 452.9 691.9 453.4 689.0C453.9 686.0 454.9 685.3 455.5 685.1C456.1 684.8 456.4 686.4 456.9 687.6C457.3 688.7 457.8 691.7 458.3 691.7C458.7 691.7 459.1 689.0 459.6 687.6C460.2 686.2 460.9 684.4 461.7 683.4C462.5 682.3 463.6 681.7 464.5 681.3C465.4 680.9 466.5 681.3 467.3 680.9C468.1 680.4 468.7 678.5 469.4 678.5C470.0 678.5 470.6 680.8 471.2 680.9C471.8 681.0 472.2 679.5 472.9 678.9C473.5 678.4 474.3 677.4 475.0 677.5C475.6 677.7 476.5 678.5 477.0 679.9C477.6 681.3 478.0 683.5 478.4 686.2C478.9 688.8 479.4 693.5 479.8 695.9C480.3 698.3 480.7 700.2 481.2 700.8C481.7 701.4 482.1 699.7 482.6 699.4C483.1 699.0 483.6 700.2 484.0 698.7C484.4 697.2 484.7 692.4 485.1 690.3C485.5 688.3 485.9 686.6 486.5 686.4C487.1 686.3 488.1 689.0 488.9 689.6C489.6 690.3 490.3 690.8 491.0 690.3C491.6 689.9 492.3 687.7 493.0 686.9C493.7 686.1 494.5 684.9 495.1 685.5C495.7 686.1 496.1 688.4 496.5 690.3C497.0 692.3 497.4 696.4 497.9 697.3C498.4 698.2 498.8 695.0 499.3 695.9C499.8 696.8 500.0 700.5 500.7 702.9C501.3 705.2 502.4 710.3 503.2 710.1C504.0 709.9 504.8 704.1 505.6 701.5C506.3 698.9 506.8 696.6 507.6 694.5C508.5 692.4 509.7 689.4 510.4 689.0C511.1 688.5 511.3 689.9 511.8 691.7C512.3 693.6 513.0 698.1 513.5 700.1C514.0 702.1 514.2 704.3 514.6 703.6C515.0 702.9 515.5 698.2 516.0 695.9C516.5 693.6 516.9 689.6 517.4 689.6C517.9 689.6 518.6 694.4 519.1 695.9C519.5 697.4 519.7 699.2 520.2 698.7C520.6 698.2 521.0 695.9 521.6 693.1C522.1 690.3 522.9 685.0 523.6 682.0C524.3 679.0 525.0 676.2 525.7 675.3C526.4 674.4 527.1 675.6 527.8 676.4C528.5 677.3 529.3 678.8 529.9 680.6C530.5 682.5 530.9 685.8 531.3 687.6C531.7 689.3 531.9 691.2 532.4 691.0C532.9 690.9 533.6 688.1 534.1 686.4C534.6 684.8 534.9 683.7 535.5 681.3C536.0 678.9 536.7 674.5 537.6 672.3C538.4 670.1 539.4 669.1 540.3 668.1C541.3 667.1 542.5 665.3 543.1 666.4C543.7 667.6 543.8 671.9 544.1 675.0C544.4 678.2 544.6 685.5 544.9 685.5C545.2 685.5 545.6 677.6 545.9 675.0C546.2 672.5 546.5 669.9 546.9 670.2C547.3 670.4 547.9 674.8 548.3 676.4C548.7 678.1 548.8 679.6 549.4 679.9C549.9 680.3 550.9 676.8 551.5 678.5C552.0 680.3 552.5 686.6 552.9 690.3C553.3 694.1 553.5 701.5 553.8 700.8C554.2 700.1 554.5 690.0 554.9 686.2C555.4 682.3 555.6 680.1 556.3 677.8C557.0 675.5 558.2 673.5 559.1 672.3C560.0 671.0 560.9 671.0 561.9 670.2C562.9 669.4 564.5 667.7 565.4 667.4C566.3 667.0 566.9 666.8 567.5 668.1C568.0 669.4 568.3 672.5 568.6 675.0C568.9 677.5 569.0 683.3 569.3 683.1C569.6 682.9 569.9 676.4 570.3 673.7C570.6 670.9 571.1 668.2 571.6 666.7C572.2 665.2 573.1 665.1 573.7 664.6C574.4 664.1 575.0 663.3 575.5 663.6C576.1 664.0 576.5 664.3 576.9 666.7C577.4 669.1 577.9 671.8 578.3 677.8C578.7 683.9 579.1 698.7 579.3 702.9" fill="none" stroke="#111" stroke-width="1.1" stroke-linejoin="round"/>
<path d="M324.4 735.9C325.3 736.2 327.4 737.2 330.0 737.5C332.6 737.8 335.8 738.0 340.0 737.8C344.2 737.5 348.3 736.5 355.0 736.0C361.7 735.5 370.8 734.9 380.0 734.5C389.2 734.1 403.3 733.9 410.0 733.8C416.7 733.7 417.4 733.7 420.0 733.6C422.6 733.5 423.7 733.0 425.6 733.1C427.4 733.2 429.5 733.8 431.1 734.2C432.8 734.6 434.3 735.0 435.3 735.4C436.3 735.9 436.8 735.5 437.4 736.8C438.0 738.1 438.2 740.2 438.8 743.1C439.4 746.0 440.2 750.6 440.9 754.2C441.6 757.8 442.4 762.7 443.0 764.6C443.5 766.6 443.6 766.5 443.9 766.0C444.3 765.6 444.6 762.6 445.0 761.9C445.5 761.1 446.0 760.6 446.4 761.4C446.9 762.3 447.3 764.2 447.8 766.7C448.3 769.2 448.8 774.0 449.5 776.5C450.1 779.0 451.1 782.0 451.7 781.8C452.4 781.5 452.8 777.8 453.4 775.1C454.0 772.3 454.8 767.6 455.5 765.3C456.2 763.1 456.8 762.5 457.6 761.4C458.4 760.4 459.5 760.5 460.3 759.1C461.2 757.6 461.7 754.8 462.4 752.8C463.1 750.9 463.7 748.9 464.5 747.3C465.3 745.6 466.4 744.3 467.3 743.1C468.2 741.9 469.2 740.7 470.1 740.0C471.0 739.3 471.8 738.9 472.6 738.9C473.4 738.9 474.2 739.1 475.0 740.0C475.7 741.0 476.3 741.6 477.0 744.5C477.7 747.3 478.4 751.4 479.1 757.0C479.8 762.6 480.6 771.4 481.2 777.9C481.8 784.4 482.1 790.4 482.6 796.0C483.1 801.5 483.7 810.5 484.3 811.0C484.9 811.4 485.4 803.8 486.1 798.7C486.7 793.7 487.5 784.4 488.2 780.6C488.9 776.9 489.6 778.1 490.3 776.5C491.0 774.9 491.6 774.4 492.3 770.9C493.0 767.4 493.8 759.2 494.4 755.6C495.0 752.0 495.2 751.0 495.8 749.3C496.4 747.7 497.1 746.8 497.9 745.9C498.7 744.9 499.8 744.2 500.7 743.8C501.6 743.3 502.4 743.2 503.5 743.1C504.5 742.9 506.0 743.2 507.0 742.8C507.9 742.4 508.3 741.3 509.0 740.6C509.7 739.9 510.2 739.0 511.1 738.6C512.1 738.3 513.6 738.4 514.6 738.6C515.6 738.9 516.6 739.5 517.4 740.0C518.2 740.5 518.8 741.8 519.5 741.7C520.2 741.6 520.9 740.1 521.6 739.6C522.3 739.1 522.7 738.9 523.6 738.6C524.6 738.3 526.2 737.3 527.1 737.8C528.1 738.3 528.5 740.4 529.2 741.7C529.9 743.0 530.6 745.1 531.3 745.6C532.0 746.1 532.7 745.1 533.4 744.5C534.1 743.8 534.7 742.7 535.5 741.7C536.3 740.7 537.3 739.3 538.3 738.2C539.2 737.2 540.2 736.0 541.0 735.4C541.8 734.9 542.6 734.2 543.1 735.0C543.7 735.8 543.9 737.6 544.2 740.3C544.6 743.0 544.8 748.4 545.2 751.4C545.6 754.4 546.1 758.2 546.6 758.4C547.1 758.6 547.6 755.6 548.0 752.8C548.4 750.0 548.7 744.7 549.1 741.7C549.5 738.7 549.8 736.4 550.5 735.0C551.2 733.7 552.4 734.1 553.6 733.6C554.8 733.2 556.3 732.5 557.7 732.2C559.1 732.0 560.7 732.0 561.9 732.0C563.1 732.0 563.9 731.4 564.7 732.2C565.5 733.0 566.1 736.0 566.8 736.8C567.5 737.7 568.2 737.2 568.9 737.2C569.6 737.2 570.4 735.9 570.9 736.8C571.5 737.8 571.8 740.2 572.3 743.1C572.9 746.0 573.6 752.7 574.1 754.2C574.7 755.7 575.3 752.6 575.8 752.1C576.3 751.7 576.6 751.5 577.2 751.4C577.8 751.4 578.9 751.7 579.3 751.7" fill="none" stroke="#f4504a" stroke-width="1.1" stroke-linejoin="round"/>
<rect x="324.3" y="616.0" width="255.3" height="212.0" fill="none" stroke="#4a4645" stroke-width="1.3"/>
<path d="M324.3 828.0v4.5M340.3 828.0v2.0M356.2 828.0v3.0M372.2 828.0v2.0M388.1 828.0v4.5M404.1 828.0v2.0M420.0 828.0v3.0M436.0 828.0v2.0M452.0 828.0v4.5M467.9 828.0v2.0M483.9 828.0v3.0M499.8 828.0v2.0M515.8 828.0v4.5M531.7 828.0v2.0M547.7 828.0v3.0M563.6 828.0v2.0M579.6 828.0v4.5" stroke="#3e3a39" stroke-width="1.1" fill="none"/>
<text x="306.20" y="848.70" font-size="17.30" fill="#231815" textLength="39.80" lengthAdjust="spacingAndGlyphs" >2400</text>
<text x="369.50" y="848.70" font-size="17.30" fill="#231815" textLength="39.80" lengthAdjust="spacingAndGlyphs" >2000</text>
<text x="433.50" y="848.70" font-size="17.30" fill="#231815" textLength="39.80" lengthAdjust="spacingAndGlyphs" >1600</text>
<text x="497.50" y="848.70" font-size="17.30" fill="#231815" textLength="39.80" lengthAdjust="spacingAndGlyphs" >1200</text>
<text x="564.20" y="848.70" font-size="17.30" fill="#231815" textLength="30.20" lengthAdjust="spacingAndGlyphs" >800</text>
<text x="392.50" y="867.80" font-size="19.20" fill="#231815" textLength="150.00" lengthAdjust="spacingAndGlyphs" >Wavenumber (cm</text>
<text x="543.00" y="860.50" font-size="11.50" fill="#231815" textLength="9.50" lengthAdjust="spacingAndGlyphs" >-1</text>
<text x="553.50" y="867.80" font-size="19.20" fill="#231815" >)</text>
<g transform="translate(315.5,767) rotate(-90)"><text x="0.00" y="0.00" font-size="19.20" fill="#231815" textLength="127.00" lengthAdjust="spacingAndGlyphs" >Intensity (a.u.)</text></g>
<path d="M338.5 632.2H365.8" stroke="#111" stroke-width="1.1"/>
<path d="M338.5 648.2H365.8" stroke="#f4504a" stroke-width="1.1"/>
<text x="368.60" y="636.30" font-size="16.00" fill="#231815" textLength="36.60" lengthAdjust="spacingAndGlyphs" >TCPP</text>
<text x="368.60" y="652.50" font-size="16.00" fill="#231815" textLength="54.50" lengthAdjust="spacingAndGlyphs" >MHOPF</text>
<text x="434.30" y="659.50" font-size="16.00" fill="#231815" textLength="30.80" lengthAdjust="spacingAndGlyphs" >C=C</text>
<text x="476.30" y="659.50" font-size="16.00" fill="#231815" textLength="26.50" lengthAdjust="spacingAndGlyphs" >C-N</text>
<path d="M458.6 664L452.4 673.5M491 664L484.8 673.5" stroke="#231815" stroke-width="0.9" fill="none"/>
<text x="369.40" y="753.00" font-size="16.00" fill="#231815" textLength="37.50" lengthAdjust="spacingAndGlyphs" >-C=O</text>
<text x="364.80" y="773.50" font-size="16.00" fill="#231815" textLength="45.30" lengthAdjust="spacingAndGlyphs" >~1687</text>
<text x="382.00" y="802.00" font-size="16.00" fill="#231815" textLength="37.50" lengthAdjust="spacingAndGlyphs" >-C=O</text>
<text x="382.00" y="822.00" font-size="16.00" fill="#231815" textLength="45.80" lengthAdjust="spacingAndGlyphs" >~1650</text>
<path d="M411.6 770.0L429.9 743.6" stroke="#231815" stroke-width="0.9"/><path d="M434.8 736.6L432.1 745.1L427.8 742.1Z" fill="#231815"/>
<path d="M424.6 804.0L438.7 777.1" stroke="#231815" stroke-width="0.9"/><path d="M442.6 769.6L441.0 778.3L436.4 775.9Z" fill="#231815"/>
</svg>
<svg style="position:absolute;left:610px;top:608px" width="280" height="232" viewBox="610 608 280 232" >
<defs><filter id="nh" x="0" y="0" width="100%" height="100%" color-interpolation-filters="sRGB"><feTurbulence type="fractalNoise" baseFrequency="0.4" numOctaves="3" seed="3"/><feColorMatrix type="matrix" values="0.18 0 0 0 0.232 0.18 0 0 0 0.232 0.18 0 0 0 0.232 0 0 0 0 1"/></filter></defs>
<rect x="620.1" y="616.3" width="257.4" height="216.5" fill="#505050"/>
<rect x="620.1" y="616.3" width="257.4" height="216.5" filter="url(#nh)"/>
<path d="M632.3 824.6H682" stroke="#f4f4f4" stroke-width="1.5"/>
<text x="634.60" y="814.40" font-size="16.40" fill="#f4f4f4" textLength="45.80" lengthAdjust="spacingAndGlyphs" >20 µm</text>
</svg>
<svg style="position:absolute;left:900px;top:606px" width="280" height="232" viewBox="900 606 280 232" >
<defs>
<filter id="ni1" x="0" y="0" width="100%" height="100%" color-interpolation-filters="sRGB"><feTurbulence type="fractalNoise" baseFrequency="0.22 0.30" numOctaves="3" seed="5"/><feColorMatrix type="matrix" values="0.6 0 0 0 -0.015 0.6 0 0 0 -0.015 0.6 0 0 0 -0.015 0 0 0 0 1"/></filter>
<filter id="ni2" x="0" y="0" width="100%" height="100%" color-interpolation-filters="sRGB"><feTurbulence type="fractalNoise" baseFrequency="0.30 0.36" numOctaves="2" seed="9"/><feColorMatrix type="matrix" values="0.55 0 0 0 0.085 0.55 0 0 0 0.085 0.55 0 0 0 0.085 0 0 0 0 1"/></filter>
<filter id="ni3" x="0" y="0" width="100%" height="100%" color-interpolation-filters="sRGB"><feTurbulence type="fractalNoise" baseFrequency="0.9" numOctaves="1" seed="11"/><feColorMatrix type="matrix" values="0.3 0 0 0 0.35 0.3 0 0 0 0.35 0.3 0 0 0 0.35 0 0 0 0 1"/></filter>
<linearGradient id="gi0" x1="0" y1="0" x2="0" y2="1"><stop offset="0" stop-color="#000"/><stop offset="0.8" stop-color="#010101"/><stop offset="0.94" stop-color="#0c0c0c"/><stop offset="1" stop-color="#222"/></linearGradient>
<linearGradient id="gi1" x1="0" y1="0" x2="0" y2="1"><stop offset="0" stop-color="#fff" stop-opacity="0.28"/><stop offset="0.12" stop-color="#fff" stop-opacity="0.03"/><stop offset="0.55" stop-color="#000" stop-opacity="0.02"/><stop offset="0.9" stop-color="#000" stop-opacity="0.22"/><stop offset="1" stop-color="#000" stop-opacity="0.3"/></linearGradient>
<linearGradient id="gi2" x1="0" y1="0" x2="0" y2="1"><stop offset="0" stop-color="#fff" stop-opacity="0.22"/><stop offset="0.08" stop-color="#000" stop-opacity="0.12"/><stop offset="0.2" stop-color="#000" stop-opacity="0"/><stop offset="1" stop-color="#fff" stop-opacity="0.04"/></linearGradient>
<clipPath id="ci"><rect x="910.8" y="614.0" width="256.1" height="216.6"/></clipPath>
</defs>
<g clip-path="url(#ci)">
<rect x="910.8" y="614.0" width="256.1" height="49.5" fill="url(#gi0)"/>
<rect x="910.8" y="663" width="256.1" height="64" filter="url(#ni1)"/>
<rect x="910.8" y="663" width="256.1" height="64" fill="url(#gi1)"/>
<rect x="910.8" y="726.5" width="256.1" height="104.1" filter="url(#ni2)"/>
<rect x="910.8" y="726.5" width="256.1" height="104.1" fill="url(#gi2)"/>
<path d="M911.8 728v6.9M914.2 728v8.2M916.7 728v5.5M919.7 728v12.3M923.5 728v11.1M926.2 728v9.3M928.9 728v6.4M931.3 728v6.7M935.4 728v11.6M939.2 728v11.4M941.8 728v7.5M945.2 728v10.9M949.1 728v12.0M951.5 728v9.8M955.1 728v9.0M957.6 728v8.8M960.0 728v12.5M963.9 728v9.4M966.7 728v12.3M970.1 728v12.1M974.0 728v9.1M977.0 728v9.8M980.1 728v6.3M982.9 728v11.5M985.2 728v5.4M988.6 728v7.2M991.9 728v8.8M994.8 728v13.0M997.4 728v8.3M1000.0 728v10.1M1002.7 728v7.8M1006.4 728v7.6M1009.7 728v12.2M1012.1 728v5.5M1014.8 728v11.1M1018.2 728v6.9M1021.1 728v6.4M1024.2 728v5.3M1027.8 728v12.2M1031.9 728v10.9M1036.0 728v5.1M1038.8 728v12.7M1042.5 728v8.3M1046.6 728v10.0M1050.5 728v7.3M1053.1 728v8.6M1055.5 728v8.1M1059.7 728v7.7M1061.9 728v5.4M1064.4 728v11.3M1067.3 728v7.3M1069.7 728v12.9M1072.8 728v6.7M1075.1 728v5.4M1077.6 728v10.4M1080.1 728v5.3M1083.3 728v7.0M1087.5 728v6.0M1090.8 728v11.2M1093.8 728v12.9M1096.9 728v6.9M1100.0 728v5.3M1103.0 728v7.0M1107.0 728v11.6M1110.2 728v5.3M1112.9 728v6.9M1115.5 728v6.9M1119.4 728v6.1M1121.7 728v12.4M1125.1 728v12.9M1128.1 728v12.2M1131.6 728v11.3M1135.3 728v9.0M1137.7 728v6.7M1141.6 728v12.2M1145.7 728v7.7M1149.2 728v11.4M1152.7 728v11.5M1155.9 728v10.2M1159.5 728v7.1M1163.5 728v12.7M1165.9 728v12.8" stroke="#262626" stroke-width="1.1" opacity="0.55" fill="none"/>
<polyline points="910.8,663.2 914.8,662.4 918.8,663.6 922.8,662.5 926.8,663.7 930.8,663.2 934.8,662.4 938.8,662.5 942.8,663.2 946.8,663.1 950.8,663.3 954.8,663.6 958.8,662.6 962.8,662.3 966.8,663.6 970.8,662.3 974.8,663.5 978.8,662.5 982.8,663.4 986.8,663.4 990.8,663.5 994.8,663.1 998.8,663.5 1002.8,662.6 1006.8,663.2 1010.8,662.8 1014.8,663.5 1018.8,663.4 1022.8,663.0 1026.8,663.0 1030.8,662.3 1034.8,662.3 1038.8,663.1 1042.8,663.0 1046.8,663.5 1050.8,663.2 1054.8,662.5 1058.8,662.8 1062.8,663.4 1066.8,663.0 1070.8,662.3 1074.8,663.5 1078.8,663.5 1082.8,662.4 1086.8,663.1 1090.8,662.8 1094.8,663.4 1098.8,662.7 1102.8,662.6 1106.8,663.0 1110.8,663.7 1114.8,662.4 1118.8,662.5 1122.8,663.2 1126.8,663.5 1130.8,663.0 1134.8,662.9 1138.8,663.5 1142.8,663.4 1146.8,662.4 1150.8,663.5 1154.8,662.6 1158.8,662.7 1162.8,663.5 1166.8,662.9" fill="none" stroke="#9a9a9a" stroke-width="1.3" opacity="0.85"/>
<polyline points="910.8,727.5 914.8,726.5 918.8,727.6 922.8,726.5 926.8,726.4 930.8,727.0 934.8,726.7 938.8,727.1 942.8,727.6 946.8,727.3 950.8,726.2 954.8,726.7 958.8,727.1 962.8,727.0 966.8,727.3 970.8,727.0 974.8,726.3 978.8,726.6 982.8,727.6 986.8,726.8 990.8,727.4 994.8,727.8 998.8,727.2 1002.8,727.3 1006.8,727.2 1010.8,726.7 1014.8,727.7 1018.8,726.9 1022.8,727.7 1026.8,726.7 1030.8,727.6 1034.8,727.5 1038.8,727.2 1042.8,726.9 1046.8,726.4 1050.8,727.4 1054.8,726.8 1058.8,727.3 1062.8,726.4 1066.8,726.3 1070.8,726.4 1074.8,727.5 1078.8,726.5 1082.8,727.6 1086.8,726.8 1090.8,727.1 1094.8,726.8 1098.8,727.2 1102.8,726.3 1106.8,726.8 1110.8,727.7 1114.8,726.5 1118.8,727.2 1122.8,726.7 1126.8,726.7 1130.8,726.2 1134.8,726.2 1138.8,727.7 1142.8,727.5 1146.8,727.5 1150.8,727.5 1154.8,727.7 1158.8,726.5 1162.8,727.1 1166.8,727.0" fill="none" stroke="#9c9c9c" stroke-width="1.6" opacity="0.7"/>
</g>
<path d="M1085.5 664V726M1080.2 663H1090.8M1080.2 727H1090.8" stroke="#f4f4f4" stroke-width="1.1" fill="none"/>
<path d="M1085.5 663.5l-2 5.5h4zM1085.5 726.5l-2 -5.5h4z" fill="#f4f4f4"/>
<text x="1087.30" y="705.00" font-size="16.20" fill="#f4f4f4" textLength="55.60" lengthAdjust="spacingAndGlyphs" >800 nm</text>
<path d="M918.9 820.9H987.8" stroke="#f4f4f4" stroke-width="1.4"/>
<text x="935.20" y="810.60" font-size="16.40" fill="#f4f4f4" textLength="36.60" lengthAdjust="spacingAndGlyphs" >1 µm</text>
</svg>
</div></body></html>
